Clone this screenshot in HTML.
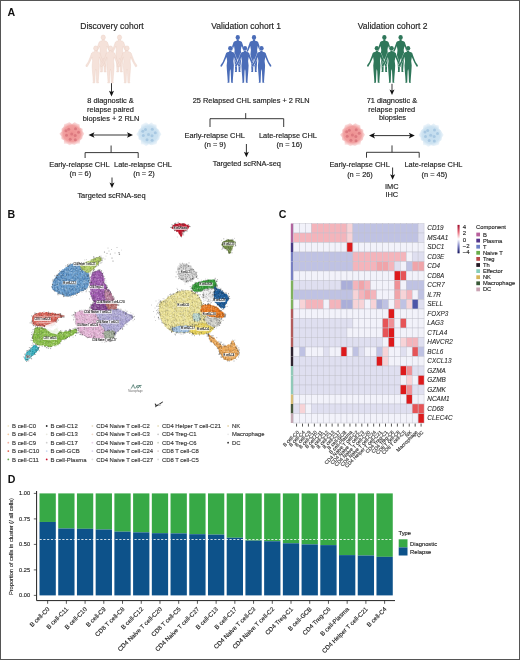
<!DOCTYPE html>
<html><head><meta charset="utf-8"><title>Figure</title>
<style>
html,body{margin:0;padding:0;background:#fff;overflow:hidden;width:520px;height:660px;}
svg{display:block;font-family:"Liberation Sans", sans-serif;-webkit-font-smoothing:antialiased;will-change:transform;}
</style></head>
<body>
<svg width="520" height="660" viewBox="0 0 520 660">
<rect x="0.5" y="0.5" width="519" height="659" fill="#fff" stroke="#555" stroke-width="1"/>
<text x="7.40" y="15.80" font-size="10.6" text-anchor="start" font-weight="bold" font-style="normal" fill="#111" >A</text>
<text x="7.60" y="217.90" font-size="10.6" text-anchor="start" font-weight="bold" font-style="normal" fill="#111" >B</text>
<text x="278.80" y="217.90" font-size="10.6" text-anchor="start" font-weight="bold" font-style="normal" fill="#111" >C</text>
<text x="7.70" y="482.60" font-size="10.6" text-anchor="start" font-weight="bold" font-style="normal" fill="#111" >D</text>
<text x="112.00" y="29.00" font-size="8.5" text-anchor="middle" font-weight="normal" font-style="normal" fill="#222" stroke="#222" stroke-width="0.16" >Discovery cohort</text>
<text x="246.20" y="28.80" font-size="8.5" text-anchor="middle" font-weight="normal" font-style="normal" fill="#222" stroke="#222" stroke-width="0.16" >Validation cohort 1</text>
<text x="392.70" y="29.20" font-size="8.5" text-anchor="middle" font-weight="normal" font-style="normal" fill="#222" stroke="#222" stroke-width="0.16" >Validation cohort 2</text>
<defs><g id="pp"><ellipse cx="0" cy="2.45" rx="2.15" ry="2.45"/><path d="M 0 4.6 L 1.0 4.7 L 1.1 5.8 Q 3.5 6.0 4.1 7.1 L 5.5 11 L 7.5 16 L 9.6 19.0 L 9.9 20.3 L 8.6 20.9 L 6.3 16.9 L 4.6 13.2 L 3.7 11.0 L 3.5 12.5 L 3.1 15 L 3.6 19.5 L 3.3 25 L 2.8 31 L 2.5 35.8 L 2.9 36.9 L 0.9 36.9 L 0.7 31 L 0.4 25 L 0 23.2 L -0.4 25 L -0.7 31 L -0.9 36.9 L -2.9 36.9 L -2.5 35.8 L -2.8 31 L -3.3 25 L -3.6 19.5 L -3.1 15 L -3.5 12.5 L -3.7 11.0 L -4.6 13.2 L -6.3 16.9 L -8.6 20.9 L -9.9 20.3 L -9.6 19.0 L -7.5 16 L -5.5 11 L -4.1 7.1 Q -3.5 6.0 -1.1 5.8 L -1.0 4.7 Z"/></g></defs>
<use href="#pp" x="103.25" y="35.00" fill="#f5e2da" stroke="#ebd0c5" stroke-width="0.45"/>
<use href="#pp" x="119.50" y="35.00" fill="#f5e2da" stroke="#ebd0c5" stroke-width="0.45"/>
<use href="#pp" x="95.75" y="45.90" fill="#f5e2da" stroke="#ebd0c5" stroke-width="0.45"/>
<use href="#pp" x="110.50" y="45.90" fill="#f5e2da" stroke="#ebd0c5" stroke-width="0.45"/>
<use href="#pp" x="127.00" y="45.90" fill="#f5e2da" stroke="#ebd0c5" stroke-width="0.45"/>
<use href="#pp" x="237.75" y="35.00" fill="#4b6db8"/>
<use href="#pp" x="254.00" y="35.00" fill="#4b6db8"/>
<use href="#pp" x="230.25" y="45.90" fill="#4b6db8" stroke="#fff" stroke-opacity="0.7" stroke-width="0.8" paint-order="stroke"/>
<use href="#pp" x="245.00" y="45.90" fill="#4b6db8" stroke="#fff" stroke-opacity="0.7" stroke-width="0.8" paint-order="stroke"/>
<use href="#pp" x="261.50" y="45.90" fill="#4b6db8" stroke="#fff" stroke-opacity="0.7" stroke-width="0.8" paint-order="stroke"/>
<use href="#pp" x="384.35" y="35.00" fill="#2f775a"/>
<use href="#pp" x="400.60" y="35.00" fill="#2f775a"/>
<use href="#pp" x="376.85" y="45.90" fill="#2f775a" stroke="#fff" stroke-opacity="0.7" stroke-width="0.8" paint-order="stroke"/>
<use href="#pp" x="391.60" y="45.90" fill="#2f775a" stroke="#fff" stroke-opacity="0.7" stroke-width="0.8" paint-order="stroke"/>
<use href="#pp" x="408.10" y="45.90" fill="#2f775a" stroke="#fff" stroke-opacity="0.7" stroke-width="0.8" paint-order="stroke"/>
<defs>
<radialGradient id="rg" cx="50%" cy="50%" r="50%"><stop offset="0" stop-color="#ee9090"/><stop offset="0.7" stop-color="#f1a0a0"/><stop offset="1" stop-color="#f6c4c4" stop-opacity="0.5"/></radialGradient>
<radialGradient id="bg" cx="50%" cy="50%" r="50%"><stop offset="0" stop-color="#c2dcee"/><stop offset="0.7" stop-color="#cce2f1"/><stop offset="1" stop-color="#e0edf7" stop-opacity="0.5"/></radialGradient>
</defs>
<defs><filter id="blr" x="-20%" y="-20%" width="140%" height="140%"><feGaussianBlur stdDeviation="0.55"/></filter></defs>
<line x1="111.5" y1="83.2" x2="111.5" y2="92.4" stroke="#111" stroke-width="0.85"/>
<path d="M 111.5 96.4 L 109.0 90.80000000000001 L 111.5 92.10000000000001 L 114.0 90.80000000000001 Z" fill="#111"/>
<text x="110.50" y="102.90" font-size="7.4" text-anchor="middle" font-weight="normal" font-style="normal" fill="#222" stroke="#222" stroke-width="0.16" >8 diagnostic &amp;</text>
<text x="110.50" y="111.90" font-size="7.4" text-anchor="middle" font-weight="normal" font-style="normal" fill="#222" stroke="#222" stroke-width="0.16" >relapse paired</text>
<text x="111.00" y="120.80" font-size="7.4" text-anchor="middle" font-weight="normal" font-style="normal" fill="#222" stroke="#222" stroke-width="0.16" >biopsies + 2 RLN</text>
<g filter="url(#blr)"><polygon points="84.34,133.80 82.70,136.24 82.21,138.72 80.23,140.37 79.79,143.57 76.73,143.63 74.53,144.89 72.00,144.34 69.41,145.13 67.19,143.78 63.98,143.86 63.87,140.28 61.37,138.92 61.36,136.23 59.26,133.80 61.68,131.44 61.55,128.77 63.56,127.07 64.27,124.11 66.97,123.37 69.32,122.06 72.00,124.04 74.70,121.98 76.96,123.50 79.59,124.28 79.78,127.59 82.65,128.67 82.63,131.37" fill="url(#rg)"/>
<circle cx="68.70" cy="129.20" r="1.5" fill="#dc7a80"/>
<circle cx="75.50" cy="128.80" r="1.5" fill="#dc7a80"/>
<circle cx="71.70" cy="134.10" r="1.5" fill="#dc7a80"/>
<circle cx="66.50" cy="135.20" r="1.5" fill="#dc7a80"/>
<circle cx="75.20" cy="135.40" r="1.5" fill="#dc7a80"/>
<circle cx="70.20" cy="139.30" r="1.5" fill="#dc7a80"/>
<circle cx="75.30" cy="139.80" r="1.5" fill="#dc7a80"/>
<circle cx="78.50" cy="132.30" r="1.5" fill="#dc7a80"/>
<circle cx="66.00" cy="130.80" r="1.5" fill="#dc7a80"/>
</g>
<g filter="url(#blr)"><polygon points="161.52,134.20 159.70,136.69 159.39,139.30 157.30,140.98 156.66,144.06 153.90,144.80 151.34,145.31 148.80,144.37 146.06,146.20 143.81,144.55 140.83,144.19 140.95,140.46 138.50,139.16 138.39,136.58 136.16,134.20 138.07,131.75 138.91,129.44 140.87,127.88 141.22,124.70 143.70,123.61 146.10,122.37 148.80,124.34 151.51,122.34 153.56,124.31 156.59,124.43 156.66,127.93 158.68,129.44 159.82,131.68" fill="url(#bg)"/>
<circle cx="145.50" cy="129.60" r="1.5" fill="#a8c8e2"/>
<circle cx="152.30" cy="129.20" r="1.5" fill="#a8c8e2"/>
<circle cx="148.50" cy="134.50" r="1.5" fill="#a8c8e2"/>
<circle cx="143.30" cy="135.60" r="1.5" fill="#a8c8e2"/>
<circle cx="152.00" cy="135.80" r="1.5" fill="#a8c8e2"/>
<circle cx="147.00" cy="139.70" r="1.5" fill="#a8c8e2"/>
<circle cx="152.10" cy="140.20" r="1.5" fill="#a8c8e2"/>
<circle cx="155.30" cy="132.70" r="1.5" fill="#a8c8e2"/>
<circle cx="142.80" cy="131.20" r="1.5" fill="#a8c8e2"/>
</g>
<line x1="92.5" y1="135" x2="129" y2="135" stroke="#111" stroke-width="0.85"/>
<path d="M 88.5 135 L 94.5 132.2 L 93.1 135 L 94.5 137.8 Z" fill="#111"/>
<path d="M 133 135 L 127 132.2 L 128.4 135 L 127 137.8 Z" fill="#111"/>
<path d="M 111.1 145.5 L 111.1 152.6 M 85.1 158.0 L 85.1 152.6 L 138.2 152.6 L 138.2 158.0" fill="none" stroke="#222" stroke-width="0.9"/>
<text x="79.40" y="167.30" font-size="7.4" text-anchor="middle" font-weight="normal" font-style="normal" fill="#222" stroke="#222" stroke-width="0.16" >Early-relapse CHL</text>
<text x="80.40" y="176.30" font-size="7.4" text-anchor="middle" font-weight="normal" font-style="normal" fill="#222" stroke="#222" stroke-width="0.16" >(n = 6)</text>
<text x="143.00" y="167.30" font-size="7.4" text-anchor="middle" font-weight="normal" font-style="normal" fill="#222" stroke="#222" stroke-width="0.16" >Late-relapse CHL</text>
<text x="144.00" y="176.30" font-size="7.4" text-anchor="middle" font-weight="normal" font-style="normal" fill="#222" stroke="#222" stroke-width="0.16" >(n = 2)</text>
<line x1="112" y1="177.5" x2="112" y2="184" stroke="#111" stroke-width="0.85"/>
<path d="M 112 188 L 109.5 182.4 L 112 183.7 L 114.5 182.4 Z" fill="#111"/>
<text x="111.50" y="197.50" font-size="7.4" text-anchor="middle" font-weight="normal" font-style="normal" fill="#222" stroke="#222" stroke-width="0.16" >Targeted scRNA-seq</text>
<text x="251.20" y="102.90" font-size="7.4" text-anchor="middle" font-weight="normal" font-style="normal" fill="#222" stroke="#222" stroke-width="0.16" >25 Relapsed CHL samples + 2 RLN</text>
<path d="M 245.7 113.1 L 245.7 118.7 M 210.0 127.0 L 210.0 118.7 L 283.7 118.7 L 283.7 127.0" fill="none" stroke="#222" stroke-width="0.9"/>
<text x="214.70" y="137.50" font-size="7.4" text-anchor="middle" font-weight="normal" font-style="normal" fill="#222" stroke="#222" stroke-width="0.16" >Early-relapse CHL</text>
<text x="215.10" y="147.00" font-size="7.4" text-anchor="middle" font-weight="normal" font-style="normal" fill="#222" stroke="#222" stroke-width="0.16" >(n = 9)</text>
<text x="287.90" y="137.50" font-size="7.4" text-anchor="middle" font-weight="normal" font-style="normal" fill="#222" stroke="#222" stroke-width="0.16" >Late-relapse CHL</text>
<text x="289.40" y="147.00" font-size="7.4" text-anchor="middle" font-weight="normal" font-style="normal" fill="#222" stroke="#222" stroke-width="0.16" >(n = 16)</text>
<line x1="246.4" y1="144" x2="246.4" y2="153.3" stroke="#111" stroke-width="0.85"/>
<path d="M 246.4 157.3 L 243.9 151.70000000000002 L 246.4 153.0 L 248.9 151.70000000000002 Z" fill="#111"/>
<text x="246.80" y="166.40" font-size="7.4" text-anchor="middle" font-weight="normal" font-style="normal" fill="#222" stroke="#222" stroke-width="0.16" >Targeted scRNA-seq</text>
<line x1="392" y1="83.8" x2="392" y2="91" stroke="#111" stroke-width="0.85"/>
<path d="M 392 95 L 389.5 89.4 L 392 90.7 L 394.5 89.4 Z" fill="#111"/>
<text x="391.90" y="102.80" font-size="7.4" text-anchor="middle" font-weight="normal" font-style="normal" fill="#222" stroke="#222" stroke-width="0.16" >71 diagnostic &amp;</text>
<text x="391.70" y="111.90" font-size="7.4" text-anchor="middle" font-weight="normal" font-style="normal" fill="#222" stroke="#222" stroke-width="0.16" >relapse paired</text>
<text x="392.50" y="120.40" font-size="7.4" text-anchor="middle" font-weight="normal" font-style="normal" fill="#222" stroke="#222" stroke-width="0.16" >biopsies</text>
<g filter="url(#blr)"><polygon points="365.04,134.80 363.40,137.24 362.91,139.72 360.93,141.37 360.49,144.57 357.43,144.63 355.23,145.89 352.70,145.34 350.11,146.13 347.89,144.78 344.68,144.86 344.57,141.28 342.07,139.92 342.06,137.23 339.96,134.80 342.38,132.44 342.25,129.77 344.26,128.07 344.97,125.11 347.67,124.37 350.02,123.06 352.70,125.04 355.40,122.98 357.66,124.50 360.29,125.28 360.48,128.59 363.35,129.67 363.33,132.37" fill="url(#rg)"/>
<circle cx="349.40" cy="130.20" r="1.5" fill="#dc7a80"/>
<circle cx="356.20" cy="129.80" r="1.5" fill="#dc7a80"/>
<circle cx="352.40" cy="135.10" r="1.5" fill="#dc7a80"/>
<circle cx="347.20" cy="136.20" r="1.5" fill="#dc7a80"/>
<circle cx="355.90" cy="136.40" r="1.5" fill="#dc7a80"/>
<circle cx="350.90" cy="140.30" r="1.5" fill="#dc7a80"/>
<circle cx="356.00" cy="140.80" r="1.5" fill="#dc7a80"/>
<circle cx="359.20" cy="133.30" r="1.5" fill="#dc7a80"/>
<circle cx="346.70" cy="131.80" r="1.5" fill="#dc7a80"/>
</g>
<g filter="url(#blr)"><polygon points="443.72,135.00 441.90,137.49 441.59,140.10 439.50,141.78 438.86,144.86 436.10,145.60 433.54,146.11 431.00,145.17 428.26,147.00 426.01,145.35 423.03,144.99 423.15,141.26 420.70,139.96 420.59,137.38 418.36,135.00 420.27,132.55 421.11,130.24 423.07,128.68 423.42,125.50 425.90,124.41 428.30,123.17 431.00,125.14 433.71,123.14 435.76,125.11 438.79,125.23 438.86,128.73 440.88,130.24 442.02,132.48" fill="url(#bg)"/>
<circle cx="427.70" cy="130.40" r="1.5" fill="#a8c8e2"/>
<circle cx="434.50" cy="130.00" r="1.5" fill="#a8c8e2"/>
<circle cx="430.70" cy="135.30" r="1.5" fill="#a8c8e2"/>
<circle cx="425.50" cy="136.40" r="1.5" fill="#a8c8e2"/>
<circle cx="434.20" cy="136.60" r="1.5" fill="#a8c8e2"/>
<circle cx="429.20" cy="140.50" r="1.5" fill="#a8c8e2"/>
<circle cx="434.30" cy="141.00" r="1.5" fill="#a8c8e2"/>
<circle cx="437.50" cy="133.50" r="1.5" fill="#a8c8e2"/>
<circle cx="425.00" cy="132.00" r="1.5" fill="#a8c8e2"/>
</g>
<line x1="373" y1="135.6" x2="410.8" y2="135.6" stroke="#111" stroke-width="0.85"/>
<path d="M 369 135.6 L 375 132.79999999999998 L 373.6 135.6 L 375 138.4 Z" fill="#111"/>
<path d="M 414.8 135.6 L 408.8 132.79999999999998 L 410.2 135.6 L 408.8 138.4 Z" fill="#111"/>
<path d="M 392 145.4 L 392 152.3 M 366.5 157.7 L 366.5 152.3 L 419.2 152.3 L 419.2 157.7" fill="none" stroke="#222" stroke-width="0.9"/>
<text x="359.60" y="167.20" font-size="7.4" text-anchor="middle" font-weight="normal" font-style="normal" fill="#222" stroke="#222" stroke-width="0.16" >Early-relapse CHL</text>
<text x="360.00" y="176.50" font-size="7.4" text-anchor="middle" font-weight="normal" font-style="normal" fill="#222" stroke="#222" stroke-width="0.16" >(n = 26)</text>
<text x="433.40" y="167.20" font-size="7.4" text-anchor="middle" font-weight="normal" font-style="normal" fill="#222" stroke="#222" stroke-width="0.16" >Late-relapse CHL</text>
<text x="434.40" y="176.50" font-size="7.4" text-anchor="middle" font-weight="normal" font-style="normal" fill="#222" stroke="#222" stroke-width="0.16" >(n = 45)</text>
<line x1="392.6" y1="167.5" x2="392.6" y2="175.8" stroke="#111" stroke-width="0.85"/>
<path d="M 392.6 179.8 L 390.1 174.20000000000002 L 392.6 175.5 L 395.1 174.20000000000002 Z" fill="#111"/>
<text x="391.80" y="188.50" font-size="7.4" text-anchor="middle" font-weight="normal" font-style="normal" fill="#222" stroke="#222" stroke-width="0.16" >IMC</text>
<text x="391.80" y="197.40" font-size="7.4" text-anchor="middle" font-weight="normal" font-style="normal" fill="#222" stroke="#222" stroke-width="0.16" >IHC</text>
<rect x="290.80" y="223.50" width="2.6" height="9.50" fill="#b0649e"/>
<rect x="293.60" y="223.50" width="5.93" height="9.50" fill="#f2f2fa" stroke="#c0c0cc" stroke-width="0.45"/>
<rect x="299.53" y="223.50" width="5.93" height="9.50" fill="#f2f2fa" stroke="#c0c0cc" stroke-width="0.45"/>
<rect x="305.46" y="223.50" width="5.93" height="9.50" fill="#f2f2fa" stroke="#c0c0cc" stroke-width="0.45"/>
<rect x="311.39" y="223.50" width="5.93" height="9.50" fill="#f4b4bb" stroke="#c0c0cc" stroke-width="0.45"/>
<rect x="317.32" y="223.50" width="5.93" height="9.50" fill="#f4b4bb" stroke="#c0c0cc" stroke-width="0.45"/>
<rect x="323.25" y="223.50" width="5.93" height="9.50" fill="#f4b4bb" stroke="#c0c0cc" stroke-width="0.45"/>
<rect x="329.18" y="223.50" width="5.93" height="9.50" fill="#f4b4bb" stroke="#c0c0cc" stroke-width="0.45"/>
<rect x="335.11" y="223.50" width="5.93" height="9.50" fill="#f4b4bb" stroke="#c0c0cc" stroke-width="0.45"/>
<rect x="341.04" y="223.50" width="5.93" height="9.50" fill="#f4b4bb" stroke="#c0c0cc" stroke-width="0.45"/>
<rect x="346.97" y="223.50" width="5.93" height="9.50" fill="#f7d3d7" stroke="#c0c0cc" stroke-width="0.45"/>
<rect x="352.90" y="223.50" width="5.93" height="9.50" fill="#bfc2e3" stroke="#c0c0cc" stroke-width="0.45"/>
<rect x="358.83" y="223.50" width="5.93" height="9.50" fill="#bfc2e3" stroke="#c0c0cc" stroke-width="0.45"/>
<rect x="364.76" y="223.50" width="5.93" height="9.50" fill="#bfc2e3" stroke="#c0c0cc" stroke-width="0.45"/>
<rect x="370.69" y="223.50" width="5.93" height="9.50" fill="#bfc2e3" stroke="#c0c0cc" stroke-width="0.45"/>
<rect x="376.62" y="223.50" width="5.93" height="9.50" fill="#bfc2e3" stroke="#c0c0cc" stroke-width="0.45"/>
<rect x="382.55" y="223.50" width="5.93" height="9.50" fill="#bfc2e3" stroke="#c0c0cc" stroke-width="0.45"/>
<rect x="388.48" y="223.50" width="5.93" height="9.50" fill="#bfc2e3" stroke="#c0c0cc" stroke-width="0.45"/>
<rect x="394.41" y="223.50" width="5.93" height="9.50" fill="#bfc2e3" stroke="#c0c0cc" stroke-width="0.45"/>
<rect x="400.34" y="223.50" width="5.93" height="9.50" fill="#bfc2e3" stroke="#c0c0cc" stroke-width="0.45"/>
<rect x="406.27" y="223.50" width="5.93" height="9.50" fill="#bfc2e3" stroke="#c0c0cc" stroke-width="0.45"/>
<rect x="412.20" y="223.50" width="5.93" height="9.50" fill="#bfc2e3" stroke="#c0c0cc" stroke-width="0.45"/>
<rect x="418.13" y="223.50" width="5.93" height="9.50" fill="#dfdff0" stroke="#c0c0cc" stroke-width="0.45"/>
<text x="427.30" y="230.45" font-size="6.4" text-anchor="start" font-weight="normal" font-style="italic" fill="#222" stroke="#222" stroke-width="0.06" >CD19</text>
<rect x="290.80" y="233.00" width="2.6" height="9.50" fill="#b0649e"/>
<rect x="293.60" y="233.00" width="5.93" height="9.50" fill="#f4b4bb" stroke="#c0c0cc" stroke-width="0.45"/>
<rect x="299.53" y="233.00" width="5.93" height="9.50" fill="#f4b4bb" stroke="#c0c0cc" stroke-width="0.45"/>
<rect x="305.46" y="233.00" width="5.93" height="9.50" fill="#f4b4bb" stroke="#c0c0cc" stroke-width="0.45"/>
<rect x="311.39" y="233.00" width="5.93" height="9.50" fill="#f4b4bb" stroke="#c0c0cc" stroke-width="0.45"/>
<rect x="317.32" y="233.00" width="5.93" height="9.50" fill="#f4b4bb" stroke="#c0c0cc" stroke-width="0.45"/>
<rect x="323.25" y="233.00" width="5.93" height="9.50" fill="#f4b4bb" stroke="#c0c0cc" stroke-width="0.45"/>
<rect x="329.18" y="233.00" width="5.93" height="9.50" fill="#f4b4bb" stroke="#c0c0cc" stroke-width="0.45"/>
<rect x="335.11" y="233.00" width="5.93" height="9.50" fill="#f4b4bb" stroke="#c0c0cc" stroke-width="0.45"/>
<rect x="341.04" y="233.00" width="5.93" height="9.50" fill="#f4b4bb" stroke="#c0c0cc" stroke-width="0.45"/>
<rect x="346.97" y="233.00" width="5.93" height="9.50" fill="#f7d3d7" stroke="#c0c0cc" stroke-width="0.45"/>
<rect x="352.90" y="233.00" width="5.93" height="9.50" fill="#bfc2e3" stroke="#c0c0cc" stroke-width="0.45"/>
<rect x="358.83" y="233.00" width="5.93" height="9.50" fill="#bfc2e3" stroke="#c0c0cc" stroke-width="0.45"/>
<rect x="364.76" y="233.00" width="5.93" height="9.50" fill="#bfc2e3" stroke="#c0c0cc" stroke-width="0.45"/>
<rect x="370.69" y="233.00" width="5.93" height="9.50" fill="#bfc2e3" stroke="#c0c0cc" stroke-width="0.45"/>
<rect x="376.62" y="233.00" width="5.93" height="9.50" fill="#bfc2e3" stroke="#c0c0cc" stroke-width="0.45"/>
<rect x="382.55" y="233.00" width="5.93" height="9.50" fill="#bfc2e3" stroke="#c0c0cc" stroke-width="0.45"/>
<rect x="388.48" y="233.00" width="5.93" height="9.50" fill="#bfc2e3" stroke="#c0c0cc" stroke-width="0.45"/>
<rect x="394.41" y="233.00" width="5.93" height="9.50" fill="#bfc2e3" stroke="#c0c0cc" stroke-width="0.45"/>
<rect x="400.34" y="233.00" width="5.93" height="9.50" fill="#bfc2e3" stroke="#c0c0cc" stroke-width="0.45"/>
<rect x="406.27" y="233.00" width="5.93" height="9.50" fill="#bfc2e3" stroke="#c0c0cc" stroke-width="0.45"/>
<rect x="412.20" y="233.00" width="5.93" height="9.50" fill="#bfc2e3" stroke="#c0c0cc" stroke-width="0.45"/>
<rect x="418.13" y="233.00" width="5.93" height="9.50" fill="#dfdff0" stroke="#c0c0cc" stroke-width="0.45"/>
<text x="427.30" y="239.95" font-size="6.4" text-anchor="start" font-weight="normal" font-style="italic" fill="#222" stroke="#222" stroke-width="0.06" >MS4A1</text>
<rect x="290.80" y="242.50" width="2.6" height="9.50" fill="#463a86"/>
<rect x="293.60" y="242.50" width="5.93" height="9.50" fill="#f2f2fa" stroke="#c0c0cc" stroke-width="0.45"/>
<rect x="299.53" y="242.50" width="5.93" height="9.50" fill="#f2f2fa" stroke="#c0c0cc" stroke-width="0.45"/>
<rect x="305.46" y="242.50" width="5.93" height="9.50" fill="#f2f2fa" stroke="#c0c0cc" stroke-width="0.45"/>
<rect x="311.39" y="242.50" width="5.93" height="9.50" fill="#f2f2fa" stroke="#c0c0cc" stroke-width="0.45"/>
<rect x="317.32" y="242.50" width="5.93" height="9.50" fill="#f2f2fa" stroke="#c0c0cc" stroke-width="0.45"/>
<rect x="323.25" y="242.50" width="5.93" height="9.50" fill="#f2f2fa" stroke="#c0c0cc" stroke-width="0.45"/>
<rect x="329.18" y="242.50" width="5.93" height="9.50" fill="#f2f2fa" stroke="#c0c0cc" stroke-width="0.45"/>
<rect x="335.11" y="242.50" width="5.93" height="9.50" fill="#f2f2fa" stroke="#c0c0cc" stroke-width="0.45"/>
<rect x="341.04" y="242.50" width="5.93" height="9.50" fill="#f2f2fa" stroke="#c0c0cc" stroke-width="0.45"/>
<rect x="346.97" y="242.50" width="5.93" height="9.50" fill="#dd1a1c" stroke="#c0c0cc" stroke-width="0.45"/>
<rect x="352.90" y="242.50" width="5.93" height="9.50" fill="#f2f2fa" stroke="#c0c0cc" stroke-width="0.45"/>
<rect x="358.83" y="242.50" width="5.93" height="9.50" fill="#f2f2fa" stroke="#c0c0cc" stroke-width="0.45"/>
<rect x="364.76" y="242.50" width="5.93" height="9.50" fill="#f2f2fa" stroke="#c0c0cc" stroke-width="0.45"/>
<rect x="370.69" y="242.50" width="5.93" height="9.50" fill="#f2f2fa" stroke="#c0c0cc" stroke-width="0.45"/>
<rect x="376.62" y="242.50" width="5.93" height="9.50" fill="#f2f2fa" stroke="#c0c0cc" stroke-width="0.45"/>
<rect x="382.55" y="242.50" width="5.93" height="9.50" fill="#f2f2fa" stroke="#c0c0cc" stroke-width="0.45"/>
<rect x="388.48" y="242.50" width="5.93" height="9.50" fill="#f2f2fa" stroke="#c0c0cc" stroke-width="0.45"/>
<rect x="394.41" y="242.50" width="5.93" height="9.50" fill="#f2f2fa" stroke="#c0c0cc" stroke-width="0.45"/>
<rect x="400.34" y="242.50" width="5.93" height="9.50" fill="#f2f2fa" stroke="#c0c0cc" stroke-width="0.45"/>
<rect x="406.27" y="242.50" width="5.93" height="9.50" fill="#f2f2fa" stroke="#c0c0cc" stroke-width="0.45"/>
<rect x="412.20" y="242.50" width="5.93" height="9.50" fill="#f2f2fa" stroke="#c0c0cc" stroke-width="0.45"/>
<rect x="418.13" y="242.50" width="5.93" height="9.50" fill="#f2f2fa" stroke="#c0c0cc" stroke-width="0.45"/>
<text x="427.30" y="249.45" font-size="6.4" text-anchor="start" font-weight="normal" font-style="italic" fill="#222" stroke="#222" stroke-width="0.06" >SDC1</text>
<rect x="290.80" y="252.00" width="2.6" height="9.50" fill="#7880c2"/>
<rect x="293.60" y="252.00" width="5.93" height="9.50" fill="#bfc2e3" stroke="#c0c0cc" stroke-width="0.45"/>
<rect x="299.53" y="252.00" width="5.93" height="9.50" fill="#bfc2e3" stroke="#c0c0cc" stroke-width="0.45"/>
<rect x="305.46" y="252.00" width="5.93" height="9.50" fill="#bfc2e3" stroke="#c0c0cc" stroke-width="0.45"/>
<rect x="311.39" y="252.00" width="5.93" height="9.50" fill="#bfc2e3" stroke="#c0c0cc" stroke-width="0.45"/>
<rect x="317.32" y="252.00" width="5.93" height="9.50" fill="#bfc2e3" stroke="#c0c0cc" stroke-width="0.45"/>
<rect x="323.25" y="252.00" width="5.93" height="9.50" fill="#bfc2e3" stroke="#c0c0cc" stroke-width="0.45"/>
<rect x="329.18" y="252.00" width="5.93" height="9.50" fill="#bfc2e3" stroke="#c0c0cc" stroke-width="0.45"/>
<rect x="335.11" y="252.00" width="5.93" height="9.50" fill="#bfc2e3" stroke="#c0c0cc" stroke-width="0.45"/>
<rect x="341.04" y="252.00" width="5.93" height="9.50" fill="#bfc2e3" stroke="#c0c0cc" stroke-width="0.45"/>
<rect x="346.97" y="252.00" width="5.93" height="9.50" fill="#bfc2e3" stroke="#c0c0cc" stroke-width="0.45"/>
<rect x="352.90" y="252.00" width="5.93" height="9.50" fill="#f4b4bb" stroke="#c0c0cc" stroke-width="0.45"/>
<rect x="358.83" y="252.00" width="5.93" height="9.50" fill="#f4b4bb" stroke="#c0c0cc" stroke-width="0.45"/>
<rect x="364.76" y="252.00" width="5.93" height="9.50" fill="#f4b4bb" stroke="#c0c0cc" stroke-width="0.45"/>
<rect x="370.69" y="252.00" width="5.93" height="9.50" fill="#f4b4bb" stroke="#c0c0cc" stroke-width="0.45"/>
<rect x="376.62" y="252.00" width="5.93" height="9.50" fill="#f4b4bb" stroke="#c0c0cc" stroke-width="0.45"/>
<rect x="382.55" y="252.00" width="5.93" height="9.50" fill="#f4b4bb" stroke="#c0c0cc" stroke-width="0.45"/>
<rect x="388.48" y="252.00" width="5.93" height="9.50" fill="#f4b4bb" stroke="#c0c0cc" stroke-width="0.45"/>
<rect x="394.41" y="252.00" width="5.93" height="9.50" fill="#f4b4bb" stroke="#c0c0cc" stroke-width="0.45"/>
<rect x="400.34" y="252.00" width="5.93" height="9.50" fill="#f4b4bb" stroke="#c0c0cc" stroke-width="0.45"/>
<rect x="406.27" y="252.00" width="5.93" height="9.50" fill="#f2f2fa" stroke="#c0c0cc" stroke-width="0.45"/>
<rect x="412.20" y="252.00" width="5.93" height="9.50" fill="#dfdff0" stroke="#c0c0cc" stroke-width="0.45"/>
<rect x="418.13" y="252.00" width="5.93" height="9.50" fill="#dfdff0" stroke="#c0c0cc" stroke-width="0.45"/>
<text x="427.30" y="258.95" font-size="6.4" text-anchor="start" font-weight="normal" font-style="italic" fill="#222" stroke="#222" stroke-width="0.06" >CD3E</text>
<rect x="290.80" y="261.50" width="2.6" height="9.50" fill="#7880c2"/>
<rect x="293.60" y="261.50" width="5.93" height="9.50" fill="#bfc2e3" stroke="#c0c0cc" stroke-width="0.45"/>
<rect x="299.53" y="261.50" width="5.93" height="9.50" fill="#bfc2e3" stroke="#c0c0cc" stroke-width="0.45"/>
<rect x="305.46" y="261.50" width="5.93" height="9.50" fill="#bfc2e3" stroke="#c0c0cc" stroke-width="0.45"/>
<rect x="311.39" y="261.50" width="5.93" height="9.50" fill="#bfc2e3" stroke="#c0c0cc" stroke-width="0.45"/>
<rect x="317.32" y="261.50" width="5.93" height="9.50" fill="#bfc2e3" stroke="#c0c0cc" stroke-width="0.45"/>
<rect x="323.25" y="261.50" width="5.93" height="9.50" fill="#bfc2e3" stroke="#c0c0cc" stroke-width="0.45"/>
<rect x="329.18" y="261.50" width="5.93" height="9.50" fill="#bfc2e3" stroke="#c0c0cc" stroke-width="0.45"/>
<rect x="335.11" y="261.50" width="5.93" height="9.50" fill="#bfc2e3" stroke="#c0c0cc" stroke-width="0.45"/>
<rect x="341.04" y="261.50" width="5.93" height="9.50" fill="#bfc2e3" stroke="#c0c0cc" stroke-width="0.45"/>
<rect x="346.97" y="261.50" width="5.93" height="9.50" fill="#bfc2e3" stroke="#c0c0cc" stroke-width="0.45"/>
<rect x="352.90" y="261.50" width="5.93" height="9.50" fill="#f4b4bb" stroke="#c0c0cc" stroke-width="0.45"/>
<rect x="358.83" y="261.50" width="5.93" height="9.50" fill="#f4b4bb" stroke="#c0c0cc" stroke-width="0.45"/>
<rect x="364.76" y="261.50" width="5.93" height="9.50" fill="#f4b4bb" stroke="#c0c0cc" stroke-width="0.45"/>
<rect x="370.69" y="261.50" width="5.93" height="9.50" fill="#f4b4bb" stroke="#c0c0cc" stroke-width="0.45"/>
<rect x="376.62" y="261.50" width="5.93" height="9.50" fill="#f0a4a9" stroke="#c0c0cc" stroke-width="0.45"/>
<rect x="382.55" y="261.50" width="5.93" height="9.50" fill="#f0a4a9" stroke="#c0c0cc" stroke-width="0.45"/>
<rect x="388.48" y="261.50" width="5.93" height="9.50" fill="#f4b4bb" stroke="#c0c0cc" stroke-width="0.45"/>
<rect x="394.41" y="261.50" width="5.93" height="9.50" fill="#dfdff0" stroke="#c0c0cc" stroke-width="0.45"/>
<rect x="400.34" y="261.50" width="5.93" height="9.50" fill="#f2f2fa" stroke="#c0c0cc" stroke-width="0.45"/>
<rect x="406.27" y="261.50" width="5.93" height="9.50" fill="#bfc2e3" stroke="#c0c0cc" stroke-width="0.45"/>
<rect x="412.20" y="261.50" width="5.93" height="9.50" fill="#f0a4a9" stroke="#c0c0cc" stroke-width="0.45"/>
<rect x="418.13" y="261.50" width="5.93" height="9.50" fill="#f0a4a9" stroke="#c0c0cc" stroke-width="0.45"/>
<text x="427.30" y="268.45" font-size="6.4" text-anchor="start" font-weight="normal" font-style="italic" fill="#222" stroke="#222" stroke-width="0.06" >CD4</text>
<rect x="290.80" y="271.00" width="2.6" height="9.50" fill="#7880c2"/>
<rect x="293.60" y="271.00" width="5.93" height="9.50" fill="#f2f2fa" stroke="#c0c0cc" stroke-width="0.45"/>
<rect x="299.53" y="271.00" width="5.93" height="9.50" fill="#f2f2fa" stroke="#c0c0cc" stroke-width="0.45"/>
<rect x="305.46" y="271.00" width="5.93" height="9.50" fill="#f2f2fa" stroke="#c0c0cc" stroke-width="0.45"/>
<rect x="311.39" y="271.00" width="5.93" height="9.50" fill="#f2f2fa" stroke="#c0c0cc" stroke-width="0.45"/>
<rect x="317.32" y="271.00" width="5.93" height="9.50" fill="#f2f2fa" stroke="#c0c0cc" stroke-width="0.45"/>
<rect x="323.25" y="271.00" width="5.93" height="9.50" fill="#f2f2fa" stroke="#c0c0cc" stroke-width="0.45"/>
<rect x="329.18" y="271.00" width="5.93" height="9.50" fill="#f2f2fa" stroke="#c0c0cc" stroke-width="0.45"/>
<rect x="335.11" y="271.00" width="5.93" height="9.50" fill="#f2f2fa" stroke="#c0c0cc" stroke-width="0.45"/>
<rect x="341.04" y="271.00" width="5.93" height="9.50" fill="#f2f2fa" stroke="#c0c0cc" stroke-width="0.45"/>
<rect x="346.97" y="271.00" width="5.93" height="9.50" fill="#f2f2fa" stroke="#c0c0cc" stroke-width="0.45"/>
<rect x="352.90" y="271.00" width="5.93" height="9.50" fill="#f2f2fa" stroke="#c0c0cc" stroke-width="0.45"/>
<rect x="358.83" y="271.00" width="5.93" height="9.50" fill="#f2f2fa" stroke="#c0c0cc" stroke-width="0.45"/>
<rect x="364.76" y="271.00" width="5.93" height="9.50" fill="#f2f2fa" stroke="#c0c0cc" stroke-width="0.45"/>
<rect x="370.69" y="271.00" width="5.93" height="9.50" fill="#f2f2fa" stroke="#c0c0cc" stroke-width="0.45"/>
<rect x="376.62" y="271.00" width="5.93" height="9.50" fill="#f2f2fa" stroke="#c0c0cc" stroke-width="0.45"/>
<rect x="382.55" y="271.00" width="5.93" height="9.50" fill="#f2f2fa" stroke="#c0c0cc" stroke-width="0.45"/>
<rect x="388.48" y="271.00" width="5.93" height="9.50" fill="#f2f2fa" stroke="#c0c0cc" stroke-width="0.45"/>
<rect x="394.41" y="271.00" width="5.93" height="9.50" fill="#dd1a1c" stroke="#c0c0cc" stroke-width="0.45"/>
<rect x="400.34" y="271.00" width="5.93" height="9.50" fill="#e65457" stroke="#c0c0cc" stroke-width="0.45"/>
<rect x="406.27" y="271.00" width="5.93" height="9.50" fill="#f2f2fa" stroke="#c0c0cc" stroke-width="0.45"/>
<rect x="412.20" y="271.00" width="5.93" height="9.50" fill="#f2f2fa" stroke="#c0c0cc" stroke-width="0.45"/>
<rect x="418.13" y="271.00" width="5.93" height="9.50" fill="#f2f2fa" stroke="#c0c0cc" stroke-width="0.45"/>
<text x="427.30" y="277.95" font-size="6.4" text-anchor="start" font-weight="normal" font-style="italic" fill="#222" stroke="#222" stroke-width="0.06" >CD8A</text>
<rect x="290.80" y="280.50" width="2.6" height="9.50" fill="#7fb25e"/>
<rect x="293.60" y="280.50" width="5.93" height="9.50" fill="#dfdff0" stroke="#c0c0cc" stroke-width="0.45"/>
<rect x="299.53" y="280.50" width="5.93" height="9.50" fill="#dfdff0" stroke="#c0c0cc" stroke-width="0.45"/>
<rect x="305.46" y="280.50" width="5.93" height="9.50" fill="#dfdff0" stroke="#c0c0cc" stroke-width="0.45"/>
<rect x="311.39" y="280.50" width="5.93" height="9.50" fill="#dfdff0" stroke="#c0c0cc" stroke-width="0.45"/>
<rect x="317.32" y="280.50" width="5.93" height="9.50" fill="#dfdff0" stroke="#c0c0cc" stroke-width="0.45"/>
<rect x="323.25" y="280.50" width="5.93" height="9.50" fill="#dfdff0" stroke="#c0c0cc" stroke-width="0.45"/>
<rect x="329.18" y="280.50" width="5.93" height="9.50" fill="#dfdff0" stroke="#c0c0cc" stroke-width="0.45"/>
<rect x="335.11" y="280.50" width="5.93" height="9.50" fill="#dfdff0" stroke="#c0c0cc" stroke-width="0.45"/>
<rect x="341.04" y="280.50" width="5.93" height="9.50" fill="#aaaed9" stroke="#c0c0cc" stroke-width="0.45"/>
<rect x="346.97" y="280.50" width="5.93" height="9.50" fill="#aaaed9" stroke="#c0c0cc" stroke-width="0.45"/>
<rect x="352.90" y="280.50" width="5.93" height="9.50" fill="#f4b4bb" stroke="#c0c0cc" stroke-width="0.45"/>
<rect x="358.83" y="280.50" width="5.93" height="9.50" fill="#f0a4a9" stroke="#c0c0cc" stroke-width="0.45"/>
<rect x="364.76" y="280.50" width="5.93" height="9.50" fill="#f4b4bb" stroke="#c0c0cc" stroke-width="0.45"/>
<rect x="370.69" y="280.50" width="5.93" height="9.50" fill="#f2f2fa" stroke="#c0c0cc" stroke-width="0.45"/>
<rect x="376.62" y="280.50" width="5.93" height="9.50" fill="#f2f2fa" stroke="#c0c0cc" stroke-width="0.45"/>
<rect x="382.55" y="280.50" width="5.93" height="9.50" fill="#f2f2fa" stroke="#c0c0cc" stroke-width="0.45"/>
<rect x="388.48" y="280.50" width="5.93" height="9.50" fill="#f2f2fa" stroke="#c0c0cc" stroke-width="0.45"/>
<rect x="394.41" y="280.50" width="5.93" height="9.50" fill="#ef9096" stroke="#c0c0cc" stroke-width="0.45"/>
<rect x="400.34" y="280.50" width="5.93" height="9.50" fill="#f2f2fa" stroke="#c0c0cc" stroke-width="0.45"/>
<rect x="406.27" y="280.50" width="5.93" height="9.50" fill="#bfc2e3" stroke="#c0c0cc" stroke-width="0.45"/>
<rect x="412.20" y="280.50" width="5.93" height="9.50" fill="#bfc2e3" stroke="#c0c0cc" stroke-width="0.45"/>
<rect x="418.13" y="280.50" width="5.93" height="9.50" fill="#bfc2e3" stroke="#c0c0cc" stroke-width="0.45"/>
<text x="427.30" y="287.45" font-size="6.4" text-anchor="start" font-weight="normal" font-style="italic" fill="#222" stroke="#222" stroke-width="0.06" >CCR7</text>
<rect x="290.80" y="290.00" width="2.6" height="9.50" fill="#7fb25e"/>
<rect x="293.60" y="290.00" width="5.93" height="9.50" fill="#bfc2e3" stroke="#c0c0cc" stroke-width="0.45"/>
<rect x="299.53" y="290.00" width="5.93" height="9.50" fill="#bfc2e3" stroke="#c0c0cc" stroke-width="0.45"/>
<rect x="305.46" y="290.00" width="5.93" height="9.50" fill="#bfc2e3" stroke="#c0c0cc" stroke-width="0.45"/>
<rect x="311.39" y="290.00" width="5.93" height="9.50" fill="#bfc2e3" stroke="#c0c0cc" stroke-width="0.45"/>
<rect x="317.32" y="290.00" width="5.93" height="9.50" fill="#bfc2e3" stroke="#c0c0cc" stroke-width="0.45"/>
<rect x="323.25" y="290.00" width="5.93" height="9.50" fill="#bfc2e3" stroke="#c0c0cc" stroke-width="0.45"/>
<rect x="329.18" y="290.00" width="5.93" height="9.50" fill="#bfc2e3" stroke="#c0c0cc" stroke-width="0.45"/>
<rect x="335.11" y="290.00" width="5.93" height="9.50" fill="#bfc2e3" stroke="#c0c0cc" stroke-width="0.45"/>
<rect x="341.04" y="290.00" width="5.93" height="9.50" fill="#bfc2e3" stroke="#c0c0cc" stroke-width="0.45"/>
<rect x="346.97" y="290.00" width="5.93" height="9.50" fill="#bfc2e3" stroke="#c0c0cc" stroke-width="0.45"/>
<rect x="352.90" y="290.00" width="5.93" height="9.50" fill="#f7d3d7" stroke="#c0c0cc" stroke-width="0.45"/>
<rect x="358.83" y="290.00" width="5.93" height="9.50" fill="#f4b4bb" stroke="#c0c0cc" stroke-width="0.45"/>
<rect x="364.76" y="290.00" width="5.93" height="9.50" fill="#f0a4a9" stroke="#c0c0cc" stroke-width="0.45"/>
<rect x="370.69" y="290.00" width="5.93" height="9.50" fill="#f4b4bb" stroke="#c0c0cc" stroke-width="0.45"/>
<rect x="376.62" y="290.00" width="5.93" height="9.50" fill="#f2f2fa" stroke="#c0c0cc" stroke-width="0.45"/>
<rect x="382.55" y="290.00" width="5.93" height="9.50" fill="#f2f2fa" stroke="#c0c0cc" stroke-width="0.45"/>
<rect x="388.48" y="290.00" width="5.93" height="9.50" fill="#f2f2fa" stroke="#c0c0cc" stroke-width="0.45"/>
<rect x="394.41" y="290.00" width="5.93" height="9.50" fill="#f0a4a9" stroke="#c0c0cc" stroke-width="0.45"/>
<rect x="400.34" y="290.00" width="5.93" height="9.50" fill="#f7d3d7" stroke="#c0c0cc" stroke-width="0.45"/>
<rect x="406.27" y="290.00" width="5.93" height="9.50" fill="#f4b4bb" stroke="#c0c0cc" stroke-width="0.45"/>
<rect x="412.20" y="290.00" width="5.93" height="9.50" fill="#f2f2fa" stroke="#c0c0cc" stroke-width="0.45"/>
<rect x="418.13" y="290.00" width="5.93" height="9.50" fill="#bfc2e3" stroke="#c0c0cc" stroke-width="0.45"/>
<text x="427.30" y="296.95" font-size="6.4" text-anchor="start" font-weight="normal" font-style="italic" fill="#222" stroke="#222" stroke-width="0.06" >IL7R</text>
<rect x="290.80" y="299.50" width="2.6" height="9.50" fill="#7fb25e"/>
<rect x="293.60" y="299.50" width="5.93" height="9.50" fill="#f2f2fa" stroke="#c0c0cc" stroke-width="0.45"/>
<rect x="299.53" y="299.50" width="5.93" height="9.50" fill="#f7d3d7" stroke="#c0c0cc" stroke-width="0.45"/>
<rect x="305.46" y="299.50" width="5.93" height="9.50" fill="#f4b4bb" stroke="#c0c0cc" stroke-width="0.45"/>
<rect x="311.39" y="299.50" width="5.93" height="9.50" fill="#f4b4bb" stroke="#c0c0cc" stroke-width="0.45"/>
<rect x="317.32" y="299.50" width="5.93" height="9.50" fill="#f4b4bb" stroke="#c0c0cc" stroke-width="0.45"/>
<rect x="323.25" y="299.50" width="5.93" height="9.50" fill="#f2f2fa" stroke="#c0c0cc" stroke-width="0.45"/>
<rect x="329.18" y="299.50" width="5.93" height="9.50" fill="#f4b4bb" stroke="#c0c0cc" stroke-width="0.45"/>
<rect x="335.11" y="299.50" width="5.93" height="9.50" fill="#f4b4bb" stroke="#c0c0cc" stroke-width="0.45"/>
<rect x="341.04" y="299.50" width="5.93" height="9.50" fill="#aaaed9" stroke="#c0c0cc" stroke-width="0.45"/>
<rect x="346.97" y="299.50" width="5.93" height="9.50" fill="#aaaed9" stroke="#c0c0cc" stroke-width="0.45"/>
<rect x="352.90" y="299.50" width="5.93" height="9.50" fill="#f7d3d7" stroke="#c0c0cc" stroke-width="0.45"/>
<rect x="358.83" y="299.50" width="5.93" height="9.50" fill="#f7d3d7" stroke="#c0c0cc" stroke-width="0.45"/>
<rect x="364.76" y="299.50" width="5.93" height="9.50" fill="#f2f2fa" stroke="#c0c0cc" stroke-width="0.45"/>
<rect x="370.69" y="299.50" width="5.93" height="9.50" fill="#f7d3d7" stroke="#c0c0cc" stroke-width="0.45"/>
<rect x="376.62" y="299.50" width="5.93" height="9.50" fill="#aaaed9" stroke="#c0c0cc" stroke-width="0.45"/>
<rect x="382.55" y="299.50" width="5.93" height="9.50" fill="#bfc2e3" stroke="#c0c0cc" stroke-width="0.45"/>
<rect x="388.48" y="299.50" width="5.93" height="9.50" fill="#f2f2fa" stroke="#c0c0cc" stroke-width="0.45"/>
<rect x="394.41" y="299.50" width="5.93" height="9.50" fill="#f4b4bb" stroke="#c0c0cc" stroke-width="0.45"/>
<rect x="400.34" y="299.50" width="5.93" height="9.50" fill="#bfc2e3" stroke="#c0c0cc" stroke-width="0.45"/>
<rect x="406.27" y="299.50" width="5.93" height="9.50" fill="#f7d3d7" stroke="#c0c0cc" stroke-width="0.45"/>
<rect x="412.20" y="299.50" width="5.93" height="9.50" fill="#4d55a8" stroke="#c0c0cc" stroke-width="0.45"/>
<rect x="418.13" y="299.50" width="5.93" height="9.50" fill="#dfdff0" stroke="#c0c0cc" stroke-width="0.45"/>
<text x="427.30" y="306.45" font-size="6.4" text-anchor="start" font-weight="normal" font-style="italic" fill="#222" stroke="#222" stroke-width="0.06" >SELL</text>
<rect x="290.80" y="309.00" width="2.6" height="9.50" fill="#b25c5c"/>
<rect x="293.60" y="309.00" width="5.93" height="9.50" fill="#f2f2fa" stroke="#c0c0cc" stroke-width="0.45"/>
<rect x="299.53" y="309.00" width="5.93" height="9.50" fill="#f2f2fa" stroke="#c0c0cc" stroke-width="0.45"/>
<rect x="305.46" y="309.00" width="5.93" height="9.50" fill="#f2f2fa" stroke="#c0c0cc" stroke-width="0.45"/>
<rect x="311.39" y="309.00" width="5.93" height="9.50" fill="#f2f2fa" stroke="#c0c0cc" stroke-width="0.45"/>
<rect x="317.32" y="309.00" width="5.93" height="9.50" fill="#f2f2fa" stroke="#c0c0cc" stroke-width="0.45"/>
<rect x="323.25" y="309.00" width="5.93" height="9.50" fill="#f2f2fa" stroke="#c0c0cc" stroke-width="0.45"/>
<rect x="329.18" y="309.00" width="5.93" height="9.50" fill="#f2f2fa" stroke="#c0c0cc" stroke-width="0.45"/>
<rect x="335.11" y="309.00" width="5.93" height="9.50" fill="#f2f2fa" stroke="#c0c0cc" stroke-width="0.45"/>
<rect x="341.04" y="309.00" width="5.93" height="9.50" fill="#f2f2fa" stroke="#c0c0cc" stroke-width="0.45"/>
<rect x="346.97" y="309.00" width="5.93" height="9.50" fill="#f2f2fa" stroke="#c0c0cc" stroke-width="0.45"/>
<rect x="352.90" y="309.00" width="5.93" height="9.50" fill="#f2f2fa" stroke="#c0c0cc" stroke-width="0.45"/>
<rect x="358.83" y="309.00" width="5.93" height="9.50" fill="#f2f2fa" stroke="#c0c0cc" stroke-width="0.45"/>
<rect x="364.76" y="309.00" width="5.93" height="9.50" fill="#f2f2fa" stroke="#c0c0cc" stroke-width="0.45"/>
<rect x="370.69" y="309.00" width="5.93" height="9.50" fill="#f2f2fa" stroke="#c0c0cc" stroke-width="0.45"/>
<rect x="376.62" y="309.00" width="5.93" height="9.50" fill="#f2f2fa" stroke="#c0c0cc" stroke-width="0.45"/>
<rect x="382.55" y="309.00" width="5.93" height="9.50" fill="#f2f2fa" stroke="#c0c0cc" stroke-width="0.45"/>
<rect x="388.48" y="309.00" width="5.93" height="9.50" fill="#dd1a1c" stroke="#c0c0cc" stroke-width="0.45"/>
<rect x="394.41" y="309.00" width="5.93" height="9.50" fill="#f2f2fa" stroke="#c0c0cc" stroke-width="0.45"/>
<rect x="400.34" y="309.00" width="5.93" height="9.50" fill="#f2f2fa" stroke="#c0c0cc" stroke-width="0.45"/>
<rect x="406.27" y="309.00" width="5.93" height="9.50" fill="#f2f2fa" stroke="#c0c0cc" stroke-width="0.45"/>
<rect x="412.20" y="309.00" width="5.93" height="9.50" fill="#f2f2fa" stroke="#c0c0cc" stroke-width="0.45"/>
<rect x="418.13" y="309.00" width="5.93" height="9.50" fill="#f2f2fa" stroke="#c0c0cc" stroke-width="0.45"/>
<text x="427.30" y="315.95" font-size="6.4" text-anchor="start" font-weight="normal" font-style="italic" fill="#222" stroke="#222" stroke-width="0.06" >FOXP3</text>
<rect x="290.80" y="318.50" width="2.6" height="9.50" fill="#b25c5c"/>
<rect x="293.60" y="318.50" width="5.93" height="9.50" fill="#dfdff0" stroke="#c0c0cc" stroke-width="0.45"/>
<rect x="299.53" y="318.50" width="5.93" height="9.50" fill="#dfdff0" stroke="#c0c0cc" stroke-width="0.45"/>
<rect x="305.46" y="318.50" width="5.93" height="9.50" fill="#dfdff0" stroke="#c0c0cc" stroke-width="0.45"/>
<rect x="311.39" y="318.50" width="5.93" height="9.50" fill="#dfdff0" stroke="#c0c0cc" stroke-width="0.45"/>
<rect x="317.32" y="318.50" width="5.93" height="9.50" fill="#dfdff0" stroke="#c0c0cc" stroke-width="0.45"/>
<rect x="323.25" y="318.50" width="5.93" height="9.50" fill="#dfdff0" stroke="#c0c0cc" stroke-width="0.45"/>
<rect x="329.18" y="318.50" width="5.93" height="9.50" fill="#dfdff0" stroke="#c0c0cc" stroke-width="0.45"/>
<rect x="335.11" y="318.50" width="5.93" height="9.50" fill="#dfdff0" stroke="#c0c0cc" stroke-width="0.45"/>
<rect x="341.04" y="318.50" width="5.93" height="9.50" fill="#dfdff0" stroke="#c0c0cc" stroke-width="0.45"/>
<rect x="346.97" y="318.50" width="5.93" height="9.50" fill="#dfdff0" stroke="#c0c0cc" stroke-width="0.45"/>
<rect x="352.90" y="318.50" width="5.93" height="9.50" fill="#f2f2fa" stroke="#c0c0cc" stroke-width="0.45"/>
<rect x="358.83" y="318.50" width="5.93" height="9.50" fill="#f2f2fa" stroke="#c0c0cc" stroke-width="0.45"/>
<rect x="364.76" y="318.50" width="5.93" height="9.50" fill="#f2f2fa" stroke="#c0c0cc" stroke-width="0.45"/>
<rect x="370.69" y="318.50" width="5.93" height="9.50" fill="#f2f2fa" stroke="#c0c0cc" stroke-width="0.45"/>
<rect x="376.62" y="318.50" width="5.93" height="9.50" fill="#f2f2fa" stroke="#c0c0cc" stroke-width="0.45"/>
<rect x="382.55" y="318.50" width="5.93" height="9.50" fill="#e65457" stroke="#c0c0cc" stroke-width="0.45"/>
<rect x="388.48" y="318.50" width="5.93" height="9.50" fill="#ef9096" stroke="#c0c0cc" stroke-width="0.45"/>
<rect x="394.41" y="318.50" width="5.93" height="9.50" fill="#f2f2fa" stroke="#c0c0cc" stroke-width="0.45"/>
<rect x="400.34" y="318.50" width="5.93" height="9.50" fill="#e65457" stroke="#c0c0cc" stroke-width="0.45"/>
<rect x="406.27" y="318.50" width="5.93" height="9.50" fill="#f2f2fa" stroke="#c0c0cc" stroke-width="0.45"/>
<rect x="412.20" y="318.50" width="5.93" height="9.50" fill="#f2f2fa" stroke="#c0c0cc" stroke-width="0.45"/>
<rect x="418.13" y="318.50" width="5.93" height="9.50" fill="#f2f2fa" stroke="#c0c0cc" stroke-width="0.45"/>
<text x="427.30" y="325.45" font-size="6.4" text-anchor="start" font-weight="normal" font-style="italic" fill="#222" stroke="#222" stroke-width="0.06" >LAG3</text>
<rect x="290.80" y="328.00" width="2.6" height="9.50" fill="#b25c5c"/>
<rect x="293.60" y="328.00" width="5.93" height="9.50" fill="#dfdff0" stroke="#c0c0cc" stroke-width="0.45"/>
<rect x="299.53" y="328.00" width="5.93" height="9.50" fill="#dfdff0" stroke="#c0c0cc" stroke-width="0.45"/>
<rect x="305.46" y="328.00" width="5.93" height="9.50" fill="#dfdff0" stroke="#c0c0cc" stroke-width="0.45"/>
<rect x="311.39" y="328.00" width="5.93" height="9.50" fill="#dfdff0" stroke="#c0c0cc" stroke-width="0.45"/>
<rect x="317.32" y="328.00" width="5.93" height="9.50" fill="#dfdff0" stroke="#c0c0cc" stroke-width="0.45"/>
<rect x="323.25" y="328.00" width="5.93" height="9.50" fill="#dfdff0" stroke="#c0c0cc" stroke-width="0.45"/>
<rect x="329.18" y="328.00" width="5.93" height="9.50" fill="#dfdff0" stroke="#c0c0cc" stroke-width="0.45"/>
<rect x="335.11" y="328.00" width="5.93" height="9.50" fill="#dfdff0" stroke="#c0c0cc" stroke-width="0.45"/>
<rect x="341.04" y="328.00" width="5.93" height="9.50" fill="#dfdff0" stroke="#c0c0cc" stroke-width="0.45"/>
<rect x="346.97" y="328.00" width="5.93" height="9.50" fill="#f2f2fa" stroke="#c0c0cc" stroke-width="0.45"/>
<rect x="352.90" y="328.00" width="5.93" height="9.50" fill="#f2f2fa" stroke="#c0c0cc" stroke-width="0.45"/>
<rect x="358.83" y="328.00" width="5.93" height="9.50" fill="#f2f2fa" stroke="#c0c0cc" stroke-width="0.45"/>
<rect x="364.76" y="328.00" width="5.93" height="9.50" fill="#f2f2fa" stroke="#c0c0cc" stroke-width="0.45"/>
<rect x="370.69" y="328.00" width="5.93" height="9.50" fill="#f2f2fa" stroke="#c0c0cc" stroke-width="0.45"/>
<rect x="376.62" y="328.00" width="5.93" height="9.50" fill="#f2f2fa" stroke="#c0c0cc" stroke-width="0.45"/>
<rect x="382.55" y="328.00" width="5.93" height="9.50" fill="#e65457" stroke="#c0c0cc" stroke-width="0.45"/>
<rect x="388.48" y="328.00" width="5.93" height="9.50" fill="#dd1a1c" stroke="#c0c0cc" stroke-width="0.45"/>
<rect x="394.41" y="328.00" width="5.93" height="9.50" fill="#f2f2fa" stroke="#c0c0cc" stroke-width="0.45"/>
<rect x="400.34" y="328.00" width="5.93" height="9.50" fill="#f2f2fa" stroke="#c0c0cc" stroke-width="0.45"/>
<rect x="406.27" y="328.00" width="5.93" height="9.50" fill="#f2f2fa" stroke="#c0c0cc" stroke-width="0.45"/>
<rect x="412.20" y="328.00" width="5.93" height="9.50" fill="#f2f2fa" stroke="#c0c0cc" stroke-width="0.45"/>
<rect x="418.13" y="328.00" width="5.93" height="9.50" fill="#f2f2fa" stroke="#c0c0cc" stroke-width="0.45"/>
<text x="427.30" y="334.95" font-size="6.4" text-anchor="start" font-weight="normal" font-style="italic" fill="#222" stroke="#222" stroke-width="0.06" >CTLA4</text>
<rect x="290.80" y="337.50" width="2.6" height="9.50" fill="#b25c5c"/>
<rect x="293.60" y="337.50" width="5.93" height="9.50" fill="#dfdff0" stroke="#c0c0cc" stroke-width="0.45"/>
<rect x="299.53" y="337.50" width="5.93" height="9.50" fill="#dfdff0" stroke="#c0c0cc" stroke-width="0.45"/>
<rect x="305.46" y="337.50" width="5.93" height="9.50" fill="#dfdff0" stroke="#c0c0cc" stroke-width="0.45"/>
<rect x="311.39" y="337.50" width="5.93" height="9.50" fill="#dfdff0" stroke="#c0c0cc" stroke-width="0.45"/>
<rect x="317.32" y="337.50" width="5.93" height="9.50" fill="#dfdff0" stroke="#c0c0cc" stroke-width="0.45"/>
<rect x="323.25" y="337.50" width="5.93" height="9.50" fill="#dfdff0" stroke="#c0c0cc" stroke-width="0.45"/>
<rect x="329.18" y="337.50" width="5.93" height="9.50" fill="#dfdff0" stroke="#c0c0cc" stroke-width="0.45"/>
<rect x="335.11" y="337.50" width="5.93" height="9.50" fill="#dfdff0" stroke="#c0c0cc" stroke-width="0.45"/>
<rect x="341.04" y="337.50" width="5.93" height="9.50" fill="#dfdff0" stroke="#c0c0cc" stroke-width="0.45"/>
<rect x="346.97" y="337.50" width="5.93" height="9.50" fill="#dfdff0" stroke="#c0c0cc" stroke-width="0.45"/>
<rect x="352.90" y="337.50" width="5.93" height="9.50" fill="#dfdff0" stroke="#c0c0cc" stroke-width="0.45"/>
<rect x="358.83" y="337.50" width="5.93" height="9.50" fill="#dfdff0" stroke="#c0c0cc" stroke-width="0.45"/>
<rect x="364.76" y="337.50" width="5.93" height="9.50" fill="#dfdff0" stroke="#c0c0cc" stroke-width="0.45"/>
<rect x="370.69" y="337.50" width="5.93" height="9.50" fill="#dfdff0" stroke="#c0c0cc" stroke-width="0.45"/>
<rect x="376.62" y="337.50" width="5.93" height="9.50" fill="#dfdff0" stroke="#c0c0cc" stroke-width="0.45"/>
<rect x="382.55" y="337.50" width="5.93" height="9.50" fill="#f2f2fa" stroke="#c0c0cc" stroke-width="0.45"/>
<rect x="388.48" y="337.50" width="5.93" height="9.50" fill="#dd1a1c" stroke="#c0c0cc" stroke-width="0.45"/>
<rect x="394.41" y="337.50" width="5.93" height="9.50" fill="#f2f2fa" stroke="#c0c0cc" stroke-width="0.45"/>
<rect x="400.34" y="337.50" width="5.93" height="9.50" fill="#f7d3d7" stroke="#c0c0cc" stroke-width="0.45"/>
<rect x="406.27" y="337.50" width="5.93" height="9.50" fill="#f4b4bb" stroke="#c0c0cc" stroke-width="0.45"/>
<rect x="412.20" y="337.50" width="5.93" height="9.50" fill="#f4b4bb" stroke="#c0c0cc" stroke-width="0.45"/>
<rect x="418.13" y="337.50" width="5.93" height="9.50" fill="#dfdff0" stroke="#c0c0cc" stroke-width="0.45"/>
<text x="427.30" y="344.45" font-size="6.4" text-anchor="start" font-weight="normal" font-style="italic" fill="#222" stroke="#222" stroke-width="0.06" >HAVCR2</text>
<rect x="290.80" y="347.00" width="2.6" height="9.50" fill="#2e222e"/>
<rect x="293.60" y="347.00" width="5.93" height="9.50" fill="#f2f2fa" stroke="#c0c0cc" stroke-width="0.45"/>
<rect x="299.53" y="347.00" width="5.93" height="9.50" fill="#bfc2e3" stroke="#c0c0cc" stroke-width="0.45"/>
<rect x="305.46" y="347.00" width="5.93" height="9.50" fill="#f2f2fa" stroke="#c0c0cc" stroke-width="0.45"/>
<rect x="311.39" y="347.00" width="5.93" height="9.50" fill="#f2f2fa" stroke="#c0c0cc" stroke-width="0.45"/>
<rect x="317.32" y="347.00" width="5.93" height="9.50" fill="#f2f2fa" stroke="#c0c0cc" stroke-width="0.45"/>
<rect x="323.25" y="347.00" width="5.93" height="9.50" fill="#dfdff0" stroke="#c0c0cc" stroke-width="0.45"/>
<rect x="329.18" y="347.00" width="5.93" height="9.50" fill="#f2f2fa" stroke="#c0c0cc" stroke-width="0.45"/>
<rect x="335.11" y="347.00" width="5.93" height="9.50" fill="#f2f2fa" stroke="#c0c0cc" stroke-width="0.45"/>
<rect x="341.04" y="347.00" width="5.93" height="9.50" fill="#dd1a1c" stroke="#c0c0cc" stroke-width="0.45"/>
<rect x="346.97" y="347.00" width="5.93" height="9.50" fill="#f2f2fa" stroke="#c0c0cc" stroke-width="0.45"/>
<rect x="352.90" y="347.00" width="5.93" height="9.50" fill="#bfc2e3" stroke="#c0c0cc" stroke-width="0.45"/>
<rect x="358.83" y="347.00" width="5.93" height="9.50" fill="#dfdff0" stroke="#c0c0cc" stroke-width="0.45"/>
<rect x="364.76" y="347.00" width="5.93" height="9.50" fill="#f2f2fa" stroke="#c0c0cc" stroke-width="0.45"/>
<rect x="370.69" y="347.00" width="5.93" height="9.50" fill="#f2f2fa" stroke="#c0c0cc" stroke-width="0.45"/>
<rect x="376.62" y="347.00" width="5.93" height="9.50" fill="#bfc2e3" stroke="#c0c0cc" stroke-width="0.45"/>
<rect x="382.55" y="347.00" width="5.93" height="9.50" fill="#f7d3d7" stroke="#c0c0cc" stroke-width="0.45"/>
<rect x="388.48" y="347.00" width="5.93" height="9.50" fill="#f2f2fa" stroke="#c0c0cc" stroke-width="0.45"/>
<rect x="394.41" y="347.00" width="5.93" height="9.50" fill="#f2f2fa" stroke="#c0c0cc" stroke-width="0.45"/>
<rect x="400.34" y="347.00" width="5.93" height="9.50" fill="#dfdff0" stroke="#c0c0cc" stroke-width="0.45"/>
<rect x="406.27" y="347.00" width="5.93" height="9.50" fill="#f2f2fa" stroke="#c0c0cc" stroke-width="0.45"/>
<rect x="412.20" y="347.00" width="5.93" height="9.50" fill="#e65457" stroke="#c0c0cc" stroke-width="0.45"/>
<rect x="418.13" y="347.00" width="5.93" height="9.50" fill="#bfc2e3" stroke="#c0c0cc" stroke-width="0.45"/>
<text x="427.30" y="353.95" font-size="6.4" text-anchor="start" font-weight="normal" font-style="italic" fill="#222" stroke="#222" stroke-width="0.06" >BCL6</text>
<rect x="290.80" y="356.50" width="2.6" height="9.50" fill="#2e222e"/>
<rect x="293.60" y="356.50" width="5.93" height="9.50" fill="#dfdff0" stroke="#c0c0cc" stroke-width="0.45"/>
<rect x="299.53" y="356.50" width="5.93" height="9.50" fill="#dfdff0" stroke="#c0c0cc" stroke-width="0.45"/>
<rect x="305.46" y="356.50" width="5.93" height="9.50" fill="#dfdff0" stroke="#c0c0cc" stroke-width="0.45"/>
<rect x="311.39" y="356.50" width="5.93" height="9.50" fill="#dfdff0" stroke="#c0c0cc" stroke-width="0.45"/>
<rect x="317.32" y="356.50" width="5.93" height="9.50" fill="#dfdff0" stroke="#c0c0cc" stroke-width="0.45"/>
<rect x="323.25" y="356.50" width="5.93" height="9.50" fill="#dfdff0" stroke="#c0c0cc" stroke-width="0.45"/>
<rect x="329.18" y="356.50" width="5.93" height="9.50" fill="#dfdff0" stroke="#c0c0cc" stroke-width="0.45"/>
<rect x="335.11" y="356.50" width="5.93" height="9.50" fill="#dfdff0" stroke="#c0c0cc" stroke-width="0.45"/>
<rect x="341.04" y="356.50" width="5.93" height="9.50" fill="#dfdff0" stroke="#c0c0cc" stroke-width="0.45"/>
<rect x="346.97" y="356.50" width="5.93" height="9.50" fill="#dfdff0" stroke="#c0c0cc" stroke-width="0.45"/>
<rect x="352.90" y="356.50" width="5.93" height="9.50" fill="#dfdff0" stroke="#c0c0cc" stroke-width="0.45"/>
<rect x="358.83" y="356.50" width="5.93" height="9.50" fill="#dfdff0" stroke="#c0c0cc" stroke-width="0.45"/>
<rect x="364.76" y="356.50" width="5.93" height="9.50" fill="#dfdff0" stroke="#c0c0cc" stroke-width="0.45"/>
<rect x="370.69" y="356.50" width="5.93" height="9.50" fill="#dfdff0" stroke="#c0c0cc" stroke-width="0.45"/>
<rect x="376.62" y="356.50" width="5.93" height="9.50" fill="#dd1a1c" stroke="#c0c0cc" stroke-width="0.45"/>
<rect x="382.55" y="356.50" width="5.93" height="9.50" fill="#f7d3d7" stroke="#c0c0cc" stroke-width="0.45"/>
<rect x="388.48" y="356.50" width="5.93" height="9.50" fill="#f2f2fa" stroke="#c0c0cc" stroke-width="0.45"/>
<rect x="394.41" y="356.50" width="5.93" height="9.50" fill="#f2f2fa" stroke="#c0c0cc" stroke-width="0.45"/>
<rect x="400.34" y="356.50" width="5.93" height="9.50" fill="#f2f2fa" stroke="#c0c0cc" stroke-width="0.45"/>
<rect x="406.27" y="356.50" width="5.93" height="9.50" fill="#f2f2fa" stroke="#c0c0cc" stroke-width="0.45"/>
<rect x="412.20" y="356.50" width="5.93" height="9.50" fill="#f2f2fa" stroke="#c0c0cc" stroke-width="0.45"/>
<rect x="418.13" y="356.50" width="5.93" height="9.50" fill="#f2f2fa" stroke="#c0c0cc" stroke-width="0.45"/>
<text x="427.30" y="363.45" font-size="6.4" text-anchor="start" font-weight="normal" font-style="italic" fill="#222" stroke="#222" stroke-width="0.06" >CXCL13</text>
<rect x="290.80" y="366.00" width="2.6" height="9.50" fill="#90c9b8"/>
<rect x="293.60" y="366.00" width="5.93" height="9.50" fill="#dfdff0" stroke="#c0c0cc" stroke-width="0.45"/>
<rect x="299.53" y="366.00" width="5.93" height="9.50" fill="#dfdff0" stroke="#c0c0cc" stroke-width="0.45"/>
<rect x="305.46" y="366.00" width="5.93" height="9.50" fill="#dfdff0" stroke="#c0c0cc" stroke-width="0.45"/>
<rect x="311.39" y="366.00" width="5.93" height="9.50" fill="#dfdff0" stroke="#c0c0cc" stroke-width="0.45"/>
<rect x="317.32" y="366.00" width="5.93" height="9.50" fill="#dfdff0" stroke="#c0c0cc" stroke-width="0.45"/>
<rect x="323.25" y="366.00" width="5.93" height="9.50" fill="#dfdff0" stroke="#c0c0cc" stroke-width="0.45"/>
<rect x="329.18" y="366.00" width="5.93" height="9.50" fill="#dfdff0" stroke="#c0c0cc" stroke-width="0.45"/>
<rect x="335.11" y="366.00" width="5.93" height="9.50" fill="#dfdff0" stroke="#c0c0cc" stroke-width="0.45"/>
<rect x="341.04" y="366.00" width="5.93" height="9.50" fill="#dfdff0" stroke="#c0c0cc" stroke-width="0.45"/>
<rect x="346.97" y="366.00" width="5.93" height="9.50" fill="#dfdff0" stroke="#c0c0cc" stroke-width="0.45"/>
<rect x="352.90" y="366.00" width="5.93" height="9.50" fill="#dfdff0" stroke="#c0c0cc" stroke-width="0.45"/>
<rect x="358.83" y="366.00" width="5.93" height="9.50" fill="#dfdff0" stroke="#c0c0cc" stroke-width="0.45"/>
<rect x="364.76" y="366.00" width="5.93" height="9.50" fill="#dfdff0" stroke="#c0c0cc" stroke-width="0.45"/>
<rect x="370.69" y="366.00" width="5.93" height="9.50" fill="#dfdff0" stroke="#c0c0cc" stroke-width="0.45"/>
<rect x="376.62" y="366.00" width="5.93" height="9.50" fill="#dfdff0" stroke="#c0c0cc" stroke-width="0.45"/>
<rect x="382.55" y="366.00" width="5.93" height="9.50" fill="#dfdff0" stroke="#c0c0cc" stroke-width="0.45"/>
<rect x="388.48" y="366.00" width="5.93" height="9.50" fill="#dfdff0" stroke="#c0c0cc" stroke-width="0.45"/>
<rect x="394.41" y="366.00" width="5.93" height="9.50" fill="#dfdff0" stroke="#c0c0cc" stroke-width="0.45"/>
<rect x="400.34" y="366.00" width="5.93" height="9.50" fill="#dd1a1c" stroke="#c0c0cc" stroke-width="0.45"/>
<rect x="406.27" y="366.00" width="5.93" height="9.50" fill="#ef9096" stroke="#c0c0cc" stroke-width="0.45"/>
<rect x="412.20" y="366.00" width="5.93" height="9.50" fill="#dfdff0" stroke="#c0c0cc" stroke-width="0.45"/>
<rect x="418.13" y="366.00" width="5.93" height="9.50" fill="#dfdff0" stroke="#c0c0cc" stroke-width="0.45"/>
<text x="427.30" y="372.95" font-size="6.4" text-anchor="start" font-weight="normal" font-style="italic" fill="#222" stroke="#222" stroke-width="0.06" >GZMA</text>
<rect x="290.80" y="375.50" width="2.6" height="9.50" fill="#90c9b8"/>
<rect x="293.60" y="375.50" width="5.93" height="9.50" fill="#dfdff0" stroke="#c0c0cc" stroke-width="0.45"/>
<rect x="299.53" y="375.50" width="5.93" height="9.50" fill="#dfdff0" stroke="#c0c0cc" stroke-width="0.45"/>
<rect x="305.46" y="375.50" width="5.93" height="9.50" fill="#dfdff0" stroke="#c0c0cc" stroke-width="0.45"/>
<rect x="311.39" y="375.50" width="5.93" height="9.50" fill="#dfdff0" stroke="#c0c0cc" stroke-width="0.45"/>
<rect x="317.32" y="375.50" width="5.93" height="9.50" fill="#dfdff0" stroke="#c0c0cc" stroke-width="0.45"/>
<rect x="323.25" y="375.50" width="5.93" height="9.50" fill="#dfdff0" stroke="#c0c0cc" stroke-width="0.45"/>
<rect x="329.18" y="375.50" width="5.93" height="9.50" fill="#dfdff0" stroke="#c0c0cc" stroke-width="0.45"/>
<rect x="335.11" y="375.50" width="5.93" height="9.50" fill="#dfdff0" stroke="#c0c0cc" stroke-width="0.45"/>
<rect x="341.04" y="375.50" width="5.93" height="9.50" fill="#dfdff0" stroke="#c0c0cc" stroke-width="0.45"/>
<rect x="346.97" y="375.50" width="5.93" height="9.50" fill="#dfdff0" stroke="#c0c0cc" stroke-width="0.45"/>
<rect x="352.90" y="375.50" width="5.93" height="9.50" fill="#dfdff0" stroke="#c0c0cc" stroke-width="0.45"/>
<rect x="358.83" y="375.50" width="5.93" height="9.50" fill="#dfdff0" stroke="#c0c0cc" stroke-width="0.45"/>
<rect x="364.76" y="375.50" width="5.93" height="9.50" fill="#dfdff0" stroke="#c0c0cc" stroke-width="0.45"/>
<rect x="370.69" y="375.50" width="5.93" height="9.50" fill="#dfdff0" stroke="#c0c0cc" stroke-width="0.45"/>
<rect x="376.62" y="375.50" width="5.93" height="9.50" fill="#dfdff0" stroke="#c0c0cc" stroke-width="0.45"/>
<rect x="382.55" y="375.50" width="5.93" height="9.50" fill="#dfdff0" stroke="#c0c0cc" stroke-width="0.45"/>
<rect x="388.48" y="375.50" width="5.93" height="9.50" fill="#dfdff0" stroke="#c0c0cc" stroke-width="0.45"/>
<rect x="394.41" y="375.50" width="5.93" height="9.50" fill="#dfdff0" stroke="#c0c0cc" stroke-width="0.45"/>
<rect x="400.34" y="375.50" width="5.93" height="9.50" fill="#f2f2fa" stroke="#c0c0cc" stroke-width="0.45"/>
<rect x="406.27" y="375.50" width="5.93" height="9.50" fill="#f7d3d7" stroke="#c0c0cc" stroke-width="0.45"/>
<rect x="412.20" y="375.50" width="5.93" height="9.50" fill="#f2f2fa" stroke="#c0c0cc" stroke-width="0.45"/>
<rect x="418.13" y="375.50" width="5.93" height="9.50" fill="#dd1a1c" stroke="#c0c0cc" stroke-width="0.45"/>
<text x="427.30" y="382.45" font-size="6.4" text-anchor="start" font-weight="normal" font-style="italic" fill="#222" stroke="#222" stroke-width="0.06" >GZMB</text>
<rect x="290.80" y="385.00" width="2.6" height="9.50" fill="#90c9b8"/>
<rect x="293.60" y="385.00" width="5.93" height="9.50" fill="#dfdff0" stroke="#c0c0cc" stroke-width="0.45"/>
<rect x="299.53" y="385.00" width="5.93" height="9.50" fill="#dfdff0" stroke="#c0c0cc" stroke-width="0.45"/>
<rect x="305.46" y="385.00" width="5.93" height="9.50" fill="#dfdff0" stroke="#c0c0cc" stroke-width="0.45"/>
<rect x="311.39" y="385.00" width="5.93" height="9.50" fill="#dfdff0" stroke="#c0c0cc" stroke-width="0.45"/>
<rect x="317.32" y="385.00" width="5.93" height="9.50" fill="#dfdff0" stroke="#c0c0cc" stroke-width="0.45"/>
<rect x="323.25" y="385.00" width="5.93" height="9.50" fill="#dfdff0" stroke="#c0c0cc" stroke-width="0.45"/>
<rect x="329.18" y="385.00" width="5.93" height="9.50" fill="#dfdff0" stroke="#c0c0cc" stroke-width="0.45"/>
<rect x="335.11" y="385.00" width="5.93" height="9.50" fill="#dfdff0" stroke="#c0c0cc" stroke-width="0.45"/>
<rect x="341.04" y="385.00" width="5.93" height="9.50" fill="#dfdff0" stroke="#c0c0cc" stroke-width="0.45"/>
<rect x="346.97" y="385.00" width="5.93" height="9.50" fill="#dfdff0" stroke="#c0c0cc" stroke-width="0.45"/>
<rect x="352.90" y="385.00" width="5.93" height="9.50" fill="#dfdff0" stroke="#c0c0cc" stroke-width="0.45"/>
<rect x="358.83" y="385.00" width="5.93" height="9.50" fill="#dfdff0" stroke="#c0c0cc" stroke-width="0.45"/>
<rect x="364.76" y="385.00" width="5.93" height="9.50" fill="#dfdff0" stroke="#c0c0cc" stroke-width="0.45"/>
<rect x="370.69" y="385.00" width="5.93" height="9.50" fill="#dfdff0" stroke="#c0c0cc" stroke-width="0.45"/>
<rect x="376.62" y="385.00" width="5.93" height="9.50" fill="#dfdff0" stroke="#c0c0cc" stroke-width="0.45"/>
<rect x="382.55" y="385.00" width="5.93" height="9.50" fill="#dfdff0" stroke="#c0c0cc" stroke-width="0.45"/>
<rect x="388.48" y="385.00" width="5.93" height="9.50" fill="#dfdff0" stroke="#c0c0cc" stroke-width="0.45"/>
<rect x="394.41" y="385.00" width="5.93" height="9.50" fill="#dfdff0" stroke="#c0c0cc" stroke-width="0.45"/>
<rect x="400.34" y="385.00" width="5.93" height="9.50" fill="#dd1a1c" stroke="#c0c0cc" stroke-width="0.45"/>
<rect x="406.27" y="385.00" width="5.93" height="9.50" fill="#ef9096" stroke="#c0c0cc" stroke-width="0.45"/>
<rect x="412.20" y="385.00" width="5.93" height="9.50" fill="#dfdff0" stroke="#c0c0cc" stroke-width="0.45"/>
<rect x="418.13" y="385.00" width="5.93" height="9.50" fill="#dfdff0" stroke="#c0c0cc" stroke-width="0.45"/>
<text x="427.30" y="391.95" font-size="6.4" text-anchor="start" font-weight="normal" font-style="italic" fill="#222" stroke="#222" stroke-width="0.06" >GZMK</text>
<rect x="290.80" y="394.50" width="2.6" height="9.50" fill="#d6bd78"/>
<rect x="293.60" y="394.50" width="5.93" height="9.50" fill="#f2f2fa" stroke="#c0c0cc" stroke-width="0.45"/>
<rect x="299.53" y="394.50" width="5.93" height="9.50" fill="#f2f2fa" stroke="#c0c0cc" stroke-width="0.45"/>
<rect x="305.46" y="394.50" width="5.93" height="9.50" fill="#f2f2fa" stroke="#c0c0cc" stroke-width="0.45"/>
<rect x="311.39" y="394.50" width="5.93" height="9.50" fill="#f2f2fa" stroke="#c0c0cc" stroke-width="0.45"/>
<rect x="317.32" y="394.50" width="5.93" height="9.50" fill="#f2f2fa" stroke="#c0c0cc" stroke-width="0.45"/>
<rect x="323.25" y="394.50" width="5.93" height="9.50" fill="#f2f2fa" stroke="#c0c0cc" stroke-width="0.45"/>
<rect x="329.18" y="394.50" width="5.93" height="9.50" fill="#f2f2fa" stroke="#c0c0cc" stroke-width="0.45"/>
<rect x="335.11" y="394.50" width="5.93" height="9.50" fill="#f2f2fa" stroke="#c0c0cc" stroke-width="0.45"/>
<rect x="341.04" y="394.50" width="5.93" height="9.50" fill="#f2f2fa" stroke="#c0c0cc" stroke-width="0.45"/>
<rect x="346.97" y="394.50" width="5.93" height="9.50" fill="#f2f2fa" stroke="#c0c0cc" stroke-width="0.45"/>
<rect x="352.90" y="394.50" width="5.93" height="9.50" fill="#f2f2fa" stroke="#c0c0cc" stroke-width="0.45"/>
<rect x="358.83" y="394.50" width="5.93" height="9.50" fill="#f2f2fa" stroke="#c0c0cc" stroke-width="0.45"/>
<rect x="364.76" y="394.50" width="5.93" height="9.50" fill="#f2f2fa" stroke="#c0c0cc" stroke-width="0.45"/>
<rect x="370.69" y="394.50" width="5.93" height="9.50" fill="#f2f2fa" stroke="#c0c0cc" stroke-width="0.45"/>
<rect x="376.62" y="394.50" width="5.93" height="9.50" fill="#f2f2fa" stroke="#c0c0cc" stroke-width="0.45"/>
<rect x="382.55" y="394.50" width="5.93" height="9.50" fill="#f2f2fa" stroke="#c0c0cc" stroke-width="0.45"/>
<rect x="388.48" y="394.50" width="5.93" height="9.50" fill="#f2f2fa" stroke="#c0c0cc" stroke-width="0.45"/>
<rect x="394.41" y="394.50" width="5.93" height="9.50" fill="#f2f2fa" stroke="#c0c0cc" stroke-width="0.45"/>
<rect x="400.34" y="394.50" width="5.93" height="9.50" fill="#f2f2fa" stroke="#c0c0cc" stroke-width="0.45"/>
<rect x="406.27" y="394.50" width="5.93" height="9.50" fill="#dd1a1c" stroke="#c0c0cc" stroke-width="0.45"/>
<rect x="412.20" y="394.50" width="5.93" height="9.50" fill="#f2f2fa" stroke="#c0c0cc" stroke-width="0.45"/>
<rect x="418.13" y="394.50" width="5.93" height="9.50" fill="#f2f2fa" stroke="#c0c0cc" stroke-width="0.45"/>
<text x="427.30" y="401.45" font-size="6.4" text-anchor="start" font-weight="normal" font-style="italic" fill="#222" stroke="#222" stroke-width="0.06" >NCAM1</text>
<rect x="290.80" y="404.00" width="2.6" height="9.50" fill="#485a40"/>
<rect x="293.60" y="404.00" width="5.93" height="9.50" fill="#dfdff0" stroke="#c0c0cc" stroke-width="0.45"/>
<rect x="299.53" y="404.00" width="5.93" height="9.50" fill="#f7d3d7" stroke="#c0c0cc" stroke-width="0.45"/>
<rect x="305.46" y="404.00" width="5.93" height="9.50" fill="#f2f2fa" stroke="#c0c0cc" stroke-width="0.45"/>
<rect x="311.39" y="404.00" width="5.93" height="9.50" fill="#dfdff0" stroke="#c0c0cc" stroke-width="0.45"/>
<rect x="317.32" y="404.00" width="5.93" height="9.50" fill="#dfdff0" stroke="#c0c0cc" stroke-width="0.45"/>
<rect x="323.25" y="404.00" width="5.93" height="9.50" fill="#dfdff0" stroke="#c0c0cc" stroke-width="0.45"/>
<rect x="329.18" y="404.00" width="5.93" height="9.50" fill="#dfdff0" stroke="#c0c0cc" stroke-width="0.45"/>
<rect x="335.11" y="404.00" width="5.93" height="9.50" fill="#dfdff0" stroke="#c0c0cc" stroke-width="0.45"/>
<rect x="341.04" y="404.00" width="5.93" height="9.50" fill="#dfdff0" stroke="#c0c0cc" stroke-width="0.45"/>
<rect x="346.97" y="404.00" width="5.93" height="9.50" fill="#dfdff0" stroke="#c0c0cc" stroke-width="0.45"/>
<rect x="352.90" y="404.00" width="5.93" height="9.50" fill="#dfdff0" stroke="#c0c0cc" stroke-width="0.45"/>
<rect x="358.83" y="404.00" width="5.93" height="9.50" fill="#dfdff0" stroke="#c0c0cc" stroke-width="0.45"/>
<rect x="364.76" y="404.00" width="5.93" height="9.50" fill="#dfdff0" stroke="#c0c0cc" stroke-width="0.45"/>
<rect x="370.69" y="404.00" width="5.93" height="9.50" fill="#dfdff0" stroke="#c0c0cc" stroke-width="0.45"/>
<rect x="376.62" y="404.00" width="5.93" height="9.50" fill="#dfdff0" stroke="#c0c0cc" stroke-width="0.45"/>
<rect x="382.55" y="404.00" width="5.93" height="9.50" fill="#dfdff0" stroke="#c0c0cc" stroke-width="0.45"/>
<rect x="388.48" y="404.00" width="5.93" height="9.50" fill="#dfdff0" stroke="#c0c0cc" stroke-width="0.45"/>
<rect x="394.41" y="404.00" width="5.93" height="9.50" fill="#dfdff0" stroke="#c0c0cc" stroke-width="0.45"/>
<rect x="400.34" y="404.00" width="5.93" height="9.50" fill="#dfdff0" stroke="#c0c0cc" stroke-width="0.45"/>
<rect x="406.27" y="404.00" width="5.93" height="9.50" fill="#dfdff0" stroke="#c0c0cc" stroke-width="0.45"/>
<rect x="412.20" y="404.00" width="5.93" height="9.50" fill="#e65457" stroke="#c0c0cc" stroke-width="0.45"/>
<rect x="418.13" y="404.00" width="5.93" height="9.50" fill="#e65457" stroke="#c0c0cc" stroke-width="0.45"/>
<text x="427.30" y="410.95" font-size="6.4" text-anchor="start" font-weight="normal" font-style="italic" fill="#222" stroke="#222" stroke-width="0.06" >CD68</text>
<rect x="290.80" y="413.50" width="2.6" height="9.50" fill="#c4a8b4"/>
<rect x="293.60" y="413.50" width="5.93" height="9.50" fill="#f2f2fa" stroke="#c0c0cc" stroke-width="0.45"/>
<rect x="299.53" y="413.50" width="5.93" height="9.50" fill="#f2f2fa" stroke="#c0c0cc" stroke-width="0.45"/>
<rect x="305.46" y="413.50" width="5.93" height="9.50" fill="#f2f2fa" stroke="#c0c0cc" stroke-width="0.45"/>
<rect x="311.39" y="413.50" width="5.93" height="9.50" fill="#f2f2fa" stroke="#c0c0cc" stroke-width="0.45"/>
<rect x="317.32" y="413.50" width="5.93" height="9.50" fill="#f2f2fa" stroke="#c0c0cc" stroke-width="0.45"/>
<rect x="323.25" y="413.50" width="5.93" height="9.50" fill="#f2f2fa" stroke="#c0c0cc" stroke-width="0.45"/>
<rect x="329.18" y="413.50" width="5.93" height="9.50" fill="#f2f2fa" stroke="#c0c0cc" stroke-width="0.45"/>
<rect x="335.11" y="413.50" width="5.93" height="9.50" fill="#f2f2fa" stroke="#c0c0cc" stroke-width="0.45"/>
<rect x="341.04" y="413.50" width="5.93" height="9.50" fill="#f2f2fa" stroke="#c0c0cc" stroke-width="0.45"/>
<rect x="346.97" y="413.50" width="5.93" height="9.50" fill="#f2f2fa" stroke="#c0c0cc" stroke-width="0.45"/>
<rect x="352.90" y="413.50" width="5.93" height="9.50" fill="#f2f2fa" stroke="#c0c0cc" stroke-width="0.45"/>
<rect x="358.83" y="413.50" width="5.93" height="9.50" fill="#f2f2fa" stroke="#c0c0cc" stroke-width="0.45"/>
<rect x="364.76" y="413.50" width="5.93" height="9.50" fill="#f2f2fa" stroke="#c0c0cc" stroke-width="0.45"/>
<rect x="370.69" y="413.50" width="5.93" height="9.50" fill="#f2f2fa" stroke="#c0c0cc" stroke-width="0.45"/>
<rect x="376.62" y="413.50" width="5.93" height="9.50" fill="#f2f2fa" stroke="#c0c0cc" stroke-width="0.45"/>
<rect x="382.55" y="413.50" width="5.93" height="9.50" fill="#f2f2fa" stroke="#c0c0cc" stroke-width="0.45"/>
<rect x="388.48" y="413.50" width="5.93" height="9.50" fill="#f2f2fa" stroke="#c0c0cc" stroke-width="0.45"/>
<rect x="394.41" y="413.50" width="5.93" height="9.50" fill="#f2f2fa" stroke="#c0c0cc" stroke-width="0.45"/>
<rect x="400.34" y="413.50" width="5.93" height="9.50" fill="#f2f2fa" stroke="#c0c0cc" stroke-width="0.45"/>
<rect x="406.27" y="413.50" width="5.93" height="9.50" fill="#f2f2fa" stroke="#c0c0cc" stroke-width="0.45"/>
<rect x="412.20" y="413.50" width="5.93" height="9.50" fill="#f2f2fa" stroke="#c0c0cc" stroke-width="0.45"/>
<rect x="418.13" y="413.50" width="5.93" height="9.50" fill="#dd1a1c" stroke="#c0c0cc" stroke-width="0.45"/>
<text x="427.30" y="420.45" font-size="6.4" text-anchor="start" font-weight="normal" font-style="italic" fill="#222" stroke="#222" stroke-width="0.06" >CLEC4C</text>
<line x1="296.56" y1="423.6" x2="296.56" y2="426.6" stroke="#222" stroke-width="0.75"/>
<line x1="302.50" y1="423.6" x2="302.50" y2="426.6" stroke="#222" stroke-width="0.75"/>
<line x1="308.43" y1="423.6" x2="308.43" y2="426.6" stroke="#222" stroke-width="0.75"/>
<line x1="314.36" y1="423.6" x2="314.36" y2="426.6" stroke="#222" stroke-width="0.75"/>
<line x1="320.29" y1="423.6" x2="320.29" y2="426.6" stroke="#222" stroke-width="0.75"/>
<line x1="326.21" y1="423.6" x2="326.21" y2="426.6" stroke="#222" stroke-width="0.75"/>
<line x1="332.14" y1="423.6" x2="332.14" y2="426.6" stroke="#222" stroke-width="0.75"/>
<line x1="338.07" y1="423.6" x2="338.07" y2="426.6" stroke="#222" stroke-width="0.75"/>
<line x1="344.00" y1="423.6" x2="344.00" y2="426.6" stroke="#222" stroke-width="0.75"/>
<line x1="349.94" y1="423.6" x2="349.94" y2="426.6" stroke="#222" stroke-width="0.75"/>
<line x1="355.87" y1="423.6" x2="355.87" y2="426.6" stroke="#222" stroke-width="0.75"/>
<line x1="361.80" y1="423.6" x2="361.80" y2="426.6" stroke="#222" stroke-width="0.75"/>
<line x1="367.72" y1="423.6" x2="367.72" y2="426.6" stroke="#222" stroke-width="0.75"/>
<line x1="373.66" y1="423.6" x2="373.66" y2="426.6" stroke="#222" stroke-width="0.75"/>
<line x1="379.58" y1="423.6" x2="379.58" y2="426.6" stroke="#222" stroke-width="0.75"/>
<line x1="385.51" y1="423.6" x2="385.51" y2="426.6" stroke="#222" stroke-width="0.75"/>
<line x1="391.44" y1="423.6" x2="391.44" y2="426.6" stroke="#222" stroke-width="0.75"/>
<line x1="397.38" y1="423.6" x2="397.38" y2="426.6" stroke="#222" stroke-width="0.75"/>
<line x1="403.31" y1="423.6" x2="403.31" y2="426.6" stroke="#222" stroke-width="0.75"/>
<line x1="409.23" y1="423.6" x2="409.23" y2="426.6" stroke="#222" stroke-width="0.75"/>
<line x1="415.17" y1="423.6" x2="415.17" y2="426.6" stroke="#222" stroke-width="0.75"/>
<line x1="421.09" y1="423.6" x2="421.09" y2="426.6" stroke="#222" stroke-width="0.75"/>
<text x="299.37" y="432.60" font-size="5.0" text-anchor="end" font-weight="normal" font-style="normal" fill="#333" stroke="#333" stroke-width="0.13" transform="rotate(-45 299.37 432.60)">B cell-C0</text>
<text x="305.30" y="432.60" font-size="5.0" text-anchor="end" font-weight="normal" font-style="normal" fill="#333" stroke="#333" stroke-width="0.13" transform="rotate(-45 305.30 432.60)">B cell-C4</text>
<text x="311.23" y="432.60" font-size="5.0" text-anchor="end" font-weight="normal" font-style="normal" fill="#333" stroke="#333" stroke-width="0.13" transform="rotate(-45 311.23 432.60)">B cell-C9</text>
<text x="317.16" y="432.60" font-size="5.0" text-anchor="end" font-weight="normal" font-style="normal" fill="#333" stroke="#333" stroke-width="0.13" transform="rotate(-45 317.16 432.60)">B cell-C10</text>
<text x="323.09" y="432.60" font-size="5.0" text-anchor="end" font-weight="normal" font-style="normal" fill="#333" stroke="#333" stroke-width="0.13" transform="rotate(-45 323.09 432.60)">B cell-C11</text>
<text x="329.01" y="432.60" font-size="5.0" text-anchor="end" font-weight="normal" font-style="normal" fill="#333" stroke="#333" stroke-width="0.13" transform="rotate(-45 329.01 432.60)">B cell-C12</text>
<text x="334.94" y="432.60" font-size="5.0" text-anchor="end" font-weight="normal" font-style="normal" fill="#333" stroke="#333" stroke-width="0.13" transform="rotate(-45 334.94 432.60)">B cell-C13</text>
<text x="340.88" y="432.60" font-size="5.0" text-anchor="end" font-weight="normal" font-style="normal" fill="#333" stroke="#333" stroke-width="0.13" transform="rotate(-45 340.88 432.60)">B cell-C17</text>
<text x="346.81" y="432.60" font-size="5.0" text-anchor="end" font-weight="normal" font-style="normal" fill="#333" stroke="#333" stroke-width="0.13" transform="rotate(-45 346.81 432.60)">B cell-GCB</text>
<text x="352.74" y="432.60" font-size="5.0" text-anchor="end" font-weight="normal" font-style="normal" fill="#333" stroke="#333" stroke-width="0.13" transform="rotate(-45 352.74 432.60)">B cell-Plasma</text>
<text x="358.67" y="432.60" font-size="5.0" text-anchor="end" font-weight="normal" font-style="normal" fill="#333" stroke="#333" stroke-width="0.13" transform="rotate(-45 358.67 432.60)">CD4 Naive T cell-C2</text>
<text x="364.60" y="432.60" font-size="5.0" text-anchor="end" font-weight="normal" font-style="normal" fill="#333" stroke="#333" stroke-width="0.13" transform="rotate(-45 364.60 432.60)">CD4 Naive T cell-C3</text>
<text x="370.52" y="432.60" font-size="5.0" text-anchor="end" font-weight="normal" font-style="normal" fill="#333" stroke="#333" stroke-width="0.13" transform="rotate(-45 370.52 432.60)">CD4 Naive T cell-C20</text>
<text x="376.46" y="432.60" font-size="5.0" text-anchor="end" font-weight="normal" font-style="normal" fill="#333" stroke="#333" stroke-width="0.13" transform="rotate(-45 376.46 432.60)">CD4 Naive T cell-C24</text>
<text x="382.38" y="432.60" font-size="5.0" text-anchor="end" font-weight="normal" font-style="normal" fill="#333" stroke="#333" stroke-width="0.13" transform="rotate(-45 382.38 432.60)">CD4 Helper T cell-C21</text>
<text x="388.31" y="432.60" font-size="5.0" text-anchor="end" font-weight="normal" font-style="normal" fill="#333" stroke="#333" stroke-width="0.13" transform="rotate(-45 388.31 432.60)">CD4 Treg-C1</text>
<text x="394.25" y="432.60" font-size="5.0" text-anchor="end" font-weight="normal" font-style="normal" fill="#333" stroke="#333" stroke-width="0.13" transform="rotate(-45 394.25 432.60)">CD4 Treg-C6</text>
<text x="400.18" y="432.60" font-size="5.0" text-anchor="end" font-weight="normal" font-style="normal" fill="#333" stroke="#333" stroke-width="0.13" transform="rotate(-45 400.18 432.60)">CD8 T cell-C8</text>
<text x="406.11" y="432.60" font-size="5.0" text-anchor="end" font-weight="normal" font-style="normal" fill="#333" stroke="#333" stroke-width="0.13" transform="rotate(-45 406.11 432.60)">CD8 T cell-C5</text>
<text x="412.03" y="432.60" font-size="5.0" text-anchor="end" font-weight="normal" font-style="normal" fill="#333" stroke="#333" stroke-width="0.13" transform="rotate(-45 412.03 432.60)">NK</text>
<text x="417.97" y="432.60" font-size="5.0" text-anchor="end" font-weight="normal" font-style="normal" fill="#333" stroke="#333" stroke-width="0.13" transform="rotate(-45 417.97 432.60)">Macrophage</text>
<text x="423.89" y="432.60" font-size="5.0" text-anchor="end" font-weight="normal" font-style="normal" fill="#333" stroke="#333" stroke-width="0.13" transform="rotate(-45 423.89 432.60)">DC</text>
<defs><linearGradient id="cb" x1="0" y1="0" x2="0" y2="1">
<stop offset="0" stop-color="#9e0b2b"/><stop offset="0.25" stop-color="#e86a78"/><stop offset="0.5" stop-color="#ffffff"/>
<stop offset="0.75" stop-color="#7c80c4"/><stop offset="1" stop-color="#10105a"/></linearGradient></defs>
<rect x="457.5" y="224.9" width="2.1" height="28.4" fill="url(#cb)"/>
<text x="462.80" y="229.00" font-size="6.0" text-anchor="start" font-weight="normal" font-style="normal" fill="#222" stroke="#222" stroke-width="0.13" >4</text>
<text x="462.80" y="235.30" font-size="6.0" text-anchor="start" font-weight="normal" font-style="normal" fill="#222" stroke="#222" stroke-width="0.13" >2</text>
<text x="462.80" y="241.60" font-size="6.0" text-anchor="start" font-weight="normal" font-style="normal" fill="#222" stroke="#222" stroke-width="0.13" >0</text>
<text x="462.80" y="247.90" font-size="6.0" text-anchor="start" font-weight="normal" font-style="normal" fill="#222" stroke="#222" stroke-width="0.13" >−2</text>
<text x="462.80" y="254.20" font-size="6.0" text-anchor="start" font-weight="normal" font-style="normal" fill="#222" stroke="#222" stroke-width="0.13" >−4</text>
<text x="476.00" y="229.00" font-size="5.8" text-anchor="start" font-weight="normal" font-style="normal" fill="#222" stroke="#222" stroke-width="0.13" >Component</text>
<rect x="476.3" y="232.60" width="3.7" height="3.8" fill="#b8609c"/>
<text x="482.90" y="236.50" font-size="5.8" text-anchor="start" font-weight="normal" font-style="normal" fill="#222" stroke="#222" stroke-width="0.13" >B</text>
<rect x="476.3" y="238.70" width="3.7" height="3.8" fill="#52348a"/>
<text x="482.90" y="242.60" font-size="5.8" text-anchor="start" font-weight="normal" font-style="normal" fill="#222" stroke="#222" stroke-width="0.13" >Plasma</text>
<rect x="476.3" y="244.80" width="3.7" height="3.8" fill="#6d7fc5"/>
<text x="482.90" y="248.70" font-size="5.8" text-anchor="start" font-weight="normal" font-style="normal" fill="#222" stroke="#222" stroke-width="0.13" >T</text>
<rect x="476.3" y="250.90" width="3.7" height="3.8" fill="#6aad4a"/>
<text x="482.90" y="254.80" font-size="5.8" text-anchor="start" font-weight="normal" font-style="normal" fill="#222" stroke="#222" stroke-width="0.13" >Naive T</text>
<rect x="476.3" y="257.00" width="3.7" height="3.8" fill="#b84848"/>
<text x="482.90" y="260.90" font-size="5.8" text-anchor="start" font-weight="normal" font-style="normal" fill="#222" stroke="#222" stroke-width="0.13" >Treg</text>
<rect x="476.3" y="263.10" width="3.7" height="3.8" fill="#241a24"/>
<text x="482.90" y="267.00" font-size="5.8" text-anchor="start" font-weight="normal" font-style="normal" fill="#222" stroke="#222" stroke-width="0.13" >Th</text>
<rect x="476.3" y="269.20" width="3.7" height="3.8" fill="#86cdb8"/>
<text x="482.90" y="273.10" font-size="5.8" text-anchor="start" font-weight="normal" font-style="normal" fill="#222" stroke="#222" stroke-width="0.13" >Effector</text>
<rect x="476.3" y="275.30" width="3.7" height="3.8" fill="#d6b458"/>
<text x="482.90" y="279.20" font-size="5.8" text-anchor="start" font-weight="normal" font-style="normal" fill="#222" stroke="#222" stroke-width="0.13" >NK</text>
<rect x="476.3" y="281.40" width="3.7" height="3.8" fill="#3a5a38"/>
<text x="482.90" y="285.30" font-size="5.8" text-anchor="start" font-weight="normal" font-style="normal" fill="#222" stroke="#222" stroke-width="0.13" >Macrophage</text>
<rect x="476.3" y="287.50" width="3.7" height="3.8" fill="#c9a3b3"/>
<text x="482.90" y="291.40" font-size="5.8" text-anchor="start" font-weight="normal" font-style="normal" fill="#222" stroke="#222" stroke-width="0.13" >DC</text>
<rect x="39.50" y="493.40" width="16.30" height="28.56" fill="#37a946"/>
<rect x="39.50" y="521.96" width="16.30" height="73.44" fill="#0d528a"/>
<line x1="47.65" y1="600.5" x2="47.65" y2="603.8" stroke="#222" stroke-width="0.75"/>
<text x="50.05" y="609.60" font-size="6.2" text-anchor="end" font-weight="normal" font-style="normal" fill="#222" stroke="#222" stroke-width="0.13" transform="rotate(-45 50.05 609.60)">B cell-C0</text>
<rect x="58.22" y="493.40" width="16.30" height="35.09" fill="#37a946"/>
<rect x="58.22" y="528.49" width="16.30" height="66.91" fill="#0d528a"/>
<line x1="66.37" y1="600.5" x2="66.37" y2="603.8" stroke="#222" stroke-width="0.75"/>
<text x="68.77" y="609.60" font-size="6.2" text-anchor="end" font-weight="normal" font-style="normal" fill="#222" stroke="#222" stroke-width="0.13" transform="rotate(-45 68.77 609.60)">B cell-C11</text>
<rect x="76.94" y="493.40" width="16.30" height="35.39" fill="#37a946"/>
<rect x="76.94" y="528.79" width="16.30" height="66.61" fill="#0d528a"/>
<line x1="85.09" y1="600.5" x2="85.09" y2="603.8" stroke="#222" stroke-width="0.75"/>
<text x="87.49" y="609.60" font-size="6.2" text-anchor="end" font-weight="normal" font-style="normal" fill="#222" stroke="#222" stroke-width="0.13" transform="rotate(-45 87.49 609.60)">B cell-C10</text>
<rect x="95.66" y="493.40" width="16.30" height="36.11" fill="#37a946"/>
<rect x="95.66" y="529.51" width="16.30" height="65.89" fill="#0d528a"/>
<line x1="103.81" y1="600.5" x2="103.81" y2="603.8" stroke="#222" stroke-width="0.75"/>
<text x="106.21" y="609.60" font-size="6.2" text-anchor="end" font-weight="normal" font-style="normal" fill="#222" stroke="#222" stroke-width="0.13" transform="rotate(-45 106.21 609.60)">B cell-C9</text>
<rect x="114.38" y="493.40" width="16.30" height="38.25" fill="#37a946"/>
<rect x="114.38" y="531.65" width="16.30" height="63.75" fill="#0d528a"/>
<line x1="122.53" y1="600.5" x2="122.53" y2="603.8" stroke="#222" stroke-width="0.75"/>
<text x="124.93" y="609.60" font-size="6.2" text-anchor="end" font-weight="normal" font-style="normal" fill="#222" stroke="#222" stroke-width="0.13" transform="rotate(-45 124.93 609.60)">CD8 T cell-C8</text>
<rect x="133.10" y="493.40" width="16.30" height="38.96" fill="#37a946"/>
<rect x="133.10" y="532.36" width="16.30" height="63.04" fill="#0d528a"/>
<line x1="141.25" y1="600.5" x2="141.25" y2="603.8" stroke="#222" stroke-width="0.75"/>
<text x="143.65" y="609.60" font-size="6.2" text-anchor="end" font-weight="normal" font-style="normal" fill="#222" stroke="#222" stroke-width="0.13" transform="rotate(-45 143.65 609.60)">B cell-C12</text>
<rect x="151.82" y="493.40" width="16.30" height="39.78" fill="#37a946"/>
<rect x="151.82" y="533.18" width="16.30" height="62.22" fill="#0d528a"/>
<line x1="159.97" y1="600.5" x2="159.97" y2="603.8" stroke="#222" stroke-width="0.75"/>
<text x="162.37" y="609.60" font-size="6.2" text-anchor="end" font-weight="normal" font-style="normal" fill="#222" stroke="#222" stroke-width="0.13" transform="rotate(-45 162.37 609.60)">CD4 Naive T cell-C20</text>
<rect x="170.54" y="493.40" width="16.30" height="39.98" fill="#37a946"/>
<rect x="170.54" y="533.38" width="16.30" height="62.02" fill="#0d528a"/>
<line x1="178.69" y1="600.5" x2="178.69" y2="603.8" stroke="#222" stroke-width="0.75"/>
<text x="181.09" y="609.60" font-size="6.2" text-anchor="end" font-weight="normal" font-style="normal" fill="#222" stroke="#222" stroke-width="0.13" transform="rotate(-45 181.09 609.60)">CD8 T cell-C5</text>
<rect x="189.26" y="493.40" width="16.30" height="40.80" fill="#37a946"/>
<rect x="189.26" y="534.20" width="16.30" height="61.20" fill="#0d528a"/>
<line x1="197.41" y1="600.5" x2="197.41" y2="603.8" stroke="#222" stroke-width="0.75"/>
<text x="199.81" y="609.60" font-size="6.2" text-anchor="end" font-weight="normal" font-style="normal" fill="#222" stroke="#222" stroke-width="0.13" transform="rotate(-45 199.81 609.60)">CD4 Naive T cell-C27</text>
<rect x="207.98" y="493.40" width="16.30" height="41.21" fill="#37a946"/>
<rect x="207.98" y="534.61" width="16.30" height="60.79" fill="#0d528a"/>
<line x1="216.13" y1="600.5" x2="216.13" y2="603.8" stroke="#222" stroke-width="0.75"/>
<text x="218.53" y="609.60" font-size="6.2" text-anchor="end" font-weight="normal" font-style="normal" fill="#222" stroke="#222" stroke-width="0.13" transform="rotate(-45 218.53 609.60)">B cell-C13</text>
<rect x="226.70" y="493.40" width="16.30" height="44.37" fill="#37a946"/>
<rect x="226.70" y="537.77" width="16.30" height="57.63" fill="#0d528a"/>
<line x1="234.85" y1="600.5" x2="234.85" y2="603.8" stroke="#222" stroke-width="0.75"/>
<text x="237.25" y="609.60" font-size="6.2" text-anchor="end" font-weight="normal" font-style="normal" fill="#222" stroke="#222" stroke-width="0.13" transform="rotate(-45 237.25 609.60)">B cell-C17</text>
<rect x="245.42" y="493.40" width="16.30" height="47.23" fill="#37a946"/>
<rect x="245.42" y="540.63" width="16.30" height="54.77" fill="#0d528a"/>
<line x1="253.57" y1="600.5" x2="253.57" y2="603.8" stroke="#222" stroke-width="0.75"/>
<text x="255.97" y="609.60" font-size="6.2" text-anchor="end" font-weight="normal" font-style="normal" fill="#222" stroke="#222" stroke-width="0.13" transform="rotate(-45 255.97 609.60)">CD4 Naive T cell-C3</text>
<rect x="264.14" y="493.40" width="16.30" height="47.84" fill="#37a946"/>
<rect x="264.14" y="541.24" width="16.30" height="54.16" fill="#0d528a"/>
<line x1="272.29" y1="600.5" x2="272.29" y2="603.8" stroke="#222" stroke-width="0.75"/>
<text x="274.69" y="609.60" font-size="6.2" text-anchor="end" font-weight="normal" font-style="normal" fill="#222" stroke="#222" stroke-width="0.13" transform="rotate(-45 274.69 609.60)">CD4 Naive T cell-C2</text>
<rect x="282.86" y="493.40" width="16.30" height="49.88" fill="#37a946"/>
<rect x="282.86" y="543.28" width="16.30" height="52.12" fill="#0d528a"/>
<line x1="291.01" y1="600.5" x2="291.01" y2="603.8" stroke="#222" stroke-width="0.75"/>
<text x="293.41" y="609.60" font-size="6.2" text-anchor="end" font-weight="normal" font-style="normal" fill="#222" stroke="#222" stroke-width="0.13" transform="rotate(-45 293.41 609.60)">CD4 Treg-C1</text>
<rect x="301.58" y="493.40" width="16.30" height="51.00" fill="#37a946"/>
<rect x="301.58" y="544.40" width="16.30" height="51.00" fill="#0d528a"/>
<line x1="309.73" y1="600.5" x2="309.73" y2="603.8" stroke="#222" stroke-width="0.75"/>
<text x="312.13" y="609.60" font-size="6.2" text-anchor="end" font-weight="normal" font-style="normal" fill="#222" stroke="#222" stroke-width="0.13" transform="rotate(-45 312.13 609.60)">B cell-GCB</text>
<rect x="320.30" y="493.40" width="16.30" height="51.71" fill="#37a946"/>
<rect x="320.30" y="545.11" width="16.30" height="50.29" fill="#0d528a"/>
<line x1="328.45" y1="600.5" x2="328.45" y2="603.8" stroke="#222" stroke-width="0.75"/>
<text x="330.85" y="609.60" font-size="6.2" text-anchor="end" font-weight="normal" font-style="normal" fill="#222" stroke="#222" stroke-width="0.13" transform="rotate(-45 330.85 609.60)">CD4 Treg-C6</text>
<rect x="339.02" y="493.40" width="16.30" height="61.71" fill="#37a946"/>
<rect x="339.02" y="555.11" width="16.30" height="40.29" fill="#0d528a"/>
<line x1="347.17" y1="600.5" x2="347.17" y2="603.8" stroke="#222" stroke-width="0.75"/>
<text x="349.57" y="609.60" font-size="6.2" text-anchor="end" font-weight="normal" font-style="normal" fill="#222" stroke="#222" stroke-width="0.13" transform="rotate(-45 349.57 609.60)">B cell-Plasma</text>
<rect x="357.74" y="493.40" width="16.30" height="62.12" fill="#37a946"/>
<rect x="357.74" y="555.52" width="16.30" height="39.88" fill="#0d528a"/>
<line x1="365.89" y1="600.5" x2="365.89" y2="603.8" stroke="#222" stroke-width="0.75"/>
<text x="368.29" y="609.60" font-size="6.2" text-anchor="end" font-weight="normal" font-style="normal" fill="#222" stroke="#222" stroke-width="0.13" transform="rotate(-45 368.29 609.60)">CD4 Helper T cell-C21</text>
<rect x="376.46" y="493.40" width="16.30" height="63.44" fill="#37a946"/>
<rect x="376.46" y="556.84" width="16.30" height="38.56" fill="#0d528a"/>
<line x1="384.61" y1="600.5" x2="384.61" y2="603.8" stroke="#222" stroke-width="0.75"/>
<text x="387.01" y="609.60" font-size="6.2" text-anchor="end" font-weight="normal" font-style="normal" fill="#222" stroke="#222" stroke-width="0.13" transform="rotate(-45 387.01 609.60)">B cell-C4</text>
<line x1="39.5" y1="539.5" x2="392.76" y2="539.5" stroke="#fff" stroke-width="0.8" stroke-dasharray="2.2 1.6"/>
<path d="M 36.6 491 L 36.6 600.6 L 395 600.6" fill="none" stroke="#222" stroke-width="1.0"/>
<line x1="33.8" y1="493.40" x2="36.6" y2="493.40" stroke="#222" stroke-width="0.7"/>
<text x="30.00" y="495.40" font-size="5.6" text-anchor="end" font-weight="normal" font-style="normal" fill="#222" stroke="#222" stroke-width="0.13" >1.00</text>
<line x1="33.8" y1="518.90" x2="36.6" y2="518.90" stroke="#222" stroke-width="0.7"/>
<text x="30.00" y="520.90" font-size="5.6" text-anchor="end" font-weight="normal" font-style="normal" fill="#222" stroke="#222" stroke-width="0.13" >0.75</text>
<line x1="33.8" y1="544.40" x2="36.6" y2="544.40" stroke="#222" stroke-width="0.7"/>
<text x="30.00" y="546.40" font-size="5.6" text-anchor="end" font-weight="normal" font-style="normal" fill="#222" stroke="#222" stroke-width="0.13" >0.50</text>
<line x1="33.8" y1="569.90" x2="36.6" y2="569.90" stroke="#222" stroke-width="0.7"/>
<text x="30.00" y="571.90" font-size="5.6" text-anchor="end" font-weight="normal" font-style="normal" fill="#222" stroke="#222" stroke-width="0.13" >0.25</text>
<line x1="33.8" y1="595.40" x2="36.6" y2="595.40" stroke="#222" stroke-width="0.7"/>
<text x="30.00" y="597.40" font-size="5.6" text-anchor="end" font-weight="normal" font-style="normal" fill="#222" stroke="#222" stroke-width="0.13" >0.00</text>
<text x="13.30" y="546.60" font-size="5.7" text-anchor="middle" font-weight="normal" font-style="normal" fill="#222" stroke="#222" stroke-width="0.13" transform="rotate(-90 13.3 546.6)">Proportion of cells in cluster (/ all cells)</text>
<text x="398.50" y="535.00" font-size="5.8" text-anchor="start" font-weight="normal" font-style="normal" fill="#222" stroke="#222" stroke-width="0.13" >Type</text>
<rect x="398.7" y="539.3" width="8.8" height="8.1" fill="#37a946"/>
<rect x="398.7" y="547.4" width="8.8" height="8.1" fill="#0d528a"/>
<text x="410.00" y="545.60" font-size="5.8" text-anchor="start" font-weight="normal" font-style="normal" fill="#222" stroke="#222" stroke-width="0.13" >Diagnostic</text>
<text x="410.00" y="553.80" font-size="5.8" text-anchor="start" font-weight="normal" font-style="normal" fill="#222" stroke="#222" stroke-width="0.13" >Relapse</text>
<circle cx="8.30" cy="426.00" r="0.9" fill="#f2ead0"/>
<text x="12.10" y="428.10" font-size="5.9" text-anchor="start" font-weight="normal" font-style="normal" fill="#333" stroke="#333" stroke-width="0.13" >B cell-C0</text>
<circle cx="8.30" cy="434.35" r="0.9" fill="#f3c9a0"/>
<text x="12.10" y="436.45" font-size="5.9" text-anchor="start" font-weight="normal" font-style="normal" fill="#333" stroke="#333" stroke-width="0.13" >B cell-C4</text>
<circle cx="8.30" cy="442.70" r="0.9" fill="#f3b0a0"/>
<text x="12.10" y="444.80" font-size="5.9" text-anchor="start" font-weight="normal" font-style="normal" fill="#333" stroke="#333" stroke-width="0.13" >B cell-C9</text>
<circle cx="8.30" cy="451.05" r="0.9" fill="#e0604c"/>
<text x="12.10" y="453.15" font-size="5.9" text-anchor="start" font-weight="normal" font-style="normal" fill="#333" stroke="#333" stroke-width="0.13" >B cell-C10</text>
<circle cx="8.30" cy="459.40" r="0.9" fill="#6aa850"/>
<text x="12.10" y="461.50" font-size="5.9" text-anchor="start" font-weight="normal" font-style="normal" fill="#333" stroke="#333" stroke-width="0.13" >B cell-C11</text>
<circle cx="46.70" cy="426.00" r="0.9" fill="#2a2a2a"/>
<text x="50.50" y="428.10" font-size="5.9" text-anchor="start" font-weight="normal" font-style="normal" fill="#333" stroke="#333" stroke-width="0.13" >B cell-C12</text>
<circle cx="46.70" cy="434.35" r="0.9" fill="#e9e9e0"/>
<text x="50.50" y="436.45" font-size="5.9" text-anchor="start" font-weight="normal" font-style="normal" fill="#333" stroke="#333" stroke-width="0.13" >B cell-C13</text>
<circle cx="46.70" cy="442.70" r="0.9" fill="#d0d0d0"/>
<text x="50.50" y="444.80" font-size="5.9" text-anchor="start" font-weight="normal" font-style="normal" fill="#333" stroke="#333" stroke-width="0.13" >B cell-C17</text>
<circle cx="46.70" cy="451.05" r="0.9" fill="#c8d8f0"/>
<text x="50.50" y="453.15" font-size="5.9" text-anchor="start" font-weight="normal" font-style="normal" fill="#333" stroke="#333" stroke-width="0.13" >B cell-GCB</text>
<circle cx="46.70" cy="459.40" r="0.9" fill="#c8102e"/>
<text x="50.50" y="461.50" font-size="5.9" text-anchor="start" font-weight="normal" font-style="normal" fill="#333" stroke="#333" stroke-width="0.13" >B cell-Plasma</text>
<circle cx="92.40" cy="426.00" r="0.9" fill="#e9dfc8"/>
<text x="96.20" y="428.10" font-size="5.9" text-anchor="start" font-weight="normal" font-style="normal" fill="#333" stroke="#333" stroke-width="0.13" >CD4 Naive T cell-C2</text>
<circle cx="92.40" cy="434.35" r="0.9" fill="#f0d8c8"/>
<text x="96.20" y="436.45" font-size="5.9" text-anchor="start" font-weight="normal" font-style="normal" fill="#333" stroke="#333" stroke-width="0.13" >CD4 Naive T cell-C3</text>
<circle cx="92.40" cy="442.70" r="0.9" fill="#e8d0e8"/>
<text x="96.20" y="444.80" font-size="5.9" text-anchor="start" font-weight="normal" font-style="normal" fill="#333" stroke="#333" stroke-width="0.13" >CD4 Naive T cell-C20</text>
<circle cx="92.40" cy="451.05" r="0.9" fill="#d8d0e8"/>
<text x="96.20" y="453.15" font-size="5.9" text-anchor="start" font-weight="normal" font-style="normal" fill="#333" stroke="#333" stroke-width="0.13" >CD4 Naive T cell-C24</text>
<circle cx="92.40" cy="459.40" r="0.9" fill="#e0e0e0"/>
<text x="96.20" y="461.50" font-size="5.9" text-anchor="start" font-weight="normal" font-style="normal" fill="#333" stroke="#333" stroke-width="0.13" >CD4 Naive T cell-C27</text>
<circle cx="158.10" cy="426.00" r="0.9" fill="#e8e0c0"/>
<text x="161.90" y="428.10" font-size="5.9" text-anchor="start" font-weight="normal" font-style="normal" fill="#333" stroke="#333" stroke-width="0.13" >CD4 Helper T cell-C21</text>
<circle cx="158.10" cy="434.35" r="0.9" fill="#c8c8c8"/>
<text x="161.90" y="436.45" font-size="5.9" text-anchor="start" font-weight="normal" font-style="normal" fill="#333" stroke="#333" stroke-width="0.13" >CD4 Treg-C1</text>
<circle cx="158.10" cy="442.70" r="0.9" fill="#c8d0c0"/>
<text x="161.90" y="444.80" font-size="5.9" text-anchor="start" font-weight="normal" font-style="normal" fill="#333" stroke="#333" stroke-width="0.13" >CD4 Treg-C6</text>
<circle cx="158.10" cy="451.05" r="0.9" fill="#d8c8c8"/>
<text x="161.90" y="453.15" font-size="5.9" text-anchor="start" font-weight="normal" font-style="normal" fill="#333" stroke="#333" stroke-width="0.13" >CD8 T cell-C8</text>
<circle cx="158.10" cy="459.40" r="0.9" fill="#d8d8d8"/>
<text x="161.90" y="461.50" font-size="5.9" text-anchor="start" font-weight="normal" font-style="normal" fill="#333" stroke="#333" stroke-width="0.13" >CD8 T cell-C5</text>
<circle cx="228.10" cy="426.00" r="0.9" fill="#e8d8b0"/>
<text x="231.90" y="428.10" font-size="5.9" text-anchor="start" font-weight="normal" font-style="normal" fill="#333" stroke="#333" stroke-width="0.13" >NK</text>
<circle cx="228.10" cy="434.35" r="0.9" fill="#e8e8e8"/>
<text x="231.90" y="436.45" font-size="5.9" text-anchor="start" font-weight="normal" font-style="normal" fill="#333" stroke="#333" stroke-width="0.13" >Macrophage</text>
<circle cx="228.10" cy="442.70" r="0.9" fill="#333"/>
<text x="231.90" y="444.80" font-size="5.9" text-anchor="start" font-weight="normal" font-style="normal" fill="#333" stroke="#333" stroke-width="0.13" >DC</text>
<defs><pattern id="tx1" patternUnits="userSpaceOnUse" width="9" height="9"><circle cx="4.1" cy="5.0" r="0.44" fill="#fff" fill-opacity="0.35"/><circle cx="7.7" cy="1.7" r="0.44" fill="#000" fill-opacity="0.2"/><circle cx="5.5" cy="1.7" r="0.39" fill="#fff" fill-opacity="0.35"/><circle cx="0.8" cy="7.3" r="0.48" fill="#000" fill-opacity="0.2"/><circle cx="3.6" cy="4.1" r="0.50" fill="#000" fill-opacity="0.2"/><circle cx="5.6" cy="7.5" r="0.32" fill="#000" fill-opacity="0.2"/><circle cx="1.7" cy="2.2" r="0.53" fill="#000" fill-opacity="0.2"/><circle cx="2.9" cy="5.3" r="0.46" fill="#000" fill-opacity="0.2"/><circle cx="5.8" cy="4.5" r="0.44" fill="#000" fill-opacity="0.2"/><circle cx="2.5" cy="9.0" r="0.51" fill="#000" fill-opacity="0.2"/><circle cx="2.8" cy="2.1" r="0.31" fill="#fff" fill-opacity="0.35"/><circle cx="5.1" cy="1.0" r="0.55" fill="#000" fill-opacity="0.2"/><circle cx="3.5" cy="8.6" r="0.36" fill="#000" fill-opacity="0.2"/><circle cx="8.3" cy="0.5" r="0.59" fill="#fff" fill-opacity="0.35"/><circle cx="3.6" cy="0.7" r="0.53" fill="#000" fill-opacity="0.2"/><circle cx="2.4" cy="0.8" r="0.30" fill="#fff" fill-opacity="0.35"/><circle cx="3.7" cy="8.3" r="0.37" fill="#000" fill-opacity="0.2"/><circle cx="0.9" cy="0.5" r="0.35" fill="#fff" fill-opacity="0.35"/><circle cx="5.0" cy="4.0" r="0.60" fill="#000" fill-opacity="0.2"/><circle cx="6.9" cy="3.8" r="0.33" fill="#fff" fill-opacity="0.35"/><circle cx="3.8" cy="1.9" r="0.56" fill="#fff" fill-opacity="0.35"/><circle cx="8.8" cy="5.3" r="0.36" fill="#000" fill-opacity="0.2"/><circle cx="3.5" cy="7.7" r="0.33" fill="#000" fill-opacity="0.2"/><circle cx="8.9" cy="1.9" r="0.30" fill="#fff" fill-opacity="0.35"/><circle cx="5.5" cy="7.5" r="0.32" fill="#fff" fill-opacity="0.35"/><circle cx="0.8" cy="5.2" r="0.30" fill="#000" fill-opacity="0.2"/><circle cx="3.3" cy="5.6" r="0.59" fill="#000" fill-opacity="0.2"/><circle cx="4.4" cy="5.2" r="0.35" fill="#fff" fill-opacity="0.35"/><circle cx="1.4" cy="8.2" r="0.37" fill="#000" fill-opacity="0.2"/><circle cx="1.7" cy="6.7" r="0.36" fill="#000" fill-opacity="0.2"/><circle cx="8.6" cy="7.9" r="0.32" fill="#000" fill-opacity="0.2"/><circle cx="0.4" cy="1.0" r="0.59" fill="#000" fill-opacity="0.2"/><circle cx="2.1" cy="6.3" r="0.43" fill="#fff" fill-opacity="0.35"/><circle cx="8.1" cy="4.4" r="0.35" fill="#000" fill-opacity="0.2"/><circle cx="6.5" cy="0.6" r="0.44" fill="#000" fill-opacity="0.2"/><circle cx="5.9" cy="5.5" r="0.38" fill="#000" fill-opacity="0.2"/><circle cx="8.3" cy="1.8" r="0.32" fill="#000" fill-opacity="0.2"/><circle cx="3.7" cy="2.2" r="0.35" fill="#000" fill-opacity="0.2"/></pattern></defs>
<path d="M 51.6 287.3 L 52.1 285.8 L 52.4 284.3 L 52.6 282.6 L 53.4 280.6 L 54.2 278.5 L 55.4 277.9 L 55.9 275.8 L 57.4 275.3 L 58.4 273.4 L 60.0 271.8 L 61.3 270.8 L 62.1 269.4 L 63.9 269.0 L 65.4 267.6 L 67.4 266.5 L 68.5 265.3 L 69.1 264.7 L 70.9 264.3 L 71.6 264.1 L 72.9 263.5 L 74.6 263.9 L 75.3 263.8 L 77.0 264.5 L 78.6 264.3 L 80.2 264.7 L 81.0 266.2 L 82.2 266.9 L 83.6 268.2 L 85.7 269.3 L 86.9 270.2 L 87.6 271.6 L 88.1 272.5 L 88.9 274.2 L 89.0 275.1 L 88.8 276.4 L 89.7 278.2 L 90.0 279.0 L 89.5 281.1 L 89.0 282.5 L 88.9 283.5 L 88.5 285.4 L 88.1 285.8 L 87.9 287.5 L 86.8 287.9 L 86.6 289.1 L 85.9 289.8 L 84.1 289.9 L 83.0 291.0 L 82.4 290.7 L 80.3 291.3 L 79.3 292.2 L 78.6 292.5 L 76.9 293.3 L 76.1 294.1 L 75.5 294.7 L 73.6 295.1 L 72.2 295.0 L 70.8 296.3 L 69.1 296.6 L 67.1 296.3 L 65.3 296.4 L 63.9 295.5 L 62.7 295.1 L 61.5 294.5 L 60.0 294.1 L 59.0 293.8 L 57.9 293.9 L 57.6 292.5 L 56.3 292.1 L 55.6 291.2 L 55.1 291.5 L 53.7 290.3 L 52.4 289.2 L 52.0 288.5 Z" fill="#6a9fd0" fill-opacity="1.0"/>
<path d="M 51.6 287.3 L 52.1 285.8 L 52.4 284.3 L 52.6 282.6 L 53.4 280.6 L 54.2 278.5 L 55.4 277.9 L 55.9 275.8 L 57.4 275.3 L 58.4 273.4 L 60.0 271.8 L 61.3 270.8 L 62.1 269.4 L 63.9 269.0 L 65.4 267.6 L 67.4 266.5 L 68.5 265.3 L 69.1 264.7 L 70.9 264.3 L 71.6 264.1 L 72.9 263.5 L 74.6 263.9 L 75.3 263.8 L 77.0 264.5 L 78.6 264.3 L 80.2 264.7 L 81.0 266.2 L 82.2 266.9 L 83.6 268.2 L 85.7 269.3 L 86.9 270.2 L 87.6 271.6 L 88.1 272.5 L 88.9 274.2 L 89.0 275.1 L 88.8 276.4 L 89.7 278.2 L 90.0 279.0 L 89.5 281.1 L 89.0 282.5 L 88.9 283.5 L 88.5 285.4 L 88.1 285.8 L 87.9 287.5 L 86.8 287.9 L 86.6 289.1 L 85.9 289.8 L 84.1 289.9 L 83.0 291.0 L 82.4 290.7 L 80.3 291.3 L 79.3 292.2 L 78.6 292.5 L 76.9 293.3 L 76.1 294.1 L 75.5 294.7 L 73.6 295.1 L 72.2 295.0 L 70.8 296.3 L 69.1 296.6 L 67.1 296.3 L 65.3 296.4 L 63.9 295.5 L 62.7 295.1 L 61.5 294.5 L 60.0 294.1 L 59.0 293.8 L 57.9 293.9 L 57.6 292.5 L 56.3 292.1 L 55.6 291.2 L 55.1 291.5 L 53.7 290.3 L 52.4 289.2 L 52.0 288.5 Z" fill="url(#tx1)"/>
<path d="M62.3 272.5h0M61.6 278.1h0M61.2 271.7h0M76.2 267.0h0M84.9 271.3h0M65.8 292.4h0M80.9 285.4h0M75.7 286.9h0M82.4 290.5h0M65.7 284.0h0M76.7 268.8h0M76.3 276.7h0M68.1 268.8h0M55.2 282.6h0M80.8 268.0h0M57.1 290.1h0M58.2 275.1h0M75.1 283.8h0M69.5 282.2h0M64.0 276.4h0M63.4 271.9h0M65.6 280.2h0M82.2 276.8h0M70.7 285.2h0M63.6 287.3h0M76.3 289.3h0M85.7 278.6h0M74.9 271.5h0M62.2 274.4h0M88.0 278.5h0M77.6 293.0h0M65.7 276.0h0M62.9 280.6h0M79.3 288.1h0M62.7 284.2h0M70.1 283.7h0M53.8 282.2h0M71.4 281.2h0M65.5 290.8h0M78.3 278.4h0M57.2 285.5h0M74.4 280.6h0M74.8 285.2h0M69.7 281.3h0M68.2 293.5h0M61.6 284.8h0M87.2 272.3h0M55.0 280.3h0M66.4 283.4h0M71.9 279.1h0M56.0 284.0h0M75.9 265.1h0M80.1 287.0h0M86.0 288.3h0M80.0 284.4h0M62.8 274.7h0M65.0 294.1h0M80.6 283.4h0M55.5 279.0h0M73.3 273.1h0M71.1 282.6h0M72.8 267.1h0M85.2 288.1h0M76.0 275.9h0M67.9 281.5h0M71.4 292.1h0M72.6 274.3h0M77.6 272.1h0M74.4 275.1h0M58.0 285.2h0M63.1 273.4h0M62.3 292.6h0M61.4 287.8h0M75.9 282.8h0M85.4 271.6h0M68.9 270.4h0M61.3 276.2h0M54.4 289.8h0M69.4 289.3h0M76.4 270.6h0M83.8 269.8h0M81.2 270.5h0M62.9 279.9h0M77.0 267.5h0M67.5 290.7h0M78.1 271.8h0M74.3 287.7h0M63.8 286.5h0M62.9 278.9h0M70.0 288.5h0M59.8 277.3h0M55.3 285.3h0M62.5 274.9h0M65.1 279.8h0M64.7 270.4h0M66.8 281.8h0M73.3 276.7h0M69.6 288.7h0M70.6 281.5h0M78.4 291.9h0M72.4 266.4h0M85.4 284.2h0M57.2 288.5h0M77.5 283.9h0M83.1 283.6h0M58.0 289.9h0M81.0 278.5h0M80.1 274.6h0M61.0 276.4h0M80.7 271.4h0M77.6 274.2h0M80.4 289.3h0M72.3 289.1h0M71.8 281.4h0M73.8 264.0h0M72.1 281.2h0M63.8 280.3h0M61.0 293.9h0M84.3 275.9h0M74.6 266.8h0M59.8 294.0h0M86.3 280.3h0M83.7 275.8h0M80.4 279.5h0M68.3 285.0h0M65.7 276.5h0M57.7 290.9h0M86.5 276.3h0M63.9 271.3h0M68.3 268.6h0M68.9 279.5h0M68.0 272.3h0M60.7 276.5h0M57.2 284.6h0M70.8 280.4h0M62.5 275.5h0M67.1 272.8h0M83.4 280.8h0M76.9 284.3h0M86.2 280.7h0M79.2 278.3h0M82.0 268.1h0M55.1 283.9h0M75.7 278.9h0M68.5 275.2h0M85.0 281.4h0M60.3 285.6h0M66.7 294.7h0M60.3 277.5h0M89.2 278.5h0M75.4 290.1h0M64.8 269.2h0M73.9 294.2h0M79.6 273.1h0M77.9 270.9h0M66.7 293.9h0M87.5 274.3h0M61.9 292.4h0M72.5 283.5h0M65.1 288.6h0M78.2 277.2h0M67.2 281.7h0M66.7 296.2h0M62.6 275.2h0M88.9 276.1h0M71.9 290.0h0M85.4 273.5h0M63.5 284.0h0M82.8 287.5h0M77.2 278.5h0M58.9 277.5h0M71.5 290.4h0M85.3 277.2h0M71.1 268.4h0M74.4 268.5h0M70.2 279.0h0M73.5 268.4h0M75.2 264.3h0M66.6 288.7h0M73.8 269.4h0M84.3 278.6h0M73.7 277.2h0M58.2 276.1h0M84.9 276.7h0M64.4 292.2h0M66.3 279.0h0M68.1 272.8h0M82.0 271.6h0M60.8 275.7h0M62.9 279.3h0M89.2 283.2h0M88.9 281.2h0M79.4 288.7h0M78.7 268.4h0" stroke="#2a2a2a" stroke-opacity="0.22" stroke-width="0.7" stroke-linecap="round"/>
<path d="M60.6 272.9h0M53.7 283.3h0M71.0 269.5h0M53.2 287.6h0M69.9 277.0h0M80.5 289.9h0M66.5 276.9h0M73.3 294.0h0M66.2 288.3h0M82.0 273.6h0M63.6 283.6h0M55.0 287.0h0M85.2 284.6h0M65.3 268.6h0M82.4 270.0h0M83.4 285.7h0M83.6 289.1h0M69.2 278.3h0M65.2 275.6h0M54.3 283.8h0M85.0 273.1h0M81.6 286.1h0M60.1 290.9h0M61.3 274.3h0M88.0 279.4h0M59.3 276.9h0M81.5 272.3h0M71.9 291.7h0M85.3 283.1h0M67.3 280.6h0M76.1 277.3h0M70.9 265.8h0M76.4 269.4h0M75.6 285.9h0M62.9 294.1h0M66.5 282.8h0M80.4 270.2h0M71.8 285.4h0M56.8 289.6h0M62.6 288.1h0M73.0 287.1h0M71.4 273.1h0M55.4 286.4h0M88.1 283.1h0M88.6 284.3h0M56.6 283.1h0M74.5 264.8h0M64.3 284.7h0M70.8 272.4h0M82.8 283.9h0M68.2 271.0h0M60.9 291.6h0M73.8 284.9h0M76.8 285.0h0M68.0 272.2h0M78.5 268.8h0M84.0 280.6h0M60.0 287.1h0M59.3 275.1h0M65.7 274.9h0M58.7 280.5h0M79.1 283.8h0M75.4 285.8h0M66.8 294.9h0M69.1 269.1h0M75.9 287.3h0M57.3 285.5h0M81.6 277.2h0M80.3 284.9h0M78.2 286.2h0M77.3 279.4h0M81.8 275.4h0M63.8 279.6h0M73.0 274.3h0M71.7 275.0h0M62.8 283.6h0M71.8 283.6h0M85.6 281.6h0M72.7 279.5h0M58.6 275.5h0M81.0 281.8h0M78.5 267.9h0M57.3 285.7h0M53.3 284.4h0M58.3 285.4h0M67.6 267.0h0M73.0 282.6h0M70.5 280.8h0M80.8 277.5h0M77.3 283.1h0M76.5 268.8h0M69.5 272.7h0M68.7 288.0h0M65.5 288.1h0M72.7 280.0h0M63.5 283.3h0M69.4 269.1h0M75.1 285.0h0M74.3 292.1h0M83.0 282.8h0M66.1 289.5h0M71.3 272.2h0M82.0 273.2h0M65.3 289.2h0M84.5 282.2h0M55.4 278.3h0M74.6 268.0h0M78.3 279.6h0M75.8 293.9h0M78.8 269.3h0M72.5 264.6h0M61.5 280.5h0M59.3 288.2h0M66.0 278.1h0M69.3 293.5h0M75.0 275.9h0M65.5 274.6h0M58.6 278.5h0M73.2 273.4h0M71.1 284.3h0M86.5 282.0h0M56.3 288.4h0M57.9 290.9h0M58.4 283.3h0M85.1 287.6h0M77.8 280.7h0M62.4 284.6h0M80.4 268.1h0M61.1 282.1h0M53.2 286.7h0M84.0 275.3h0M65.2 271.7h0M84.4 282.5h0M63.5 281.9h0M79.5 272.2h0M69.2 282.9h0M75.6 286.4h0M74.4 264.9h0M66.8 291.1h0M83.4 282.2h0M63.8 276.8h0M77.3 275.3h0M64.0 270.3h0M75.1 293.7h0M71.0 292.6h0M73.5 272.7h0M72.4 275.7h0M63.2 279.3h0M58.9 281.6h0M76.5 280.6h0M86.8 277.3h0M74.7 272.7h0M61.9 284.3h0M83.7 272.8h0M56.0 291.6h0M71.5 283.2h0M65.9 271.3h0M64.2 295.4h0M60.9 274.4h0M67.2 280.1h0M73.8 286.3h0M63.4 269.4h0M62.9 274.9h0M70.9 295.5h0M73.0 267.2h0M75.5 287.3h0M78.4 281.8h0M58.4 288.8h0M81.8 285.0h0M75.4 291.8h0M61.2 292.7h0M54.3 285.8h0M67.6 293.6h0M59.2 281.5h0M72.6 279.0h0M67.0 284.3h0M84.0 285.8h0M70.9 267.8h0M77.2 266.7h0M78.5 286.4h0" stroke="#fff" stroke-opacity="0.3" stroke-width="0.9" stroke-linecap="round"/>
<path d="M82.9 269.0h0M71.6 268.5h0M72.2 264.6h0M84.2 286.5h0M61.6 275.7h0M58.1 288.9h0M71.8 289.2h0M64.2 271.0h0M83.8 290.1h0M82.5 287.9h0M60.3 280.6h0M61.5 286.3h0M87.7 278.3h0M87.6 275.6h0M75.2 293.1h0M83.3 279.4h0M76.3 289.8h0M55.0 285.3h0M79.9 279.3h0M58.5 289.5h0M64.3 289.9h0M88.2 276.6h0M66.9 294.7h0M79.0 269.3h0M57.3 290.7h0M64.9 281.6h0M88.2 284.9h0M71.5 294.2h0M68.1 292.2h0M82.8 270.6h0M61.2 273.3h0M60.8 282.9h0M61.5 277.4h0M65.1 278.7h0M73.7 293.3h0M67.6 293.7h0M70.6 281.1h0M68.3 269.7h0M58.3 279.2h0M79.0 281.9h0M64.0 280.7h0M72.6 289.3h0M55.8 282.0h0M61.1 272.8h0M80.8 280.3h0M72.9 288.6h0M86.0 278.2h0M74.8 280.2h0M71.0 286.4h0M68.8 281.1h0M69.7 294.5h0M78.0 292.4h0M87.1 272.2h0M72.8 294.5h0M83.3 268.2h0M56.4 278.2h0M54.5 285.6h0M57.6 287.1h0M76.6 268.4h0M66.7 279.6h0M57.9 277.8h0M71.1 274.8h0M59.1 274.1h0M72.6 278.1h0M75.2 280.5h0M53.3 289.2h0M67.6 293.5h0M82.5 272.2h0M73.2 286.6h0M77.6 277.6h0M75.6 289.9h0M68.8 274.8h0M72.5 294.0h0M71.6 271.5h0M63.5 273.7h0M80.3 273.2h0M70.6 269.5h0M79.3 281.7h0M58.9 279.2h0M82.5 277.8h0M70.4 291.0h0M66.5 280.3h0M64.7 290.9h0M78.3 284.5h0M67.0 275.1h0M54.5 287.9h0M84.4 285.6h0M62.4 271.6h0M62.8 278.7h0M57.7 278.3h0M88.3 281.6h0M63.4 275.4h0M69.6 280.1h0M59.3 280.2h0M63.2 271.3h0M73.8 281.0h0M79.9 285.2h0M78.6 292.4h0M66.4 274.4h0M79.0 284.7h0M85.2 284.2h0M79.3 290.3h0M57.0 280.8h0M70.7 291.0h0M82.0 290.7h0M73.7 292.9h0M77.4 286.4h0M55.7 291.0h0M72.7 284.2h0M75.3 286.0h0" stroke="#3f70a8" stroke-opacity="0.8" stroke-width="1.2" stroke-linecap="round"/>
<path d="M57.4 274.2h0M67.1 296.6h0M85.5 266.9h0M89.8 277.0h0M87.3 271.4h0M63.7 296.8h0M58.7 294.8h0M91.1 282.2h0M62.5 294.3h0M81.4 266.4h0M59.9 294.5h0M63.5 295.8h0M70.1 264.8h0M88.1 287.1h0M90.0 279.4h0M87.2 289.1h0M89.3 277.8h0M84.4 289.0h0M54.2 290.7h0M68.7 264.1h0M73.8 264.0h0M88.4 274.6h0M74.4 263.6h0M82.8 268.5h0M88.3 272.0h0M53.8 290.5h0M80.4 266.8h0M86.6 290.6h0M81.6 291.2h0M53.1 285.0h0M56.8 274.7h0M87.7 271.0h0M72.1 297.1h0M52.9 280.0h0M75.4 294.3h0M78.1 264.7h0M70.6 297.0h0M88.5 271.8h0M77.4 293.6h0M52.9 279.3h0M89.9 278.0h0M78.7 264.9h0M77.8 263.8h0M80.5 291.4h0M75.5 265.7h0M74.3 264.4h0M84.4 288.7h0M89.6 276.9h0M82.0 292.3h0M78.8 266.1h0M68.0 296.5h0M57.5 275.0h0M87.3 288.1h0M89.6 283.1h0M66.9 295.3h0M63.4 295.9h0M71.0 263.6h0M59.1 271.7h0M52.3 280.7h0M58.4 273.8h0M72.4 295.4h0M58.4 291.4h0" stroke="#3a3a3a" stroke-opacity="0.35" stroke-width="0.8" stroke-linecap="round"/>
<path d="M63.8 296.5h0M58.5 293.1h0M89.1 275.7h0M62.9 294.8h0M80.7 264.9h0M54.4 291.1h0M81.9 266.2h0M68.5 266.4h0M52.3 284.7h0M87.4 276.4h0M57.8 294.7h0M86.1 291.7h0M63.5 294.7h0M67.4 266.4h0M79.8 262.8h0M83.6 290.7h0M55.4 278.2h0M88.2 275.4h0M53.1 281.4h0M56.3 277.5h0M56.4 277.3h0M89.5 282.6h0M64.5 296.1h0M62.4 293.9h0M71.2 295.5h0M60.9 271.6h0M77.5 293.5h0M54.8 275.8h0M83.8 268.0h0M90.1 281.0h0M68.1 296.1h0M59.4 292.0h0M70.3 263.9h0M51.7 286.7h0M67.7 264.5h0M57.7 275.5h0M52.4 287.4h0M86.9 271.7h0M89.6 282.7h0M76.7 293.8h0M85.6 289.3h0M80.4 266.2h0M91.0 279.8h0M56.4 275.7h0M69.7 265.1h0M88.6 280.4h0M57.9 293.6h0M73.6 295.2h0M65.9 265.9h0M76.7 295.4h0M77.9 265.6h0M79.5 292.2h0M78.6 262.3h0M54.1 280.0h0M58.1 275.4h0M82.9 288.7h0M52.6 284.4h0M87.4 283.9h0M73.0 263.8h0M74.8 263.2h0M59.7 270.7h0M69.8 295.3h0M67.5 265.7h0" stroke="#3a3a3a" stroke-opacity="0.65" stroke-width="0.8" stroke-linecap="round"/>
<path d="M 79.7 265.7 L 80.8 264.7 L 81.7 264.8 L 82.7 263.5 L 84.0 262.7 L 84.8 262.8 L 86.2 261.7 L 88.0 261.2 L 89.2 260.8 L 91.0 260.5 L 91.6 259.4 L 93.8 259.1 L 95.5 257.7 L 96.7 257.6 L 98.4 257.1 L 99.4 256.6 L 99.7 256.9 L 100.7 257.2 L 101.3 258.0 L 101.6 258.7 L 101.8 259.1 L 101.5 260.3 L 100.7 261.6 L 99.8 261.8 L 98.9 263.1 L 98.5 264.2 L 97.2 265.5 L 95.8 266.3 L 95.5 267.5 L 94.8 268.2 L 93.7 269.5 L 92.8 269.4 L 91.5 271.1 L 90.7 272.0 L 89.8 272.4 L 89.5 272.6 L 87.7 272.6 L 86.8 272.9 L 85.9 271.9 L 84.9 271.8 L 84.4 271.1 L 83.0 270.4 L 81.6 269.4 L 81.3 268.4 L 80.2 266.6 Z" fill="#b9d46c" fill-opacity="1.0"/>
<path d="M 79.7 265.7 L 80.8 264.7 L 81.7 264.8 L 82.7 263.5 L 84.0 262.7 L 84.8 262.8 L 86.2 261.7 L 88.0 261.2 L 89.2 260.8 L 91.0 260.5 L 91.6 259.4 L 93.8 259.1 L 95.5 257.7 L 96.7 257.6 L 98.4 257.1 L 99.4 256.6 L 99.7 256.9 L 100.7 257.2 L 101.3 258.0 L 101.6 258.7 L 101.8 259.1 L 101.5 260.3 L 100.7 261.6 L 99.8 261.8 L 98.9 263.1 L 98.5 264.2 L 97.2 265.5 L 95.8 266.3 L 95.5 267.5 L 94.8 268.2 L 93.7 269.5 L 92.8 269.4 L 91.5 271.1 L 90.7 272.0 L 89.8 272.4 L 89.5 272.6 L 87.7 272.6 L 86.8 272.9 L 85.9 271.9 L 84.9 271.8 L 84.4 271.1 L 83.0 270.4 L 81.6 269.4 L 81.3 268.4 L 80.2 266.6 Z" fill="url(#tx1)"/>
<path d="M87.6 262.5h0M99.6 260.8h0M97.0 264.6h0M96.4 261.2h0M90.5 264.5h0M91.1 262.6h0M95.6 262.1h0M87.2 264.5h0M93.6 268.3h0M92.3 266.1h0M99.4 258.5h0M89.2 265.9h0M85.1 269.3h0M83.1 268.2h0M86.5 262.5h0M98.0 261.9h0M99.2 261.4h0M85.8 267.0h0M86.9 270.4h0M94.1 261.9h0M87.7 262.6h0M97.5 264.4h0M93.9 267.1h0M95.2 265.7h0M91.4 261.2h0M83.2 266.7h0M89.5 270.3h0M94.5 262.4h0M88.1 271.1h0M95.2 260.7h0M87.0 263.6h0M100.5 259.1h0M98.8 260.9h0M96.6 263.8h0M90.0 263.2h0M93.8 267.3h0M84.3 266.7h0M86.1 262.1h0M85.8 263.5h0" stroke="#2a2a2a" stroke-opacity="0.22" stroke-width="0.7" stroke-linecap="round"/>
<path d="M87.7 264.6h0M92.6 260.9h0M98.0 258.2h0M93.9 266.3h0M89.6 260.6h0M93.4 260.3h0M85.3 270.6h0M87.3 262.6h0M85.3 270.5h0M87.2 267.9h0M90.8 270.9h0M84.4 270.8h0M88.7 263.1h0M92.3 267.2h0M90.5 266.5h0M83.8 270.4h0M81.9 266.5h0M84.5 265.2h0M92.4 260.6h0M91.7 260.2h0M85.6 266.4h0M91.4 262.4h0M90.3 271.5h0M90.8 262.5h0M87.2 270.9h0M82.9 266.2h0M84.8 265.4h0M91.4 270.0h0" stroke="#fff" stroke-opacity="0.3" stroke-width="0.9" stroke-linecap="round"/>
<path d="M92.0 259.7h0M83.5 269.1h0M100.7 259.6h0M93.7 259.1h0M94.8 264.5h0M90.4 267.9h0M82.9 266.9h0M95.0 259.1h0M95.2 266.1h0M85.2 266.8h0M98.0 263.3h0M84.4 267.7h0M83.5 263.9h0M92.2 261.5h0M90.4 268.6h0" stroke="#8aa844" stroke-opacity="0.8" stroke-width="1.2" stroke-linecap="round"/>
<path d="M84.8 259.9h0M79.5 266.0h0M82.6 269.2h0M98.9 263.5h0M82.1 269.7h0M93.3 258.4h0M100.2 261.2h0M87.7 269.3h0M91.5 270.0h0M90.8 260.0h0M82.3 264.0h0M85.9 270.6h0M81.8 263.4h0M94.2 258.8h0M80.9 268.9h0M97.8 266.0h0M86.4 272.6h0M85.7 271.6h0M100.2 260.1h0M81.3 267.3h0M98.7 261.6h0M95.0 257.6h0M81.6 270.4h0M81.0 267.3h0M82.2 268.8h0M86.4 259.6h0M96.2 263.5h0M88.4 261.7h0M79.0 263.5h0M96.2 266.1h0M101.5 262.9h0M79.9 265.2h0" stroke="#3a3a3a" stroke-opacity="0.35" stroke-width="0.8" stroke-linecap="round"/>
<path d="M102.6 260.2h0M93.2 270.4h0M99.9 256.5h0M84.9 263.0h0M94.9 258.8h0M101.5 257.9h0M97.7 257.9h0M83.8 263.8h0M100.3 263.0h0M100.6 258.0h0M94.9 266.8h0M96.7 257.5h0M96.1 266.6h0M101.6 260.4h0M103.0 258.1h0M83.7 262.6h0M93.2 260.2h0M80.6 269.5h0M93.4 269.1h0M95.7 259.2h0M97.8 261.0h0M98.4 264.8h0M99.3 256.4h0M88.5 272.9h0M85.2 272.2h0M90.2 270.6h0M92.9 272.1h0M94.0 257.1h0M98.5 265.1h0M94.4 269.5h0M93.6 256.9h0M102.0 258.9h0M98.7 261.7h0" stroke="#3a3a3a" stroke-opacity="0.65" stroke-width="0.8" stroke-linecap="round"/>
<path d="M 93.1 271.7 L 94.0 271.8 L 95.5 271.0 L 97.1 270.8 L 98.1 269.9 L 99.1 270.0 L 100.2 270.7 L 100.9 271.5 L 101.6 272.2 L 102.3 273.0 L 103.0 274.2 L 103.4 275.2 L 103.8 276.8 L 104.3 279.0 L 104.6 280.3 L 104.0 282.5 L 104.7 283.5 L 105.7 284.1 L 106.2 285.9 L 106.9 287.2 L 106.7 288.4 L 108.1 288.9 L 108.7 290.1 L 110.0 290.5 L 110.6 291.8 L 110.7 292.6 L 111.5 294.4 L 111.8 295.6 L 112.3 297.2 L 113.3 298.1 L 113.5 298.8 L 112.6 300.3 L 112.3 300.6 L 112.0 301.3 L 110.8 302.2 L 110.0 302.3 L 109.1 302.6 L 107.3 302.9 L 105.6 303.2 L 104.8 302.7 L 103.0 302.5 L 101.0 303.0 L 99.9 303.3 L 98.0 303.5 L 96.1 303.1 L 94.5 302.2 L 94.0 301.4 L 93.0 300.9 L 91.9 298.8 L 91.5 297.6 L 91.0 295.5 L 90.2 294.8 L 90.1 292.8 L 90.6 290.9 L 89.9 288.3 L 90.3 287.5 L 89.9 285.4 L 89.7 283.4 L 90.5 281.7 L 90.4 281.0 L 90.9 279.1 L 90.3 277.1 L 91.6 275.4 L 91.6 274.2 L 92.2 273.5 Z" fill="#a45fb4" fill-opacity="1.0"/>
<path d="M 93.1 271.7 L 94.0 271.8 L 95.5 271.0 L 97.1 270.8 L 98.1 269.9 L 99.1 270.0 L 100.2 270.7 L 100.9 271.5 L 101.6 272.2 L 102.3 273.0 L 103.0 274.2 L 103.4 275.2 L 103.8 276.8 L 104.3 279.0 L 104.6 280.3 L 104.0 282.5 L 104.7 283.5 L 105.7 284.1 L 106.2 285.9 L 106.9 287.2 L 106.7 288.4 L 108.1 288.9 L 108.7 290.1 L 110.0 290.5 L 110.6 291.8 L 110.7 292.6 L 111.5 294.4 L 111.8 295.6 L 112.3 297.2 L 113.3 298.1 L 113.5 298.8 L 112.6 300.3 L 112.3 300.6 L 112.0 301.3 L 110.8 302.2 L 110.0 302.3 L 109.1 302.6 L 107.3 302.9 L 105.6 303.2 L 104.8 302.7 L 103.0 302.5 L 101.0 303.0 L 99.9 303.3 L 98.0 303.5 L 96.1 303.1 L 94.5 302.2 L 94.0 301.4 L 93.0 300.9 L 91.9 298.8 L 91.5 297.6 L 91.0 295.5 L 90.2 294.8 L 90.1 292.8 L 90.6 290.9 L 89.9 288.3 L 90.3 287.5 L 89.9 285.4 L 89.7 283.4 L 90.5 281.7 L 90.4 281.0 L 90.9 279.1 L 90.3 277.1 L 91.6 275.4 L 91.6 274.2 L 92.2 273.5 Z" fill="url(#tx1)"/>
<path d="M97.1 301.2h0M97.4 284.7h0M96.0 283.3h0M94.7 300.0h0M98.3 300.3h0M96.6 291.0h0M98.1 301.0h0M95.6 272.8h0M107.3 292.5h0M97.8 272.6h0M105.4 295.0h0M96.3 277.4h0M93.2 279.4h0M95.0 296.3h0M109.3 296.8h0M90.7 286.9h0M103.5 283.5h0M101.0 274.8h0M105.7 293.5h0M97.9 276.7h0M101.9 284.8h0M106.6 293.9h0M96.1 282.0h0M104.5 302.7h0M100.5 273.8h0M93.5 295.8h0M92.5 288.8h0M94.8 278.7h0M108.7 297.8h0M103.5 282.8h0M109.1 296.0h0M101.1 291.3h0M95.6 299.9h0M92.4 289.7h0M104.6 293.5h0M91.6 294.0h0M104.9 293.0h0M95.5 300.7h0M94.3 296.7h0M110.5 300.3h0M102.5 280.0h0M92.8 291.6h0M102.6 282.0h0M92.3 282.4h0M102.0 285.3h0M109.3 293.8h0M105.7 298.1h0M96.9 281.8h0M95.7 283.9h0M110.5 296.3h0M92.4 297.3h0M104.4 282.4h0M102.2 291.6h0M106.5 302.7h0M107.2 295.0h0M103.8 293.1h0M90.3 282.2h0M92.3 280.4h0M94.4 299.9h0M94.2 275.2h0M105.0 289.0h0M98.4 287.5h0M95.7 296.4h0M98.8 295.4h0M94.5 277.6h0M98.4 291.3h0M105.3 297.7h0M90.7 284.7h0M100.6 293.6h0M92.7 286.1h0M95.3 284.8h0M91.6 282.2h0M94.9 273.2h0M100.4 280.8h0M101.1 276.3h0M105.0 287.2h0M100.8 294.6h0M91.9 277.6h0M100.1 275.1h0M99.2 292.6h0M95.0 297.6h0M95.2 301.7h0M90.5 282.7h0M93.2 278.3h0M96.2 301.1h0M105.0 287.2h0M95.9 278.2h0M102.0 292.5h0M107.0 290.8h0M105.5 296.5h0M105.3 295.4h0M95.1 277.5h0M99.3 284.2h0M98.2 293.4h0M94.0 286.2h0M106.2 301.9h0M102.3 294.1h0M94.0 293.1h0M97.7 287.5h0M99.6 286.1h0M108.2 294.2h0M93.5 293.0h0M108.3 296.6h0M108.5 296.2h0M92.5 291.1h0M95.9 284.3h0M104.1 299.8h0M97.2 292.0h0M97.3 293.9h0M91.1 287.2h0M111.4 299.0h0M94.5 274.4h0M102.2 295.7h0M91.6 283.1h0M95.8 292.2h0M100.5 291.2h0M100.7 290.6h0M100.1 273.3h0M93.1 274.0h0" stroke="#2a2a2a" stroke-opacity="0.22" stroke-width="0.7" stroke-linecap="round"/>
<path d="M109.3 291.2h0M97.2 275.4h0M100.8 288.7h0M97.1 291.5h0M104.6 293.0h0M99.1 301.1h0M97.9 283.3h0M98.0 276.5h0M102.2 287.4h0M101.5 298.2h0M103.3 283.6h0M96.3 298.0h0M110.7 299.7h0M108.9 291.6h0M93.0 293.4h0M91.5 290.1h0M92.2 292.5h0M100.3 288.5h0M92.5 277.8h0M97.8 281.3h0M91.5 291.0h0M103.5 277.9h0M96.5 276.8h0M96.1 288.7h0M109.9 294.0h0M98.2 299.7h0M110.9 293.6h0M97.4 290.8h0M94.6 285.3h0M100.8 283.5h0M95.3 283.2h0M108.9 291.1h0M105.5 300.7h0M101.8 273.9h0M104.3 289.8h0M99.9 274.1h0M106.8 298.1h0M103.9 302.3h0M92.6 293.0h0M104.1 291.6h0M106.9 296.4h0M92.2 284.9h0M105.0 300.8h0M95.3 299.3h0M97.6 295.5h0M94.9 279.8h0M100.1 292.8h0M95.9 271.4h0M94.8 278.9h0M104.8 289.7h0M92.6 286.5h0M109.7 296.6h0M105.2 289.6h0M91.6 277.7h0M102.9 298.8h0M95.5 276.0h0M95.4 286.7h0M108.5 301.2h0M95.2 289.9h0M107.2 289.5h0M101.0 287.1h0M101.3 302.7h0M99.4 281.7h0M100.4 288.8h0M93.2 287.5h0M95.4 275.9h0M100.4 283.8h0M105.2 298.5h0M96.7 279.9h0M102.2 298.1h0M95.6 291.9h0M108.4 299.7h0M94.4 273.0h0M103.1 276.4h0M100.9 292.5h0M95.4 284.5h0M94.8 283.8h0M103.4 301.1h0M98.5 301.8h0M109.2 291.4h0M95.9 297.2h0M109.5 298.9h0M95.3 279.1h0M93.7 273.5h0M101.3 276.6h0M103.5 276.7h0M92.1 292.1h0M93.2 276.8h0M96.7 291.3h0M93.6 277.9h0M109.0 293.8h0M102.0 282.3h0M97.3 286.0h0M100.3 300.6h0M91.6 294.9h0M91.2 279.9h0M93.8 287.8h0M93.9 276.1h0" stroke="#fff" stroke-opacity="0.3" stroke-width="0.9" stroke-linecap="round"/>
<path d="M104.8 296.2h0M92.5 288.8h0M94.1 272.6h0M99.1 274.9h0M95.3 277.0h0M102.5 300.6h0M96.8 281.2h0M98.9 285.4h0M101.4 298.1h0M95.0 285.3h0M97.7 298.5h0M102.7 294.8h0M99.4 272.1h0M94.3 288.0h0M102.0 273.3h0M98.8 292.1h0M96.9 283.3h0M110.4 292.6h0M97.1 278.6h0M98.7 284.7h0M102.4 280.4h0M93.0 277.2h0M105.0 300.8h0M105.1 293.6h0M97.9 285.3h0M106.3 292.1h0M95.1 284.8h0M94.6 277.3h0M99.3 294.2h0M94.7 277.1h0M94.1 298.4h0M92.9 275.0h0M110.2 297.0h0M106.6 294.5h0M93.8 277.7h0M106.6 294.8h0M93.7 295.8h0M106.5 287.3h0M100.7 277.1h0M95.1 297.6h0M99.8 298.7h0M93.7 285.0h0M107.4 298.9h0M108.3 293.5h0M95.9 288.3h0M94.9 301.2h0M93.6 280.0h0M105.1 293.1h0M94.6 275.3h0M94.2 281.3h0" stroke="#7d3d92" stroke-opacity="0.8" stroke-width="1.2" stroke-linecap="round"/>
<path d="M103.7 282.0h0M93.1 273.0h0M103.7 276.1h0M104.6 276.7h0M99.2 304.1h0M106.2 301.8h0M105.9 287.8h0M89.8 292.5h0M105.9 289.4h0M90.1 277.8h0M91.4 275.4h0M98.3 270.0h0M105.9 282.7h0M105.3 278.7h0M108.5 289.5h0M104.1 282.1h0M111.3 299.4h0M98.2 303.5h0M89.9 280.7h0M91.6 293.2h0M107.3 285.7h0M99.8 303.0h0M90.8 274.1h0M110.9 292.4h0M94.7 302.3h0M105.6 285.5h0M106.6 289.5h0M106.0 280.9h0M113.8 299.7h0M99.0 271.7h0M103.6 276.5h0M89.9 288.2h0M89.8 279.7h0M101.9 275.5h0M111.5 304.0h0M104.3 283.8h0M110.5 302.7h0M90.7 296.3h0M106.6 288.5h0M112.2 299.3h0M112.1 300.3h0M93.5 302.7h0M101.8 270.9h0M103.1 282.2h0M99.0 269.6h0M106.9 287.8h0M109.6 301.8h0M103.4 272.9h0M93.7 300.7h0M100.4 269.9h0M101.7 272.8h0M107.2 302.9h0" stroke="#3a3a3a" stroke-opacity="0.35" stroke-width="0.8" stroke-linecap="round"/>
<path d="M91.4 296.0h0M102.1 273.8h0M108.9 292.8h0M112.7 297.8h0M106.7 286.9h0M99.8 302.7h0M91.4 282.3h0M99.2 270.2h0M95.7 302.9h0M102.6 276.7h0M104.6 278.7h0M100.5 303.2h0M110.4 293.8h0M92.2 273.9h0M111.2 293.8h0M96.0 271.4h0M102.6 273.6h0M101.1 271.2h0M109.0 289.3h0M103.9 302.1h0M106.0 284.6h0M111.7 295.0h0M93.4 270.7h0M101.6 270.9h0M94.1 301.0h0M90.9 272.9h0M106.9 302.3h0M105.6 302.0h0M112.3 298.9h0M114.3 298.0h0M98.4 302.7h0M97.0 301.8h0M89.8 274.1h0M91.2 282.6h0M98.0 270.3h0M89.2 291.5h0M92.2 298.3h0M108.4 290.7h0M92.5 272.3h0M109.2 290.5h0M92.9 299.9h0M97.7 304.1h0M93.4 298.2h0M93.9 301.3h0M106.7 285.7h0M95.0 271.2h0M99.7 270.0h0M94.9 272.0h0M89.5 298.9h0M107.3 287.5h0M106.2 285.7h0M107.3 287.1h0M94.6 301.3h0" stroke="#3a3a3a" stroke-opacity="0.65" stroke-width="0.8" stroke-linecap="round"/>
<path d="M 104.9 289.8 L 105.1 289.3 L 106.8 289.2 L 106.9 290.2 L 108.6 290.9 L 109.0 291.5 L 110.0 291.5 L 110.7 292.9 L 111.9 293.4 L 112.1 295.4 L 112.6 296.3 L 113.2 296.8 L 113.5 298.2 L 114.4 298.9 L 114.2 300.1 L 113.1 301.3 L 112.6 301.2 L 111.5 302.3 L 110.7 302.3 L 108.5 302.5 L 108.1 302.4 L 107.7 301.2 L 106.9 300.9 L 105.6 299.3 L 105.2 298.1 L 104.9 296.6 L 104.4 296.1 L 104.5 294.1 L 105.0 292.6 L 104.4 291.4 Z" fill="#c48aa8" fill-opacity="1.0"/>
<path d="M 104.9 289.8 L 105.1 289.3 L 106.8 289.2 L 106.9 290.2 L 108.6 290.9 L 109.0 291.5 L 110.0 291.5 L 110.7 292.9 L 111.9 293.4 L 112.1 295.4 L 112.6 296.3 L 113.2 296.8 L 113.5 298.2 L 114.4 298.9 L 114.2 300.1 L 113.1 301.3 L 112.6 301.2 L 111.5 302.3 L 110.7 302.3 L 108.5 302.5 L 108.1 302.4 L 107.7 301.2 L 106.9 300.9 L 105.6 299.3 L 105.2 298.1 L 104.9 296.6 L 104.4 296.1 L 104.5 294.1 L 105.0 292.6 L 104.4 291.4 Z" fill="url(#tx1)"/>
<path d="M107.2 296.2h0M110.1 300.8h0M111.1 298.5h0M112.1 301.1h0M107.9 299.2h0M106.7 291.9h0M110.3 293.6h0M106.9 291.0h0M107.7 296.1h0M109.1 301.3h0M106.7 297.1h0M108.0 295.1h0M110.9 294.7h0M112.3 296.9h0M112.2 298.7h0M110.4 301.0h0M107.9 301.3h0M108.4 292.2h0M112.6 299.6h0M107.7 295.8h0M108.1 300.7h0M109.1 294.0h0M110.2 299.4h0M108.1 294.7h0M112.8 296.5h0M107.8 299.9h0M106.2 292.7h0" stroke="#2a2a2a" stroke-opacity="0.22" stroke-width="0.7" stroke-linecap="round"/>
<path d="M110.0 298.6h0M105.7 290.8h0M108.9 297.7h0M109.1 295.3h0M106.4 290.9h0M108.7 293.6h0M110.6 298.8h0M106.2 294.4h0M111.7 297.1h0M109.5 301.2h0M106.6 290.7h0M107.2 298.8h0" stroke="#fff" stroke-opacity="0.3" stroke-width="0.9" stroke-linecap="round"/>
<path d="M111.2 299.1h0M110.6 294.6h0M109.6 294.0h0M112.2 300.2h0M113.0 298.9h0M110.8 297.8h0M109.7 295.5h0M107.9 299.4h0" stroke="#9a5a80" stroke-opacity="0.8" stroke-width="1.2" stroke-linecap="round"/>
<path d="M105.2 299.9h0M105.2 292.0h0M105.4 290.3h0M113.0 299.3h0M113.2 296.0h0M107.1 301.7h0M105.9 288.9h0M105.8 291.0h0M113.4 299.5h0M107.3 291.3h0M104.8 295.0h0M104.8 299.6h0M112.3 297.1h0M103.9 298.1h0M103.0 295.5h0M105.1 290.8h0M113.6 301.4h0M107.9 291.4h0M114.5 299.2h0M109.8 293.5h0M104.1 297.8h0" stroke="#3a3a3a" stroke-opacity="0.35" stroke-width="0.8" stroke-linecap="round"/>
<path d="M104.9 294.9h0M108.3 291.5h0M106.0 288.5h0M113.1 299.1h0M104.3 292.2h0M103.3 295.7h0M113.5 301.6h0M110.3 292.6h0M106.3 289.2h0M109.1 303.3h0M104.9 296.2h0M109.3 294.5h0M107.7 301.3h0M106.6 299.1h0M107.9 290.3h0M110.3 291.6h0M113.5 296.9h0M104.7 291.2h0M111.6 302.8h0M108.0 301.4h0M115.7 300.6h0" stroke="#3a3a3a" stroke-opacity="0.65" stroke-width="0.8" stroke-linecap="round"/>
<path d="M 75.5 313.0 L 77.1 312.0 L 80.6 310.6 L 84.5 310.8 L 87.5 309.7 L 90.6 310.1 L 92.1 310.0 L 92.8 308.6 L 94.0 308.3 L 95.5 309.1 L 95.6 309.1 L 96.2 310.7 L 97.1 312.7 L 97.0 314.6 L 97.4 315.9 L 97.7 317.7 L 99.3 320.5 L 100.0 321.7 L 100.5 323.8 L 101.8 326.5 L 102.5 328.0 L 104.2 328.9 L 105.1 331.0 L 106.3 331.7 L 107.6 332.9 L 107.8 333.9 L 109.4 335.8 L 110.3 337.1 L 110.2 338.3 L 110.7 340.1 L 109.9 341.1 L 109.3 341.1 L 106.4 341.3 L 104.2 340.8 L 101.7 340.3 L 98.9 340.1 L 97.0 339.7 L 93.9 338.5 L 90.9 338.0 L 88.9 337.9 L 86.5 337.1 L 84.7 335.9 L 82.1 334.7 L 80.4 333.2 L 78.8 332.0 L 78.0 329.8 L 77.5 327.8 L 76.9 326.7 L 75.6 324.7 L 75.7 322.9 L 75.5 320.5 L 75.5 318.4 L 74.8 316.6 L 74.0 314.9 L 74.8 313.7 Z" fill="#e9badb" fill-opacity="1.0"/>
<path d="M 75.5 313.0 L 77.1 312.0 L 80.6 310.6 L 84.5 310.8 L 87.5 309.7 L 90.6 310.1 L 92.1 310.0 L 92.8 308.6 L 94.0 308.3 L 95.5 309.1 L 95.6 309.1 L 96.2 310.7 L 97.1 312.7 L 97.0 314.6 L 97.4 315.9 L 97.7 317.7 L 99.3 320.5 L 100.0 321.7 L 100.5 323.8 L 101.8 326.5 L 102.5 328.0 L 104.2 328.9 L 105.1 331.0 L 106.3 331.7 L 107.6 332.9 L 107.8 333.9 L 109.4 335.8 L 110.3 337.1 L 110.2 338.3 L 110.7 340.1 L 109.9 341.1 L 109.3 341.1 L 106.4 341.3 L 104.2 340.8 L 101.7 340.3 L 98.9 340.1 L 97.0 339.7 L 93.9 338.5 L 90.9 338.0 L 88.9 337.9 L 86.5 337.1 L 84.7 335.9 L 82.1 334.7 L 80.4 333.2 L 78.8 332.0 L 78.0 329.8 L 77.5 327.8 L 76.9 326.7 L 75.6 324.7 L 75.7 322.9 L 75.5 320.5 L 75.5 318.4 L 74.8 316.6 L 74.0 314.9 L 74.8 313.7 Z" fill="url(#tx1)"/>
<path d="M88.0 322.1h0M98.6 330.3h0M91.4 335.5h0M99.3 330.6h0M91.9 315.7h0M98.0 331.2h0M96.9 314.9h0M86.4 326.7h0M92.3 328.8h0M86.2 330.7h0M95.2 333.1h0M104.2 329.9h0M94.0 336.5h0M76.3 320.0h0M77.9 329.0h0M81.0 318.7h0M80.4 331.4h0M84.1 331.3h0M88.3 325.5h0M101.5 336.9h0M98.4 322.2h0M82.3 332.1h0M85.1 329.4h0M88.6 327.6h0M96.5 329.1h0M99.0 339.3h0M78.9 322.4h0M89.0 314.2h0M95.6 315.4h0M94.2 323.3h0M95.3 326.3h0M95.4 329.8h0M94.7 332.4h0M104.8 336.7h0M84.1 312.1h0M78.4 324.8h0M85.9 323.9h0M103.0 332.1h0M93.3 323.3h0M102.3 335.5h0M91.5 327.5h0M94.9 336.6h0M97.5 335.9h0M76.2 323.3h0M96.3 320.0h0M94.5 334.8h0M81.7 321.9h0M89.9 313.3h0M88.8 323.1h0M98.0 335.6h0M91.1 336.9h0M90.8 333.4h0M80.7 325.8h0M108.2 337.6h0M95.0 322.5h0M76.1 321.3h0M92.0 310.0h0M83.2 312.1h0M82.2 325.7h0M85.1 325.1h0M92.8 316.7h0M78.8 330.2h0M89.1 322.8h0M89.5 327.3h0M104.6 337.0h0M82.8 320.0h0M80.8 331.9h0M84.8 321.9h0M90.6 321.4h0M83.4 317.4h0M95.8 325.3h0M94.6 334.9h0M94.3 317.8h0M88.4 312.7h0M99.3 337.4h0M80.2 324.9h0M81.5 311.9h0M95.9 316.9h0M95.9 327.7h0M77.7 326.5h0M92.6 322.2h0M84.1 327.6h0M92.1 329.4h0M100.1 339.1h0M93.9 328.5h0M102.7 339.3h0M93.5 321.6h0M76.1 318.0h0M94.6 338.5h0M86.9 314.4h0M108.3 334.9h0M85.0 317.4h0M99.8 330.6h0M102.6 333.5h0M91.7 335.0h0M78.6 330.4h0M89.7 323.6h0M100.4 334.1h0M88.9 318.7h0M97.7 324.5h0M107.7 338.9h0M95.2 336.5h0M84.5 312.7h0M86.2 325.6h0M107.1 338.5h0M105.1 335.1h0M88.2 312.9h0M93.6 327.8h0M87.7 322.6h0M94.4 322.8h0M86.4 324.9h0M82.6 311.2h0M83.7 333.9h0M94.2 326.2h0M97.3 318.2h0M83.6 315.3h0M78.9 320.0h0M83.5 331.5h0M94.7 333.2h0M83.0 324.3h0M82.3 319.2h0M80.6 312.5h0M87.0 319.5h0M90.5 337.6h0M84.9 316.1h0M88.3 313.2h0M84.2 327.6h0M92.0 319.8h0M94.1 335.6h0M92.8 330.3h0M82.0 331.8h0M85.0 313.2h0M88.9 334.6h0M94.5 310.3h0M108.5 339.4h0M98.7 327.7h0M104.8 332.4h0M99.7 324.9h0M90.1 317.8h0M86.9 319.3h0M100.9 333.2h0M79.5 316.1h0M98.4 327.9h0M101.9 327.4h0M90.3 322.7h0M95.0 320.8h0M91.1 328.0h0M106.0 338.9h0M91.7 319.6h0M106.6 335.7h0M91.8 321.6h0M100.4 323.9h0M78.9 327.9h0M81.8 332.0h0M108.5 339.3h0M96.6 313.0h0M97.2 329.5h0M84.3 327.8h0M81.2 315.5h0M82.9 319.9h0M99.3 321.4h0M88.0 331.4h0M93.8 316.0h0M87.2 330.8h0M90.6 311.7h0M94.7 319.7h0M85.6 318.3h0M81.2 317.6h0" stroke="#2a2a2a" stroke-opacity="0.22" stroke-width="0.7" stroke-linecap="round"/>
<path d="M89.6 316.8h0M97.0 333.9h0M83.2 323.4h0M108.1 339.9h0M93.6 310.0h0M90.8 335.5h0M107.6 337.8h0M107.8 334.9h0M83.4 312.4h0M94.7 328.7h0M85.2 332.8h0M83.2 316.3h0M82.7 320.4h0M91.9 325.4h0M105.6 334.1h0M80.6 316.4h0M92.2 311.5h0M86.9 312.9h0M86.3 311.8h0M81.6 322.2h0M89.7 330.2h0M88.3 337.1h0M80.0 318.9h0M97.9 330.1h0M86.0 327.8h0M79.2 318.9h0M84.2 317.0h0M89.7 328.2h0M99.7 327.9h0M90.7 318.3h0M85.9 318.1h0M93.2 325.3h0M88.5 322.4h0M98.1 334.8h0M81.5 317.6h0M82.2 324.0h0M92.0 329.8h0M76.9 315.5h0M99.8 332.7h0M101.4 331.9h0M86.3 321.0h0M104.9 335.9h0M81.4 314.4h0M100.3 334.8h0M82.1 331.7h0M102.7 329.2h0M107.7 334.9h0M100.1 338.6h0M98.6 338.8h0M91.0 324.0h0M86.5 312.9h0M91.0 334.3h0M89.9 336.1h0M92.6 321.9h0M93.1 319.6h0M90.2 335.7h0M88.8 317.7h0M101.0 334.6h0M79.5 328.3h0M107.6 335.4h0M85.8 333.3h0M87.0 326.5h0M95.2 338.1h0M91.5 326.8h0M88.7 316.6h0M94.9 333.7h0M86.0 331.4h0M93.2 314.0h0M102.2 333.7h0M86.9 335.6h0M86.4 330.9h0M78.8 318.3h0M79.1 320.4h0M81.1 311.8h0M84.0 330.3h0M87.3 317.1h0M86.8 318.3h0M92.2 321.5h0M79.7 329.4h0M91.0 324.2h0M89.8 315.7h0M88.5 322.5h0M106.6 339.1h0M87.5 334.0h0M99.5 321.4h0M77.7 326.8h0M92.4 310.6h0M98.3 321.8h0M98.9 326.2h0M91.0 336.7h0M102.0 327.4h0M94.5 321.7h0M86.4 316.0h0M84.5 330.3h0M97.7 323.4h0M94.1 328.2h0M78.8 320.4h0M95.6 314.9h0M93.4 318.0h0M101.6 331.3h0M86.1 326.0h0M107.5 334.3h0M97.3 322.8h0M93.9 315.0h0M78.8 329.0h0M79.8 316.3h0M87.2 322.0h0M102.5 333.0h0M99.4 322.4h0M99.1 322.8h0M100.0 332.3h0M90.7 328.1h0M76.8 313.8h0M80.5 325.5h0M91.5 329.8h0M90.0 310.6h0M92.4 337.0h0M94.8 328.1h0M81.3 320.3h0M100.7 332.8h0M95.1 338.3h0M90.3 321.1h0M84.3 331.4h0M103.3 336.5h0M79.4 328.1h0M98.7 324.3h0M83.4 320.2h0M86.8 323.3h0M76.6 313.4h0M81.4 319.1h0M84.6 323.2h0M92.0 321.9h0M103.1 334.2h0" stroke="#fff" stroke-opacity="0.3" stroke-width="0.9" stroke-linecap="round"/>
<path d="M101.0 329.8h0M78.8 325.0h0M90.3 327.4h0M103.7 333.2h0M91.4 336.5h0M91.9 313.2h0M97.7 321.3h0M76.6 324.5h0M91.7 324.2h0M100.6 332.3h0M81.9 313.8h0M81.9 325.2h0M87.2 314.6h0M97.5 326.2h0M103.6 330.8h0M91.6 335.3h0M109.1 338.4h0M81.0 330.9h0M94.8 322.2h0M81.3 313.8h0M91.9 324.9h0M84.8 321.0h0M94.8 333.3h0M96.0 314.6h0M109.0 340.2h0M80.3 327.7h0M94.6 319.3h0M76.4 315.9h0M79.7 318.4h0M97.4 327.1h0M97.6 326.5h0M88.0 328.4h0M94.8 315.9h0M93.2 313.2h0M104.7 330.4h0M99.3 338.5h0M77.1 322.9h0M95.3 309.8h0M96.0 335.3h0M75.9 315.8h0M93.4 319.6h0M84.9 314.1h0M88.1 330.2h0M108.8 340.6h0M100.8 326.8h0M84.3 313.9h0M80.9 314.2h0M96.0 334.6h0M81.0 325.2h0M95.5 327.0h0" stroke="#c98fb8" stroke-opacity="0.8" stroke-width="1.2" stroke-linecap="round"/>
<path d="M78.4 328.2h0M73.8 317.8h0M104.0 329.0h0M106.4 341.6h0M75.6 323.2h0M85.3 309.5h0M109.4 338.9h0M94.3 338.7h0M74.6 316.3h0M104.2 339.3h0M95.8 315.1h0M79.0 332.9h0M101.3 323.8h0M79.5 311.4h0M81.8 310.1h0M109.3 341.5h0M89.0 309.0h0M111.2 338.1h0M78.9 328.2h0M98.9 318.1h0M73.0 315.9h0M96.6 310.7h0M95.1 308.5h0M82.2 335.2h0M93.1 340.3h0M111.4 338.0h0M104.6 342.2h0M95.1 338.5h0M108.3 336.4h0M75.1 322.2h0M105.3 341.0h0M74.8 317.4h0M104.8 330.0h0M98.2 312.3h0M86.4 337.2h0M79.5 311.1h0M75.6 321.3h0M95.4 310.8h0M95.4 307.3h0M96.0 309.0h0M80.9 332.5h0M110.8 338.6h0M99.2 322.1h0M107.1 334.4h0M101.8 329.2h0M93.3 337.4h0M75.4 313.3h0M93.6 308.8h0M111.2 340.6h0M75.8 312.7h0M97.4 318.3h0M75.1 319.3h0M84.0 310.0h0M71.8 315.3h0M99.4 319.0h0M79.2 332.0h0M108.6 335.8h0M78.5 330.7h0M102.1 342.1h0M98.2 339.8h0M75.0 315.7h0M80.9 332.5h0" stroke="#3a3a3a" stroke-opacity="0.35" stroke-width="0.8" stroke-linecap="round"/>
<path d="M107.9 336.2h0M97.8 317.7h0M73.1 315.0h0M82.4 334.7h0M96.5 311.4h0M86.0 336.6h0M97.5 317.2h0M75.9 329.6h0M74.7 312.2h0M106.6 341.4h0M105.8 341.7h0M90.7 311.1h0M96.2 313.3h0M99.6 321.0h0M110.6 337.3h0M87.4 337.7h0M108.4 340.7h0M110.1 341.4h0M79.9 334.4h0M76.9 319.1h0M77.5 328.4h0M100.5 322.5h0M76.9 328.1h0M93.5 309.2h0M105.7 331.4h0M73.5 319.8h0M73.4 314.6h0M93.2 309.1h0M81.1 334.7h0M79.9 310.4h0M105.6 331.6h0M99.3 324.6h0M80.6 334.1h0M90.7 308.6h0M109.5 336.0h0M99.7 340.4h0M82.6 334.1h0M91.8 308.5h0M100.2 321.6h0M110.0 338.8h0M95.4 309.4h0M75.0 314.0h0M105.8 331.7h0M93.6 337.8h0M75.4 312.5h0M88.8 337.3h0M101.7 324.7h0M94.1 336.7h0M84.9 335.5h0M103.8 326.4h0M107.9 335.7h0M88.1 337.4h0M75.4 330.1h0M89.8 336.9h0M95.7 308.7h0M89.9 311.8h0M90.6 310.2h0M78.3 332.7h0M109.9 341.6h0M105.8 330.0h0M89.6 309.1h0M101.4 339.9h0" stroke="#3a3a3a" stroke-opacity="0.65" stroke-width="0.8" stroke-linecap="round"/>
<path d="M 95.9 309.2 L 99.0 309.0 L 102.0 307.8 L 107.0 307.9 L 111.2 307.8 L 114.6 308.3 L 117.7 308.7 L 119.5 309.4 L 122.7 311.1 L 124.7 311.8 L 126.3 312.2 L 128.0 313.9 L 129.9 314.3 L 131.8 314.6 L 133.0 316.5 L 133.0 316.8 L 132.6 318.9 L 130.6 320.1 L 128.7 321.9 L 125.5 323.9 L 123.8 326.0 L 122.1 327.9 L 120.8 329.3 L 118.2 331.3 L 116.7 332.3 L 115.4 334.1 L 114.8 335.2 L 113.1 337.8 L 112.4 338.7 L 111.5 340.7 L 110.3 340.4 L 109.9 340.1 L 108.9 338.7 L 108.9 336.9 L 108.5 335.6 L 108.1 333.9 L 107.5 332.4 L 106.0 332.2 L 105.5 331.1 L 104.3 329.5 L 103.3 328.1 L 101.5 326.0 L 100.4 324.6 L 99.6 322.0 L 98.9 319.5 L 98.2 318.3 L 97.4 316.5 L 95.8 313.7 L 95.5 312.5 L 94.9 310.5 Z" fill="#b6b0dc" fill-opacity="1.0"/>
<path d="M 95.9 309.2 L 99.0 309.0 L 102.0 307.8 L 107.0 307.9 L 111.2 307.8 L 114.6 308.3 L 117.7 308.7 L 119.5 309.4 L 122.7 311.1 L 124.7 311.8 L 126.3 312.2 L 128.0 313.9 L 129.9 314.3 L 131.8 314.6 L 133.0 316.5 L 133.0 316.8 L 132.6 318.9 L 130.6 320.1 L 128.7 321.9 L 125.5 323.9 L 123.8 326.0 L 122.1 327.9 L 120.8 329.3 L 118.2 331.3 L 116.7 332.3 L 115.4 334.1 L 114.8 335.2 L 113.1 337.8 L 112.4 338.7 L 111.5 340.7 L 110.3 340.4 L 109.9 340.1 L 108.9 338.7 L 108.9 336.9 L 108.5 335.6 L 108.1 333.9 L 107.5 332.4 L 106.0 332.2 L 105.5 331.1 L 104.3 329.5 L 103.3 328.1 L 101.5 326.0 L 100.4 324.6 L 99.6 322.0 L 98.9 319.5 L 98.2 318.3 L 97.4 316.5 L 95.8 313.7 L 95.5 312.5 L 94.9 310.5 Z" fill="url(#tx1)"/>
<path d="M124.2 311.9h0M107.2 315.1h0M110.9 337.8h0M113.5 332.3h0M125.3 321.8h0M114.7 329.6h0M127.1 318.1h0M113.8 317.4h0M99.2 320.3h0M125.1 318.9h0M129.8 315.8h0M117.8 325.3h0M107.5 322.0h0M110.0 324.8h0M115.3 316.0h0M114.9 330.8h0M122.0 315.0h0M118.5 315.8h0M106.6 311.9h0M125.4 319.6h0M107.8 323.5h0M102.2 318.6h0M110.1 314.4h0M124.8 324.1h0M99.9 316.1h0M108.2 311.3h0M116.7 310.0h0M105.1 324.3h0M99.5 319.4h0M102.8 314.8h0M114.9 309.7h0M106.8 332.1h0M110.9 323.9h0M105.7 325.7h0M99.5 312.2h0M110.4 334.8h0M108.3 312.9h0M121.3 320.5h0M117.9 328.6h0M105.8 318.1h0M104.6 311.4h0M125.3 312.3h0M111.7 309.1h0M116.4 320.1h0M102.0 321.1h0M115.4 309.1h0M108.9 330.4h0M111.4 330.3h0M117.6 320.1h0M127.7 315.5h0M117.7 320.7h0M105.5 318.2h0M107.5 325.9h0M107.1 320.2h0M124.4 324.0h0M100.0 311.6h0M112.0 334.4h0M117.8 310.9h0M120.7 318.0h0M110.3 316.8h0M114.2 316.3h0M117.3 317.1h0M115.0 323.0h0M98.7 313.2h0M103.6 311.7h0M116.2 312.4h0M109.6 326.1h0M103.7 318.8h0M109.8 338.5h0M109.2 314.6h0M114.0 332.5h0M114.0 325.9h0M109.6 310.7h0M115.8 311.3h0M114.7 312.0h0M130.3 315.4h0M114.3 329.0h0M104.3 327.4h0M111.7 318.1h0M100.4 310.9h0M129.0 316.2h0M103.2 320.6h0M106.0 318.6h0M117.7 330.1h0M103.5 317.6h0M110.0 325.1h0M97.8 315.5h0M116.2 320.1h0M121.8 326.3h0M110.5 335.4h0M116.9 322.6h0M117.9 323.5h0M113.0 321.1h0M117.4 323.6h0M116.7 316.2h0M98.3 312.3h0M115.8 309.0h0M105.0 328.0h0M123.4 312.1h0M109.9 328.2h0M118.4 320.2h0M103.5 313.2h0M114.6 308.9h0M124.8 315.4h0M125.4 317.8h0M126.1 312.7h0M103.9 318.6h0M100.8 322.8h0M101.9 315.5h0M122.9 319.3h0M109.4 317.7h0M131.7 317.0h0M106.0 311.2h0M114.2 313.7h0M112.6 314.0h0M100.9 317.0h0M105.5 309.5h0M108.1 313.9h0M114.5 313.6h0M107.0 322.6h0M98.3 317.7h0M111.3 312.6h0M123.0 321.9h0M126.0 322.7h0M115.1 328.0h0M109.3 333.4h0M121.5 322.9h0M116.1 309.4h0M107.9 317.8h0M118.3 324.4h0M118.8 312.1h0M113.6 312.4h0M122.2 327.4h0M107.0 324.2h0M126.5 314.1h0M116.6 317.1h0M126.0 323.3h0M123.8 321.8h0M113.3 316.4h0M116.0 324.7h0M111.5 321.1h0M109.4 337.5h0M104.4 318.8h0M105.3 321.6h0M99.3 313.4h0M122.2 312.2h0M123.2 313.6h0M105.5 323.8h0M104.4 325.1h0M122.3 324.6h0M106.5 331.9h0M117.4 319.0h0M115.4 314.7h0M116.6 309.4h0M105.4 309.3h0M126.8 312.7h0M106.4 321.3h0M120.3 319.1h0M110.8 325.4h0M104.1 314.5h0M113.8 326.3h0" stroke="#2a2a2a" stroke-opacity="0.22" stroke-width="0.7" stroke-linecap="round"/>
<path d="M121.1 327.1h0M121.9 313.7h0M112.3 332.3h0M119.1 323.3h0M122.9 313.1h0M113.5 336.5h0M104.4 311.0h0M109.7 336.0h0M127.8 316.6h0M105.5 313.5h0M115.0 323.8h0M108.6 316.1h0M109.2 328.7h0M98.9 314.2h0M102.7 310.1h0M112.8 310.4h0M113.3 320.8h0M111.8 310.2h0M129.0 318.2h0M128.0 318.3h0M114.2 324.2h0M97.2 310.2h0M110.7 318.9h0M110.2 311.8h0M124.9 314.7h0M125.0 322.7h0M118.7 319.1h0M113.4 312.7h0M100.2 313.6h0M120.4 318.0h0M109.8 326.4h0M122.0 319.5h0M105.1 330.5h0M107.6 320.4h0M114.4 314.6h0M115.3 312.7h0M113.3 332.0h0M122.6 319.1h0M115.2 331.2h0M109.0 319.7h0M109.0 328.3h0M124.1 316.1h0M113.3 331.1h0M116.3 332.4h0M102.2 322.5h0M97.6 310.9h0M98.1 313.5h0M116.1 312.8h0M111.3 334.0h0M109.8 324.7h0M119.2 327.4h0M106.9 322.5h0M119.2 315.5h0M100.8 309.7h0M99.4 320.6h0M103.0 314.4h0M125.1 322.8h0M103.7 328.2h0M105.0 321.9h0M113.5 336.2h0M99.4 313.1h0M130.2 319.0h0M126.0 322.9h0M111.4 311.3h0M124.5 325.0h0M105.8 310.9h0M101.7 323.9h0M103.2 317.0h0M98.4 316.1h0M115.2 326.5h0M124.4 324.9h0M110.9 309.2h0M103.3 321.2h0M115.3 325.9h0M106.3 311.0h0M102.7 325.2h0M101.6 318.1h0M112.2 325.6h0M99.2 316.4h0M108.8 332.5h0M106.8 320.4h0M127.5 315.5h0M103.8 327.8h0M124.7 317.9h0M115.5 312.0h0M121.9 323.8h0M112.4 320.2h0M114.4 331.5h0M104.6 311.1h0M119.1 329.3h0M105.3 310.9h0M123.0 315.4h0M120.8 311.3h0M112.9 313.8h0M100.8 322.0h0M123.7 323.3h0M114.5 315.2h0M125.8 315.5h0M104.1 311.7h0M107.3 313.2h0M117.7 327.8h0M107.3 321.4h0M107.1 310.3h0M116.3 325.5h0M101.3 319.8h0M102.8 320.8h0M98.3 312.2h0M105.0 325.2h0M122.4 318.2h0M105.1 316.0h0M131.9 318.5h0M119.2 316.1h0" stroke="#fff" stroke-opacity="0.3" stroke-width="0.9" stroke-linecap="round"/>
<path d="M113.2 334.7h0M108.7 318.9h0M115.1 332.6h0M128.9 319.9h0M121.9 321.5h0M116.7 320.2h0M125.9 318.4h0M99.2 314.8h0M116.7 325.9h0M111.3 326.5h0M99.8 313.0h0M125.1 313.4h0M115.8 333.4h0M101.8 325.5h0M110.8 324.0h0M107.3 332.1h0M114.2 334.3h0M109.6 337.0h0M121.5 323.1h0M122.6 324.3h0M108.6 331.6h0M126.7 320.5h0M97.7 312.5h0M108.0 316.9h0M112.7 311.0h0M116.8 322.9h0M107.5 328.0h0M100.6 319.7h0M100.7 322.1h0M104.3 309.3h0M106.2 310.3h0M115.7 318.2h0M121.1 326.6h0M118.3 318.2h0M122.6 323.7h0M113.3 317.7h0M119.0 314.5h0M114.2 314.2h0M109.0 327.8h0M108.3 318.4h0M105.5 309.3h0M131.3 317.0h0M116.9 320.1h0M131.2 316.7h0M109.7 327.3h0M120.3 311.6h0M122.0 319.8h0M101.4 311.0h0M113.1 334.2h0M115.9 317.4h0" stroke="#8f88c2" stroke-opacity="0.8" stroke-width="1.2" stroke-linecap="round"/>
<path d="M109.5 338.9h0M132.0 315.5h0M125.2 310.2h0M105.8 332.8h0M123.4 311.8h0M127.4 311.3h0M99.7 309.3h0M133.0 314.1h0M112.0 338.5h0M126.5 311.3h0M126.7 313.6h0M118.3 309.0h0M99.6 321.0h0M111.0 337.9h0M108.5 334.6h0M131.5 317.4h0M107.4 334.1h0M122.8 328.2h0M99.5 324.8h0M101.1 308.8h0M114.5 335.8h0M133.1 320.7h0M110.2 339.1h0M120.0 309.1h0M122.8 329.2h0M124.2 311.5h0M107.3 334.4h0M122.3 329.5h0M94.2 308.9h0M114.7 307.9h0M109.0 334.6h0M99.6 322.0h0M105.2 331.1h0M97.2 310.0h0M115.7 334.1h0M110.2 340.8h0M115.1 336.2h0M95.3 314.2h0M117.6 309.2h0M98.4 319.1h0M109.1 338.1h0M102.4 325.0h0M112.2 340.9h0M106.9 331.3h0M108.6 335.1h0M103.4 328.2h0M117.8 331.7h0M124.3 326.5h0M125.4 322.9h0M109.7 340.6h0M106.4 339.4h0M100.0 323.1h0M130.8 312.7h0M125.8 312.4h0M116.6 332.9h0M133.0 317.4h0M123.0 310.7h0M98.9 318.9h0M128.2 314.2h0M101.0 325.0h0" stroke="#3a3a3a" stroke-opacity="0.35" stroke-width="0.8" stroke-linecap="round"/>
<path d="M108.0 338.3h0M114.0 334.4h0M107.3 335.3h0M122.5 328.8h0M100.8 322.8h0M107.2 330.8h0M98.3 308.5h0M130.9 315.5h0M133.5 316.9h0M112.7 338.8h0M125.5 313.7h0M115.8 309.3h0M118.5 331.0h0M109.9 340.8h0M126.9 321.3h0M104.5 330.0h0M114.4 334.1h0M132.1 316.3h0M110.7 341.3h0M106.9 332.4h0M123.2 312.8h0M100.7 325.2h0M134.5 316.4h0M94.7 308.2h0M109.7 335.6h0M103.2 326.7h0M99.4 321.0h0M107.7 335.7h0M112.5 306.9h0M95.7 316.7h0M94.5 310.4h0M132.5 317.2h0M107.6 337.7h0M94.1 309.6h0M134.4 319.3h0M112.5 336.9h0M96.0 308.4h0M132.4 318.1h0M107.2 332.6h0M107.3 307.6h0M98.7 317.8h0M115.5 334.9h0M125.8 314.6h0M108.6 336.3h0M108.0 333.9h0M121.0 309.3h0M110.5 341.0h0M96.5 308.0h0M123.7 326.1h0M95.7 308.9h0M110.7 340.1h0M95.4 310.3h0M115.4 332.0h0M126.9 324.7h0M108.6 331.1h0M114.2 333.5h0M113.2 337.3h0M99.7 323.8h0M109.1 335.4h0M120.5 328.5h0M106.2 332.1h0" stroke="#3a3a3a" stroke-opacity="0.65" stroke-width="0.8" stroke-linecap="round"/>
<path d="M 91.7 304.4 L 93.1 303.8 L 94.3 302.4 L 96.6 302.4 L 98.6 302.5 L 100.5 302.2 L 102.0 302.1 L 103.9 302.5 L 105.2 302.7 L 106.4 303.3 L 107.8 304.0 L 109.3 304.3 L 110.1 305.7 L 110.2 306.7 L 110.1 308.6 L 110.2 309.0 L 109.2 310.5 L 107.0 310.7 L 104.3 310.8 L 101.8 310.6 L 99.7 310.3 L 98.5 310.6 L 96.6 310.2 L 94.8 310.5 L 93.3 310.4 L 92.0 309.7 L 91.7 309.3 L 90.5 307.5 L 90.5 306.2 L 91.4 305.4 Z" fill="#8c4a98" fill-opacity="1.0"/>
<path d="M 91.7 304.4 L 93.1 303.8 L 94.3 302.4 L 96.6 302.4 L 98.6 302.5 L 100.5 302.2 L 102.0 302.1 L 103.9 302.5 L 105.2 302.7 L 106.4 303.3 L 107.8 304.0 L 109.3 304.3 L 110.1 305.7 L 110.2 306.7 L 110.1 308.6 L 110.2 309.0 L 109.2 310.5 L 107.0 310.7 L 104.3 310.8 L 101.8 310.6 L 99.7 310.3 L 98.5 310.6 L 96.6 310.2 L 94.8 310.5 L 93.3 310.4 L 92.0 309.7 L 91.7 309.3 L 90.5 307.5 L 90.5 306.2 L 91.4 305.4 Z" fill="url(#tx1)"/>
<path d="M94.5 307.6h0M105.8 308.5h0M102.9 306.3h0M95.8 303.3h0M103.3 309.0h0M95.3 309.5h0M94.2 304.3h0M108.5 305.1h0M99.2 308.2h0M93.5 306.2h0M97.6 304.8h0M103.0 306.3h0M92.3 307.2h0M98.8 305.4h0M99.6 306.4h0M108.8 306.3h0M97.0 303.4h0M97.0 307.2h0M100.2 309.0h0M107.0 304.3h0M94.8 305.2h0M105.9 303.7h0M105.5 303.8h0M105.5 304.8h0M108.6 308.9h0M98.2 305.7h0M99.8 307.4h0M106.1 308.9h0M107.5 304.4h0" stroke="#2a2a2a" stroke-opacity="0.22" stroke-width="0.7" stroke-linecap="round"/>
<path d="M92.8 308.0h0M94.1 304.7h0M97.2 305.6h0M91.9 306.4h0M100.7 303.8h0M100.8 309.2h0M95.8 306.2h0M104.1 303.1h0M91.9 304.8h0M92.3 309.4h0M96.9 303.2h0M106.5 305.6h0M95.2 308.2h0M96.4 308.3h0M98.2 305.5h0M100.0 304.8h0M106.2 305.2h0M94.4 307.0h0M97.3 307.1h0M108.0 306.3h0M95.4 307.9h0M105.3 303.4h0M107.4 309.6h0M101.6 303.7h0M102.7 306.2h0M100.5 304.4h0M102.9 308.6h0" stroke="#fff" stroke-opacity="0.3" stroke-width="0.9" stroke-linecap="round"/>
<path d="M99.2 309.1h0M104.1 303.4h0M103.3 307.3h0M105.3 306.9h0M92.8 308.1h0M98.1 307.4h0M102.9 310.0h0M99.6 304.7h0M98.3 303.9h0M106.1 308.7h0M97.4 307.3h0M93.1 307.9h0" stroke="#6a2e78" stroke-opacity="0.8" stroke-width="1.2" stroke-linecap="round"/>
<path d="M90.6 305.5h0M102.4 303.0h0M99.0 302.7h0M110.7 309.1h0M101.7 303.0h0M92.6 305.0h0M98.2 302.1h0M100.9 301.5h0M105.5 302.5h0M97.8 309.8h0M99.9 303.2h0M96.6 303.1h0M93.7 309.5h0M108.2 302.2h0M103.4 302.1h0M94.1 301.6h0M111.0 308.5h0M97.8 302.3h0M91.1 304.6h0M91.7 305.1h0M90.7 304.4h0M98.9 310.0h0M97.7 300.6h0M106.6 301.9h0M109.4 311.8h0M97.4 309.3h0M98.4 310.5h0" stroke="#3a3a3a" stroke-opacity="0.35" stroke-width="0.8" stroke-linecap="round"/>
<path d="M108.9 304.8h0M93.0 310.0h0M110.1 305.5h0M96.2 309.8h0M110.3 309.3h0M109.6 310.0h0M92.7 304.7h0M92.4 303.2h0M92.7 309.3h0M91.3 305.1h0M95.6 310.8h0M110.0 308.7h0M89.7 307.2h0M110.0 308.0h0M106.6 302.0h0M93.9 311.2h0M92.9 308.2h0M104.4 301.6h0M93.1 302.6h0M90.0 307.6h0M100.7 303.3h0M102.1 310.4h0M104.6 301.4h0M96.9 302.8h0M96.7 309.3h0M106.7 303.7h0M96.5 309.4h0" stroke="#3a3a3a" stroke-opacity="0.65" stroke-width="0.8" stroke-linecap="round"/>
<path d="M 105.8 303.1 L 106.4 302.8 L 108.3 302.2 L 109.6 301.5 L 110.4 301.7 L 111.5 301.5 L 112.9 302.5 L 114.5 302.7 L 115.4 303.2 L 116.9 303.6 L 117.3 304.3 L 117.8 304.9 L 117.0 306.3 L 116.8 306.6 L 117.1 307.9 L 116.1 309.0 L 114.4 309.3 L 113.5 309.6 L 111.4 309.0 L 109.4 309.4 L 108.3 309.2 L 107.6 308.4 L 106.6 306.6 L 105.4 304.9 L 106.0 304.1 Z" fill="#c27a78" fill-opacity="1.0"/>
<path d="M 105.8 303.1 L 106.4 302.8 L 108.3 302.2 L 109.6 301.5 L 110.4 301.7 L 111.5 301.5 L 112.9 302.5 L 114.5 302.7 L 115.4 303.2 L 116.9 303.6 L 117.3 304.3 L 117.8 304.9 L 117.0 306.3 L 116.8 306.6 L 117.1 307.9 L 116.1 309.0 L 114.4 309.3 L 113.5 309.6 L 111.4 309.0 L 109.4 309.4 L 108.3 309.2 L 107.6 308.4 L 106.6 306.6 L 105.4 304.9 L 106.0 304.1 Z" fill="url(#tx1)"/>
<path d="M111.2 307.5h0M115.0 303.8h0M112.0 306.1h0M114.9 305.1h0M106.6 304.3h0M113.0 303.5h0M107.5 303.2h0M111.0 305.3h0M111.8 303.8h0M106.6 303.1h0M107.8 305.2h0M114.1 308.1h0M115.9 307.9h0M111.6 307.9h0M113.6 305.0h0M110.6 308.8h0" stroke="#2a2a2a" stroke-opacity="0.22" stroke-width="0.7" stroke-linecap="round"/>
<path d="M109.5 305.8h0M111.0 307.7h0M115.4 305.9h0M114.1 306.4h0M114.3 305.4h0M107.6 307.0h0M108.2 303.0h0M109.4 304.5h0M110.0 304.0h0" stroke="#fff" stroke-opacity="0.3" stroke-width="0.9" stroke-linecap="round"/>
<path d="M108.1 306.5h0M108.2 306.1h0M110.6 307.4h0M113.4 305.0h0M111.8 304.9h0M112.3 304.5h0M108.6 304.9h0M107.9 307.8h0" stroke="#a05050" stroke-opacity="0.8" stroke-width="1.2" stroke-linecap="round"/>
<path d="M109.8 301.8h0M109.3 302.2h0M118.5 305.2h0M115.6 305.9h0M119.2 305.1h0M107.0 306.7h0M107.0 303.9h0M118.1 308.9h0M114.3 309.4h0M107.3 303.4h0M108.2 300.7h0M113.7 301.6h0M119.0 303.8h0M112.7 301.3h0M113.0 301.2h0M106.0 305.9h0M116.1 310.2h0M113.7 302.7h0" stroke="#3a3a3a" stroke-opacity="0.35" stroke-width="0.8" stroke-linecap="round"/>
<path d="M110.5 302.1h0M112.9 302.8h0M108.0 309.1h0M106.9 308.3h0M110.9 301.0h0M107.4 307.1h0M117.9 304.7h0M116.0 304.2h0M117.8 302.8h0M118.2 305.2h0M112.5 302.0h0M108.6 300.6h0M113.4 302.8h0M114.6 303.8h0M116.8 309.5h0M114.1 309.3h0M103.5 304.9h0M108.5 302.4h0" stroke="#3a3a3a" stroke-opacity="0.65" stroke-width="0.8" stroke-linecap="round"/>
<path d="M 103.7 331.8 L 104.7 331.2 L 106.2 330.9 L 107.6 331.1 L 108.6 330.7 L 110.3 330.7 L 110.6 330.7 L 112.5 330.3 L 112.7 330.4 L 114.0 330.9 L 114.8 331.9 L 115.1 333.3 L 114.4 334.1 L 114.2 336.2 L 114.1 337.9 L 112.8 338.0 L 112.1 339.4 L 110.5 340.2 L 109.1 340.3 L 107.5 339.8 L 106.5 340.0 L 104.6 338.4 L 104.4 336.8 L 104.2 334.9 L 103.4 333.3 Z" fill="#a8b4a0" fill-opacity="1.0"/>
<path d="M 103.7 331.8 L 104.7 331.2 L 106.2 330.9 L 107.6 331.1 L 108.6 330.7 L 110.3 330.7 L 110.6 330.7 L 112.5 330.3 L 112.7 330.4 L 114.0 330.9 L 114.8 331.9 L 115.1 333.3 L 114.4 334.1 L 114.2 336.2 L 114.1 337.9 L 112.8 338.0 L 112.1 339.4 L 110.5 340.2 L 109.1 340.3 L 107.5 339.8 L 106.5 340.0 L 104.6 338.4 L 104.4 336.8 L 104.2 334.9 L 103.4 333.3 Z" fill="url(#tx1)"/>
<path d="M112.0 333.9h0M109.9 338.0h0M113.3 332.5h0M105.2 332.1h0M109.5 336.9h0M105.1 336.0h0M111.8 333.1h0M109.3 338.4h0M108.0 334.0h0M105.7 338.1h0M108.2 336.1h0M113.1 337.5h0M106.7 333.8h0M109.0 331.0h0M109.8 332.7h0M109.6 333.9h0M109.6 335.6h0M110.4 338.7h0M110.1 337.5h0M113.5 332.0h0" stroke="#2a2a2a" stroke-opacity="0.22" stroke-width="0.7" stroke-linecap="round"/>
<path d="M111.2 335.7h0M113.8 332.8h0M112.3 333.0h0M107.0 339.4h0M110.3 334.2h0M110.9 338.6h0M113.2 336.7h0M111.3 334.6h0M108.0 334.4h0M106.2 334.5h0M104.2 332.4h0M107.1 336.9h0" stroke="#fff" stroke-opacity="0.3" stroke-width="0.9" stroke-linecap="round"/>
<path d="M113.8 333.3h0M113.2 337.2h0M113.1 337.5h0M109.5 330.9h0M106.0 336.6h0M107.3 334.1h0M112.5 338.3h0M111.7 334.7h0" stroke="#7a8a70" stroke-opacity="0.8" stroke-width="1.2" stroke-linecap="round"/>
<path d="M108.4 339.0h0M103.7 339.5h0M103.2 336.2h0M114.0 335.8h0M106.7 331.7h0M114.7 331.3h0M107.0 341.4h0M109.6 330.1h0M114.7 333.9h0M104.8 331.2h0M113.2 337.9h0M115.2 332.4h0M112.3 340.2h0M108.3 329.7h0M104.8 330.4h0M108.0 331.1h0M106.1 337.9h0M108.8 339.1h0M114.4 338.2h0M108.9 339.4h0" stroke="#3a3a3a" stroke-opacity="0.35" stroke-width="0.8" stroke-linecap="round"/>
<path d="M111.6 341.1h0M103.9 333.4h0M113.9 337.4h0M112.3 331.2h0M114.7 333.6h0M107.5 330.4h0M105.2 335.7h0M110.9 339.1h0M106.8 338.3h0M110.9 337.7h0M102.7 333.5h0M114.5 333.5h0M113.6 333.1h0M103.9 334.7h0M114.7 334.0h0M109.1 330.3h0M114.0 334.6h0M113.1 331.2h0M114.8 332.4h0M106.7 340.2h0" stroke="#3a3a3a" stroke-opacity="0.65" stroke-width="0.8" stroke-linecap="round"/>
<path d="M 34.0 314.8 L 34.9 314.1 L 36.0 313.4 L 38.0 313.1 L 39.8 312.2 L 41.6 312.6 L 44.2 312.8 L 46.1 312.0 L 48.8 312.4 L 50.9 312.9 L 52.6 312.6 L 54.3 313.6 L 56.3 314.0 L 58.3 313.8 L 60.0 313.5 L 60.7 314.4 L 61.5 315.2 L 62.8 315.2 L 63.9 315.4 L 64.7 315.8 L 64.4 316.6 L 64.2 316.3 L 63.2 316.6 L 60.6 317.2 L 59.1 317.9 L 58.4 318.1 L 57.3 319.5 L 56.5 320.4 L 56.3 322.2 L 56.3 322.9 L 54.9 323.6 L 55.1 324.4 L 54.0 325.1 L 52.9 325.5 L 52.7 325.2 L 51.2 326.3 L 49.5 326.2 L 47.7 326.4 L 45.7 326.3 L 44.2 326.7 L 42.4 326.3 L 40.1 326.3 L 38.7 326.2 L 36.7 325.8 L 35.1 325.5 L 34.3 325.1 L 33.4 324.5 L 32.2 323.4 L 32.5 322.4 L 32.2 321.0 L 31.9 319.4 L 32.2 318.8 L 32.2 317.3 L 32.7 316.3 L 32.7 315.8 Z" fill="#df6a5e" fill-opacity="1.0"/>
<path d="M 34.0 314.8 L 34.9 314.1 L 36.0 313.4 L 38.0 313.1 L 39.8 312.2 L 41.6 312.6 L 44.2 312.8 L 46.1 312.0 L 48.8 312.4 L 50.9 312.9 L 52.6 312.6 L 54.3 313.6 L 56.3 314.0 L 58.3 313.8 L 60.0 313.5 L 60.7 314.4 L 61.5 315.2 L 62.8 315.2 L 63.9 315.4 L 64.7 315.8 L 64.4 316.6 L 64.2 316.3 L 63.2 316.6 L 60.6 317.2 L 59.1 317.9 L 58.4 318.1 L 57.3 319.5 L 56.5 320.4 L 56.3 322.2 L 56.3 322.9 L 54.9 323.6 L 55.1 324.4 L 54.0 325.1 L 52.9 325.5 L 52.7 325.2 L 51.2 326.3 L 49.5 326.2 L 47.7 326.4 L 45.7 326.3 L 44.2 326.7 L 42.4 326.3 L 40.1 326.3 L 38.7 326.2 L 36.7 325.8 L 35.1 325.5 L 34.3 325.1 L 33.4 324.5 L 32.2 323.4 L 32.5 322.4 L 32.2 321.0 L 31.9 319.4 L 32.2 318.8 L 32.2 317.3 L 32.7 316.3 L 32.7 315.8 Z" fill="url(#tx1)"/>
<path d="M40.6 319.5h0M55.8 313.9h0M58.2 316.0h0M34.6 321.8h0M47.0 321.5h0M33.1 322.0h0M48.2 325.2h0M42.4 323.6h0M44.8 316.1h0M54.3 315.0h0M43.7 325.3h0M47.3 312.8h0M52.9 313.7h0M56.2 314.0h0M52.7 319.1h0M46.6 319.8h0M40.0 320.8h0M43.0 316.2h0M51.4 316.3h0M46.1 316.9h0M51.6 318.7h0M49.0 321.9h0M61.1 315.0h0M38.1 317.0h0M47.4 319.3h0M34.6 322.0h0M40.6 319.9h0M45.5 323.7h0M43.7 318.4h0M34.1 318.4h0M48.8 313.4h0M42.7 316.3h0M49.4 323.3h0M53.3 320.9h0M54.8 314.3h0M32.9 320.1h0M62.2 315.8h0M57.4 314.4h0M39.2 317.0h0M52.4 314.4h0M45.4 320.3h0M51.9 316.4h0M47.8 315.5h0M34.1 319.2h0M39.4 325.7h0M51.5 317.1h0M39.2 318.3h0M39.7 316.1h0M34.4 317.9h0M61.2 317.2h0M37.2 317.7h0M57.0 320.0h0M53.7 314.9h0M55.0 321.1h0M55.6 323.3h0M42.1 324.5h0M44.6 325.8h0M50.2 319.5h0M57.9 314.1h0M38.9 323.3h0M53.2 316.5h0M36.2 324.8h0M34.1 314.9h0M39.0 324.5h0M49.8 316.3h0M61.8 315.5h0M45.6 316.6h0M36.0 319.1h0M39.3 324.9h0M42.7 315.8h0M56.2 322.0h0M49.4 314.0h0M41.1 318.8h0M48.9 313.6h0M57.3 315.6h0M62.0 317.1h0M42.1 324.7h0M49.8 323.4h0M38.6 314.0h0M35.8 318.3h0M51.0 318.9h0M54.4 316.0h0M51.8 321.7h0M43.0 324.8h0M54.0 318.9h0M35.4 320.2h0M42.6 321.1h0M52.6 320.7h0M47.0 321.0h0M44.9 320.4h0M49.6 317.5h0M39.9 313.3h0M33.1 318.0h0M41.1 316.9h0" stroke="#2a2a2a" stroke-opacity="0.22" stroke-width="0.7" stroke-linecap="round"/>
<path d="M47.3 317.1h0M47.9 322.3h0M34.3 321.0h0M44.3 324.4h0M35.7 320.6h0M45.6 320.6h0M43.3 322.1h0M52.2 318.2h0M48.4 318.5h0M42.3 320.0h0M45.6 315.9h0M44.3 314.9h0M55.5 317.3h0M53.1 320.7h0M43.6 320.6h0M40.9 319.5h0M36.2 321.1h0M57.9 317.2h0M32.5 320.6h0M56.7 316.6h0M43.0 313.8h0M34.5 315.5h0M60.3 317.1h0M57.3 315.4h0M32.2 319.2h0M41.4 312.7h0M41.9 321.2h0M53.7 318.7h0M53.8 317.8h0M41.9 316.9h0M40.0 319.2h0M40.0 317.3h0M51.3 323.8h0M51.2 317.2h0M40.1 321.4h0M58.1 315.7h0M43.6 321.6h0M37.5 314.2h0M50.3 313.6h0M36.3 323.8h0M43.4 320.4h0M43.0 319.8h0M39.4 318.1h0M39.2 321.6h0M37.1 317.1h0M40.2 322.2h0M42.3 314.8h0M48.7 317.5h0M37.2 318.4h0M48.6 318.1h0M50.7 322.3h0M45.8 323.8h0M60.2 314.3h0M49.3 318.0h0M41.1 321.3h0M36.9 319.9h0M37.1 314.3h0M52.7 324.7h0M45.6 324.6h0M37.7 315.7h0M40.4 313.6h0M46.3 318.4h0M49.7 321.8h0M53.9 319.6h0M47.5 321.1h0M32.1 320.0h0" stroke="#fff" stroke-opacity="0.3" stroke-width="0.9" stroke-linecap="round"/>
<path d="M44.5 325.9h0M46.1 319.5h0M47.2 323.7h0M32.5 318.0h0M40.1 321.0h0M43.5 321.0h0M46.4 312.8h0M42.4 319.1h0M50.7 315.5h0M53.1 321.4h0M41.6 313.8h0M41.4 315.4h0M40.9 322.9h0M32.6 320.7h0M51.7 318.4h0M43.4 319.4h0M47.4 315.0h0M54.0 324.2h0M45.2 323.2h0M36.1 319.5h0M54.3 319.9h0M42.7 312.6h0M55.0 314.7h0M51.6 319.8h0M55.7 314.0h0M60.6 315.0h0M55.6 317.7h0M54.9 322.2h0M45.3 325.8h0M46.3 319.0h0M55.4 314.5h0M61.4 317.1h0M35.9 320.7h0M39.7 318.6h0M38.4 322.6h0M56.1 322.1h0M51.0 313.5h0M55.4 320.1h0M53.4 324.1h0M48.5 316.5h0" stroke="#b83c34" stroke-opacity="0.8" stroke-width="1.2" stroke-linecap="round"/>
<path d="M31.8 321.6h0M37.5 315.1h0M52.2 325.4h0M31.7 320.3h0M42.6 327.8h0M60.1 315.7h0M34.4 313.1h0M60.4 313.8h0M57.3 318.8h0M41.3 326.2h0M55.8 319.4h0M43.8 313.9h0M61.7 317.5h0M49.2 325.3h0M35.8 325.2h0M35.4 314.2h0M53.9 322.1h0M51.5 326.1h0M34.9 313.0h0M58.2 314.5h0M44.0 311.5h0M38.5 325.5h0M35.5 313.1h0M54.2 313.0h0M61.9 317.5h0M55.0 314.6h0M62.2 316.3h0M55.2 325.1h0M31.2 321.9h0M57.0 320.8h0M61.1 315.3h0M34.4 314.3h0M55.0 323.8h0M55.7 321.2h0M35.8 324.0h0M57.8 317.1h0M52.0 324.6h0M39.2 324.7h0M46.6 327.4h0M32.7 316.3h0M35.3 313.7h0M56.3 322.6h0M57.3 318.7h0M63.9 315.7h0M57.1 321.8h0" stroke="#3a3a3a" stroke-opacity="0.35" stroke-width="0.8" stroke-linecap="round"/>
<path d="M36.5 313.5h0M54.9 324.8h0M32.3 321.6h0M55.8 325.8h0M58.6 314.7h0M62.0 315.2h0M61.1 316.9h0M51.6 325.3h0M58.6 320.1h0M55.3 313.5h0M63.0 316.9h0M48.5 313.3h0M40.1 325.8h0M50.1 327.3h0M50.5 313.8h0M53.5 325.3h0M32.8 324.7h0M33.1 316.7h0M55.5 322.1h0M30.1 322.9h0M31.6 315.9h0M60.7 313.8h0M44.2 326.0h0M60.1 316.0h0M40.6 313.8h0M33.5 323.1h0M39.6 327.7h0M51.8 327.2h0M44.5 326.4h0M36.2 324.6h0M52.6 326.0h0M64.0 316.9h0M33.5 325.6h0M63.9 317.1h0M50.2 313.1h0M60.2 314.1h0M60.7 317.4h0M48.4 312.0h0M56.7 320.2h0M60.9 317.2h0M31.4 323.0h0M60.1 315.3h0M33.8 323.4h0M52.5 314.4h0M42.9 326.1h0" stroke="#3a3a3a" stroke-opacity="0.65" stroke-width="0.8" stroke-linecap="round"/>
<path d="M 35.7 327.7 L 35.9 327.1 L 37.6 327.5 L 38.6 327.3 L 40.2 327.2 L 41.7 327.6 L 44.2 328.7 L 46.4 328.6 L 48.3 329.3 L 50.9 330.7 L 52.6 330.4 L 54.4 330.1 L 54.6 329.7 L 54.9 329.2 L 56.1 328.6 L 56.7 328.0 L 57.4 328.5 L 57.8 329.5 L 58.3 330.5 L 59.3 331.5 L 61.1 331.4 L 61.7 331.8 L 63.6 331.9 L 65.9 331.0 L 66.8 331.5 L 69.0 331.1 L 70.3 330.2 L 71.4 329.9 L 73.8 329.4 L 74.9 328.9 L 76.1 328.8 L 76.1 329.6 L 77.0 329.9 L 76.9 330.6 L 77.3 331.6 L 77.2 331.8 L 76.8 332.6 L 75.6 333.2 L 73.9 334.0 L 73.3 335.2 L 71.2 335.8 L 70.1 336.6 L 67.4 337.5 L 66.0 338.9 L 63.9 339.6 L 62.0 339.7 L 61.3 340.3 L 61.3 341.4 L 60.2 342.6 L 59.8 343.6 L 59.3 344.0 L 58.4 344.6 L 56.5 345.4 L 53.9 345.6 L 51.8 346.7 L 49.5 347.2 L 48.0 346.9 L 47.0 346.0 L 44.7 346.5 L 43.9 345.2 L 42.0 345.6 L 40.2 345.5 L 39.0 345.0 L 37.2 345.3 L 36.8 344.3 L 35.4 344.1 L 34.6 342.8 L 33.3 342.5 L 32.6 340.6 L 33.2 339.4 L 32.3 338.8 L 32.1 337.7 L 32.9 336.1 L 32.8 334.4 L 34.0 332.7 L 33.7 332.0 L 34.2 331.0 L 34.3 329.5 L 34.3 329.4 L 34.9 327.9 Z" fill="#8fc44c" fill-opacity="1.0"/>
<path d="M 35.7 327.7 L 35.9 327.1 L 37.6 327.5 L 38.6 327.3 L 40.2 327.2 L 41.7 327.6 L 44.2 328.7 L 46.4 328.6 L 48.3 329.3 L 50.9 330.7 L 52.6 330.4 L 54.4 330.1 L 54.6 329.7 L 54.9 329.2 L 56.1 328.6 L 56.7 328.0 L 57.4 328.5 L 57.8 329.5 L 58.3 330.5 L 59.3 331.5 L 61.1 331.4 L 61.7 331.8 L 63.6 331.9 L 65.9 331.0 L 66.8 331.5 L 69.0 331.1 L 70.3 330.2 L 71.4 329.9 L 73.8 329.4 L 74.9 328.9 L 76.1 328.8 L 76.1 329.6 L 77.0 329.9 L 76.9 330.6 L 77.3 331.6 L 77.2 331.8 L 76.8 332.6 L 75.6 333.2 L 73.9 334.0 L 73.3 335.2 L 71.2 335.8 L 70.1 336.6 L 67.4 337.5 L 66.0 338.9 L 63.9 339.6 L 62.0 339.7 L 61.3 340.3 L 61.3 341.4 L 60.2 342.6 L 59.8 343.6 L 59.3 344.0 L 58.4 344.6 L 56.5 345.4 L 53.9 345.6 L 51.8 346.7 L 49.5 347.2 L 48.0 346.9 L 47.0 346.0 L 44.7 346.5 L 43.9 345.2 L 42.0 345.6 L 40.2 345.5 L 39.0 345.0 L 37.2 345.3 L 36.8 344.3 L 35.4 344.1 L 34.6 342.8 L 33.3 342.5 L 32.6 340.6 L 33.2 339.4 L 32.3 338.8 L 32.1 337.7 L 32.9 336.1 L 32.8 334.4 L 34.0 332.7 L 33.7 332.0 L 34.2 331.0 L 34.3 329.5 L 34.3 329.4 L 34.9 327.9 Z" fill="url(#tx1)"/>
<path d="M52.8 332.8h0M59.1 333.0h0M50.6 344.1h0M60.8 341.5h0M41.5 331.0h0M45.9 335.8h0M47.7 337.5h0M56.4 336.7h0M69.4 333.9h0M47.8 343.1h0M35.7 336.8h0M49.4 336.4h0M63.2 335.2h0M56.2 331.8h0M41.5 332.4h0M41.8 332.1h0M43.1 340.4h0M44.3 335.8h0M34.8 329.6h0M46.1 335.5h0M39.4 330.6h0M52.4 331.9h0M63.3 334.8h0M63.9 332.1h0M44.7 331.3h0M48.6 332.3h0M71.2 331.6h0M70.3 332.4h0M59.8 336.0h0M49.4 341.3h0M39.3 332.8h0M39.0 335.0h0M44.9 338.7h0M60.5 339.2h0M45.8 342.2h0M43.6 340.6h0M48.2 343.4h0M52.3 343.9h0M49.0 334.3h0M73.9 329.7h0M69.5 330.8h0M40.8 340.3h0M51.9 330.7h0M35.7 338.3h0M62.2 339.3h0M36.5 343.7h0M39.9 331.6h0M33.6 335.9h0M39.0 342.7h0M38.4 330.2h0M51.6 338.8h0M49.5 332.9h0M63.0 336.2h0M58.6 335.5h0M54.4 333.4h0M45.3 336.5h0M74.8 330.5h0M33.0 336.6h0M54.7 336.8h0M34.9 334.0h0M37.1 339.2h0M56.1 341.2h0M39.9 337.2h0M42.2 335.9h0M70.5 333.0h0M58.0 338.9h0M46.5 340.8h0M33.3 336.5h0M60.7 338.1h0M59.9 332.9h0M41.4 337.2h0M46.5 331.8h0M73.1 333.8h0M40.7 340.5h0M50.7 341.8h0M35.3 337.6h0M55.1 344.9h0M53.2 336.3h0M40.8 335.1h0M41.1 333.9h0M55.5 334.4h0M53.6 339.5h0M35.3 328.8h0M59.4 338.4h0M47.8 341.4h0M63.7 336.7h0M63.7 335.8h0M41.6 339.9h0M63.1 333.7h0M42.3 344.7h0M41.0 338.8h0M37.0 333.7h0M54.4 337.8h0M33.8 332.3h0M66.5 337.3h0M39.6 329.3h0M55.8 331.4h0M39.2 337.7h0M45.0 340.7h0M33.0 338.1h0M60.9 339.6h0M60.8 336.5h0M40.8 329.6h0M41.8 343.9h0M70.4 332.4h0M55.9 332.1h0M53.7 336.3h0M46.9 337.0h0M37.6 339.0h0M34.9 333.5h0M51.4 338.6h0M59.7 339.4h0M55.6 342.0h0M59.3 335.1h0M61.6 336.3h0M38.3 344.5h0M52.6 340.9h0M35.3 339.1h0M56.0 333.4h0M42.5 332.6h0M42.4 344.5h0M48.5 332.8h0M37.1 333.5h0M54.8 337.4h0M40.0 344.4h0M36.7 330.7h0M47.0 331.2h0M50.2 341.3h0M41.5 333.8h0M43.6 342.8h0M49.7 341.7h0M45.2 330.6h0M49.3 331.0h0M55.2 340.1h0M53.3 338.2h0M46.0 329.3h0M45.8 328.9h0M56.9 333.9h0M58.3 344.2h0M41.1 338.3h0M47.4 330.1h0M35.4 340.2h0M60.7 331.8h0M51.3 331.3h0M56.6 335.4h0M37.1 335.0h0" stroke="#2a2a2a" stroke-opacity="0.22" stroke-width="0.7" stroke-linecap="round"/>
<path d="M46.0 335.4h0M70.5 336.1h0M50.0 332.7h0M48.0 333.5h0M51.8 335.7h0M53.9 344.9h0M35.1 338.7h0M47.2 330.4h0M57.1 338.7h0M39.1 342.8h0M45.7 331.0h0M73.8 332.6h0M53.8 344.6h0M47.2 329.8h0M41.4 337.5h0M54.6 341.8h0M36.2 331.3h0M53.5 343.8h0M43.5 332.1h0M43.0 339.1h0M53.2 335.9h0M56.6 344.5h0M48.1 337.0h0M52.2 340.9h0M52.0 337.7h0M48.8 340.6h0M43.9 343.0h0M38.8 339.0h0M47.8 329.4h0M47.9 332.3h0M42.7 333.2h0M40.9 335.2h0M40.1 333.1h0M40.7 335.8h0M62.5 333.3h0M50.1 340.8h0M37.7 334.3h0M45.6 333.7h0M47.4 332.4h0M52.7 345.8h0M41.6 329.5h0M34.7 341.1h0M40.4 329.4h0M54.0 338.1h0M47.2 346.1h0M41.4 340.2h0M41.6 337.4h0M39.9 339.0h0M53.4 338.4h0M47.3 331.2h0M50.9 340.3h0M43.9 341.5h0M40.9 332.5h0M51.6 344.8h0M54.6 339.9h0M61.9 332.1h0M66.1 337.1h0M48.4 338.1h0M43.5 339.0h0M39.9 340.4h0M70.1 332.5h0M52.8 338.6h0M72.4 333.8h0M60.8 333.5h0M62.0 335.2h0M37.6 341.9h0M41.7 337.7h0M48.6 335.0h0M43.2 334.3h0M41.7 328.6h0M52.9 331.9h0M50.2 343.7h0M52.8 343.9h0M44.3 331.9h0M56.0 332.2h0M37.7 339.3h0M60.5 332.8h0M66.5 334.4h0M56.7 344.6h0M57.3 332.1h0M62.4 336.3h0M62.7 332.8h0M67.7 335.1h0M36.0 333.6h0M71.7 331.9h0M37.2 334.4h0M67.5 334.0h0M53.6 344.8h0M48.1 336.7h0M44.4 344.5h0M63.9 334.9h0M49.3 333.4h0M71.5 331.6h0M56.1 339.9h0M48.6 337.7h0M61.5 334.5h0M48.5 329.9h0M58.1 332.4h0M63.3 331.8h0M38.4 333.8h0M49.1 335.3h0M35.8 329.5h0M41.5 343.8h0M41.4 329.3h0M36.7 343.7h0M56.2 333.5h0M52.2 343.9h0M54.7 342.3h0M47.1 344.3h0M56.4 342.4h0M55.6 336.2h0M76.3 330.7h0M51.4 338.8h0M75.7 331.7h0M35.3 341.2h0M38.9 341.8h0" stroke="#fff" stroke-opacity="0.3" stroke-width="0.9" stroke-linecap="round"/>
<path d="M64.5 336.7h0M42.5 332.7h0M47.8 329.5h0M38.7 334.7h0M39.0 334.3h0M61.6 333.6h0M38.2 336.1h0M43.4 332.2h0M74.0 332.3h0M51.5 339.6h0M60.0 331.9h0M40.2 334.9h0M42.0 337.8h0M65.0 332.3h0M58.9 333.4h0M40.7 341.5h0M58.5 338.7h0M58.0 331.4h0M75.0 329.4h0M45.5 338.1h0M54.1 333.6h0M53.6 331.6h0M53.2 343.8h0M37.8 341.9h0M52.9 339.7h0M68.1 332.4h0M67.4 337.1h0M50.0 332.0h0M43.8 342.1h0M48.6 336.1h0M63.4 336.9h0M47.2 332.0h0M52.8 337.4h0M53.2 333.7h0M47.4 338.7h0M42.2 328.0h0M49.2 335.0h0M63.1 339.2h0M54.6 329.5h0M73.3 333.7h0M50.8 334.6h0M41.0 332.0h0M43.4 329.1h0M37.2 334.4h0M46.8 342.0h0M55.7 340.0h0M44.9 345.8h0M49.9 330.8h0M69.2 331.4h0M37.4 337.2h0" stroke="#62a030" stroke-opacity="0.8" stroke-width="1.2" stroke-linecap="round"/>
<path d="M31.4 332.5h0M34.2 343.2h0M57.2 328.3h0M36.4 328.7h0M42.0 327.4h0M70.9 330.0h0M68.4 330.4h0M55.8 346.3h0M37.2 327.4h0M75.5 332.7h0M32.9 334.4h0M65.8 330.4h0M39.3 346.3h0M33.8 339.0h0M32.7 337.3h0M41.5 327.8h0M66.1 338.1h0M50.8 347.8h0M32.2 338.6h0M45.4 328.6h0M35.5 328.0h0M44.6 328.6h0M76.4 332.9h0M58.4 328.6h0M54.6 331.5h0M34.8 342.4h0M59.9 342.6h0M42.3 327.9h0M34.4 330.9h0M66.5 331.1h0M46.8 326.7h0M58.3 333.4h0M37.5 326.8h0M57.2 327.6h0M54.5 331.1h0M76.5 329.8h0M73.0 328.6h0M57.3 326.8h0M32.8 331.3h0M32.8 338.3h0M73.1 337.1h0M68.3 331.3h0M34.6 331.0h0M69.7 330.8h0M58.3 334.0h0M73.3 328.8h0M76.2 329.4h0M30.7 340.2h0M37.6 344.3h0M70.4 335.0h0M45.1 346.9h0M57.8 343.5h0M55.9 328.5h0M32.8 342.8h0M69.1 330.3h0M61.9 330.4h0M36.7 325.8h0M48.6 346.6h0M78.4 328.3h0M58.1 345.0h0M61.8 339.9h0M69.4 336.5h0M44.6 346.0h0M59.6 331.2h0M31.5 337.7h0" stroke="#3a3a3a" stroke-opacity="0.35" stroke-width="0.8" stroke-linecap="round"/>
<path d="M58.8 331.8h0M67.4 337.5h0M77.3 330.3h0M38.0 325.4h0M40.2 325.9h0M32.8 338.1h0M61.3 340.9h0M47.0 347.9h0M50.7 348.6h0M47.6 346.2h0M74.8 328.2h0M34.0 325.7h0M48.5 348.3h0M76.6 330.3h0M71.2 335.7h0M69.5 337.2h0M65.0 331.1h0M34.5 332.2h0M78.9 329.0h0M31.6 334.6h0M70.9 331.5h0M54.5 345.8h0M31.8 340.4h0M60.4 330.5h0M32.4 336.0h0M41.4 328.2h0M65.9 339.1h0M69.8 330.2h0M33.1 340.5h0M70.5 330.5h0M56.2 329.1h0M61.5 332.2h0M66.0 338.3h0M51.5 346.4h0M33.0 333.1h0M35.5 326.6h0M46.7 347.4h0M44.3 328.2h0M50.1 329.3h0M60.6 332.5h0M76.5 333.2h0M77.6 332.9h0M69.6 329.3h0M51.2 330.7h0M70.6 329.8h0M76.3 329.4h0M43.1 328.7h0M66.1 330.5h0M64.7 339.8h0M39.1 345.4h0M35.6 345.1h0M75.8 328.2h0M45.2 346.4h0M37.6 327.4h0M42.2 346.3h0M75.5 335.6h0M34.7 328.8h0M33.1 329.5h0M37.6 328.1h0M76.8 332.7h0M33.2 334.8h0M70.1 329.5h0M32.7 336.2h0M60.1 343.7h0M37.6 326.3h0" stroke="#3a3a3a" stroke-opacity="0.65" stroke-width="0.8" stroke-linecap="round"/>
<path d="M 34.0 344.9 L 35.2 345.1 L 36.5 345.7 L 37.6 346.8 L 39.1 347.6 L 38.8 348.2 L 38.9 348.6 L 38.3 350.5 L 36.8 351.4 L 36.3 352.8 L 35.2 353.2 L 34.6 354.2 L 33.3 355.6 L 31.4 356.6 L 31.2 357.6 L 30.3 358.4 L 29.3 358.9 L 28.1 359.9 L 27.3 360.7 L 26.1 360.9 L 25.9 360.5 L 25.0 360.3 L 25.0 359.0 L 24.1 358.5 L 24.4 357.6 L 24.8 356.4 L 25.1 354.7 L 26.0 354.2 L 26.2 352.4 L 27.2 351.5 L 28.8 351.1 L 29.6 349.7 L 30.7 348.6 L 30.8 348.0 L 31.6 347.6 L 32.9 347.0 L 32.7 346.3 L 32.8 345.8 L 33.1 345.1 L 33.7 345.7 Z" fill="#3fb8c8" fill-opacity="1.0"/>
<path d="M 34.0 344.9 L 35.2 345.1 L 36.5 345.7 L 37.6 346.8 L 39.1 347.6 L 38.8 348.2 L 38.9 348.6 L 38.3 350.5 L 36.8 351.4 L 36.3 352.8 L 35.2 353.2 L 34.6 354.2 L 33.3 355.6 L 31.4 356.6 L 31.2 357.6 L 30.3 358.4 L 29.3 358.9 L 28.1 359.9 L 27.3 360.7 L 26.1 360.9 L 25.9 360.5 L 25.0 360.3 L 25.0 359.0 L 24.1 358.5 L 24.4 357.6 L 24.8 356.4 L 25.1 354.7 L 26.0 354.2 L 26.2 352.4 L 27.2 351.5 L 28.8 351.1 L 29.6 349.7 L 30.7 348.6 L 30.8 348.0 L 31.6 347.6 L 32.9 347.0 L 32.7 346.3 L 32.8 345.8 L 33.1 345.1 L 33.7 345.7 Z" fill="url(#tx1)"/>
<path d="M27.9 354.0h0M32.9 352.9h0M34.2 354.0h0M33.9 349.9h0M29.4 358.8h0M26.8 356.3h0M30.1 351.8h0M37.6 349.1h0M35.0 349.3h0M32.2 351.3h0M35.9 347.3h0M38.0 348.4h0M30.7 350.8h0M30.7 357.1h0M34.7 349.3h0M36.9 348.4h0M36.9 347.7h0M31.5 347.9h0M27.1 356.9h0M29.0 351.3h0M32.6 349.4h0M32.6 349.7h0M34.0 354.7h0M27.3 357.1h0M31.2 353.9h0" stroke="#2a2a2a" stroke-opacity="0.22" stroke-width="0.7" stroke-linecap="round"/>
<path d="M31.8 348.3h0M24.8 355.8h0M36.5 348.6h0M27.4 352.8h0M27.2 354.5h0M31.4 348.4h0M36.4 347.9h0M31.0 349.2h0M28.4 353.3h0M28.4 352.7h0M28.9 358.7h0M28.4 356.1h0M28.2 354.5h0M26.5 359.1h0M37.3 349.9h0M34.8 349.2h0M24.8 356.6h0M31.5 351.2h0M30.7 350.3h0M30.6 354.4h0M30.9 352.6h0" stroke="#fff" stroke-opacity="0.3" stroke-width="0.9" stroke-linecap="round"/>
<path d="M35.9 346.8h0M27.9 356.5h0M27.8 352.4h0M28.9 351.0h0M36.0 350.2h0M35.6 349.8h0M27.6 355.9h0M32.2 353.3h0M32.4 351.7h0M33.6 346.6h0M32.3 347.3h0M34.4 352.3h0" stroke="#1e8ea0" stroke-opacity="0.8" stroke-width="1.2" stroke-linecap="round"/>
<path d="M32.5 345.9h0M23.3 356.7h0M27.3 354.4h0M31.5 345.5h0M23.8 357.3h0M30.4 350.6h0M28.8 360.6h0M35.2 344.8h0M38.2 349.0h0M30.6 348.7h0M36.2 344.5h0M25.6 360.4h0M25.2 357.3h0M28.7 361.0h0M30.8 358.1h0M39.1 347.2h0M32.6 343.9h0M27.2 355.5h0M24.9 359.5h0M31.5 348.6h0M38.6 349.0h0M38.6 349.3h0M31.4 358.6h0M26.7 351.6h0M38.3 347.7h0M27.5 360.9h0" stroke="#3a3a3a" stroke-opacity="0.35" stroke-width="0.8" stroke-linecap="round"/>
<path d="M34.2 353.9h0M28.8 350.2h0M35.8 344.8h0M26.5 361.5h0M27.1 350.6h0M36.2 351.2h0M38.4 348.2h0M24.9 354.4h0M31.6 356.1h0M35.2 354.5h0M39.1 347.5h0M27.2 350.7h0M29.3 347.6h0M30.7 348.0h0M31.7 358.8h0M39.3 350.8h0M36.7 345.9h0M33.7 344.9h0M34.7 353.8h0M36.9 350.0h0M36.3 345.1h0M25.2 353.8h0M26.4 359.5h0M29.3 349.9h0M35.9 351.5h0M27.4 359.5h0M30.9 356.6h0" stroke="#3a3a3a" stroke-opacity="0.65" stroke-width="0.8" stroke-linecap="round"/>
<path d="M 36 322.2 L 56 321.5 L 55 323.2 L 37 323.6 Z" fill="#fff" fill-opacity="0.45"/>
<path d="M 34 316.2 L 60 315.6 L 60 316.8 L 34 317.3 Z" fill="#fff" fill-opacity="0.35"/>
<path d="M 45 325.5 L 55.5 322 L 59 324 L 60.5 330 L 57 334.5 L 51 333 L 46 329 Z" fill="#fff" fill-opacity="0.85"/>
<path d="M 160.2 302.4 L 160.4 301.8 L 162.1 301.1 L 163.0 300.3 L 164.4 299.7 L 166.2 298.9 L 167.3 297.4 L 168.3 296.6 L 170.1 295.9 L 171.2 295.0 L 171.8 294.9 L 173.4 293.9 L 174.9 293.6 L 175.5 292.4 L 176.4 291.9 L 178.5 291.0 L 179.7 291.5 L 180.6 291.2 L 181.7 290.3 L 183.2 290.6 L 185.3 290.5 L 186.3 290.1 L 187.3 290.2 L 189.4 290.5 L 190.5 290.6 L 191.6 290.6 L 192.9 291.7 L 194.3 292.7 L 195.3 292.9 L 197.0 294.2 L 197.8 295.0 L 198.7 295.6 L 199.0 297.1 L 200.3 298.5 L 201.2 299.7 L 201.0 300.6 L 202.3 302.1 L 202.2 303.6 L 203.2 306.0 L 203.2 307.9 L 203.0 308.9 L 203.7 310.0 L 204.5 312.2 L 205.2 313.9 L 206.0 315.5 L 206.1 316.6 L 206.8 318.0 L 208.3 319.6 L 208.7 321.3 L 210.4 323.4 L 210.5 325.3 L 210.3 326.4 L 210.5 328.2 L 210.0 329.5 L 210.3 330.8 L 209.3 332.0 L 207.8 332.3 L 205.7 332.1 L 204.5 332.9 L 202.3 333.1 L 200.2 333.4 L 197.8 333.0 L 195.6 333.1 L 193.5 332.3 L 190.0 332.6 L 188.1 332.5 L 185.3 332.7 L 182.5 333.0 L 180.9 332.6 L 177.7 332.9 L 176.0 333.0 L 174.2 331.8 L 172.3 332.2 L 171.4 331.2 L 169.9 330.5 L 169.2 330.1 L 168.0 328.9 L 166.6 328.2 L 166.3 327.1 L 164.3 326.2 L 164.3 324.7 L 163.4 323.4 L 162.6 322.8 L 161.7 320.6 L 160.8 319.3 L 160.0 317.6 L 159.8 316.3 L 160.0 315.0 L 159.3 313.2 L 159.2 311.8 L 158.5 310.0 L 159.1 308.9 L 159.1 307.2 L 158.7 305.7 L 159.1 304.0 Z" fill="#efe69c" fill-opacity="1.0"/>
<path d="M 160.2 302.4 L 160.4 301.8 L 162.1 301.1 L 163.0 300.3 L 164.4 299.7 L 166.2 298.9 L 167.3 297.4 L 168.3 296.6 L 170.1 295.9 L 171.2 295.0 L 171.8 294.9 L 173.4 293.9 L 174.9 293.6 L 175.5 292.4 L 176.4 291.9 L 178.5 291.0 L 179.7 291.5 L 180.6 291.2 L 181.7 290.3 L 183.2 290.6 L 185.3 290.5 L 186.3 290.1 L 187.3 290.2 L 189.4 290.5 L 190.5 290.6 L 191.6 290.6 L 192.9 291.7 L 194.3 292.7 L 195.3 292.9 L 197.0 294.2 L 197.8 295.0 L 198.7 295.6 L 199.0 297.1 L 200.3 298.5 L 201.2 299.7 L 201.0 300.6 L 202.3 302.1 L 202.2 303.6 L 203.2 306.0 L 203.2 307.9 L 203.0 308.9 L 203.7 310.0 L 204.5 312.2 L 205.2 313.9 L 206.0 315.5 L 206.1 316.6 L 206.8 318.0 L 208.3 319.6 L 208.7 321.3 L 210.4 323.4 L 210.5 325.3 L 210.3 326.4 L 210.5 328.2 L 210.0 329.5 L 210.3 330.8 L 209.3 332.0 L 207.8 332.3 L 205.7 332.1 L 204.5 332.9 L 202.3 333.1 L 200.2 333.4 L 197.8 333.0 L 195.6 333.1 L 193.5 332.3 L 190.0 332.6 L 188.1 332.5 L 185.3 332.7 L 182.5 333.0 L 180.9 332.6 L 177.7 332.9 L 176.0 333.0 L 174.2 331.8 L 172.3 332.2 L 171.4 331.2 L 169.9 330.5 L 169.2 330.1 L 168.0 328.9 L 166.6 328.2 L 166.3 327.1 L 164.3 326.2 L 164.3 324.7 L 163.4 323.4 L 162.6 322.8 L 161.7 320.6 L 160.8 319.3 L 160.0 317.6 L 159.8 316.3 L 160.0 315.0 L 159.3 313.2 L 159.2 311.8 L 158.5 310.0 L 159.1 308.9 L 159.1 307.2 L 158.7 305.7 L 159.1 304.0 Z" fill="url(#tx1)"/>
<path d="M183.1 305.6h0M178.8 329.8h0M196.7 311.4h0M165.9 304.0h0M172.1 294.6h0M180.5 302.0h0M160.2 305.1h0M166.8 320.0h0M181.0 311.3h0M184.1 325.3h0M172.0 297.1h0M196.0 314.7h0M199.2 319.0h0M195.1 319.8h0M171.5 303.0h0M163.9 308.4h0M176.3 304.8h0M169.4 328.4h0M185.7 312.7h0M200.0 311.8h0M202.6 329.7h0M189.8 322.4h0M179.8 320.9h0M186.9 318.1h0M167.6 321.3h0M183.1 320.5h0M179.2 313.3h0M185.0 326.0h0M196.1 302.1h0M182.8 295.6h0M167.7 309.1h0M165.7 326.5h0M177.6 321.3h0M162.2 308.1h0M171.7 328.7h0M177.3 312.1h0M176.4 294.7h0M173.3 319.7h0M186.5 296.0h0M161.3 315.4h0M170.6 303.8h0M174.2 299.6h0M188.5 303.5h0M207.8 322.1h0M192.3 295.1h0M165.7 303.0h0M186.8 294.0h0M170.7 327.1h0M195.5 326.7h0M171.1 324.3h0M201.5 311.2h0M160.2 313.7h0M168.2 307.7h0M190.0 322.1h0M191.4 307.6h0M175.5 303.7h0M189.5 296.7h0M169.3 314.7h0M174.3 309.0h0M190.0 294.9h0M168.8 313.2h0M168.0 297.6h0M178.1 328.0h0M184.3 316.9h0M178.1 308.9h0M188.4 296.7h0M191.4 291.5h0M168.6 299.5h0M179.7 295.1h0M187.9 305.4h0M197.6 322.3h0M174.3 314.2h0M175.0 296.3h0M169.3 325.4h0M188.0 304.2h0M192.4 299.9h0M190.7 306.8h0M166.6 324.0h0M199.2 316.6h0M176.6 315.8h0M175.7 318.3h0M168.1 310.4h0M161.2 308.4h0M195.2 317.8h0M180.5 330.1h0M166.7 310.6h0M199.7 315.2h0M175.5 325.0h0M184.7 303.9h0M180.1 308.0h0M198.1 297.3h0M184.1 290.7h0M173.4 317.4h0M159.9 312.1h0M181.9 325.2h0M189.1 312.7h0M204.0 326.5h0M177.9 312.8h0M172.5 315.8h0M182.4 307.4h0M200.1 322.6h0M193.4 328.4h0M175.7 320.3h0M183.8 323.1h0M190.3 329.0h0M176.0 300.4h0M201.4 321.9h0M201.1 332.5h0M175.6 329.6h0M168.5 327.3h0M204.5 324.8h0M173.6 298.6h0M168.5 324.2h0M196.5 324.1h0M168.0 320.2h0M180.3 309.8h0M169.7 303.5h0M197.7 331.7h0M190.7 312.8h0M176.6 303.3h0M185.2 309.1h0M190.3 315.0h0M183.7 304.9h0M187.7 312.9h0M173.4 321.9h0M161.4 318.6h0M190.2 297.5h0M198.4 305.4h0M192.7 303.3h0M177.0 299.2h0M205.2 326.8h0M203.6 325.1h0M166.3 306.9h0M201.3 322.9h0M182.9 315.2h0M165.5 325.4h0M204.4 325.1h0M199.8 332.1h0M200.1 298.9h0M188.1 316.7h0M199.6 322.7h0M178.2 299.1h0M185.6 310.7h0M206.2 317.3h0M179.6 326.7h0M195.5 295.2h0M205.0 324.1h0M181.9 290.8h0M194.0 322.9h0M167.1 301.8h0M191.2 309.3h0M180.5 291.9h0M193.8 332.0h0M176.5 320.5h0M171.6 322.4h0M191.3 294.1h0M194.3 305.0h0M192.6 327.0h0M183.8 304.6h0M172.3 325.8h0M191.6 295.3h0M172.7 313.8h0M197.7 328.7h0M178.3 316.8h0M197.1 302.1h0M180.1 292.4h0M164.9 318.6h0M175.8 299.4h0M170.8 328.1h0M197.1 299.2h0M188.8 296.5h0M186.1 329.4h0M196.0 321.8h0M185.3 314.4h0M188.2 314.1h0M189.3 306.8h0M197.3 295.8h0M191.9 330.9h0M160.9 303.2h0M187.9 300.3h0M179.2 301.4h0M173.3 330.6h0M165.5 321.9h0M197.4 306.4h0M202.3 329.9h0M176.4 301.8h0M194.3 309.9h0M166.5 324.8h0M167.8 312.8h0M187.5 311.2h0M181.3 294.7h0M182.7 303.5h0M181.1 302.4h0M180.3 311.4h0M198.1 303.0h0M206.2 317.6h0M167.2 304.9h0M191.9 296.5h0M198.8 331.6h0M200.8 325.8h0M180.0 324.8h0M163.2 311.5h0M168.3 300.6h0M201.3 318.5h0M164.6 305.5h0M182.5 300.0h0M176.5 327.2h0M196.4 301.6h0M187.2 325.8h0M200.5 315.4h0M185.7 328.9h0M188.1 311.3h0M179.4 298.9h0M182.5 326.2h0M182.0 316.0h0M175.9 312.1h0M176.7 292.5h0M190.6 295.7h0M176.6 302.1h0M178.2 325.0h0M190.7 309.9h0M176.3 314.0h0M167.8 320.3h0M167.7 322.0h0M179.4 319.3h0M195.6 305.6h0M172.6 320.7h0M181.3 298.4h0M176.2 308.0h0M192.4 302.6h0M185.3 295.4h0M169.9 316.4h0M180.8 311.4h0M195.4 294.4h0M183.9 323.2h0M197.0 299.9h0M202.3 313.7h0M183.2 313.3h0M178.2 310.9h0M197.5 325.6h0M174.7 326.7h0M196.3 308.4h0M182.8 302.5h0M193.4 315.8h0M174.8 302.3h0M173.7 298.3h0M184.3 327.9h0M191.5 305.5h0M173.2 317.8h0M186.4 332.3h0M189.3 321.5h0M209.4 323.8h0M191.6 312.0h0M184.0 306.3h0M176.8 326.5h0M166.2 303.8h0M204.0 320.6h0M181.8 312.7h0M180.1 314.6h0M167.0 310.3h0M171.1 321.6h0M161.3 302.3h0M178.1 317.9h0M170.7 301.5h0M174.3 315.7h0M193.3 324.1h0M195.7 303.7h0M174.1 293.6h0M176.7 330.8h0M164.8 318.0h0M172.3 312.7h0M182.0 325.4h0M167.1 305.3h0M176.2 303.9h0M161.9 311.3h0M206.3 324.0h0M169.9 318.6h0M179.9 307.5h0M180.1 292.2h0M171.3 298.5h0M198.2 317.2h0M177.7 308.7h0M166.2 306.0h0M168.7 319.9h0M165.2 301.5h0M199.8 317.6h0M188.1 311.5h0M177.5 323.5h0M188.5 328.4h0M184.7 304.9h0M199.1 298.5h0M175.9 311.0h0M184.4 291.7h0M195.1 316.7h0M199.5 302.9h0M182.7 323.9h0M167.6 314.6h0M186.9 322.8h0M160.4 303.1h0M189.3 299.6h0M197.6 304.3h0M198.3 314.7h0M174.5 308.2h0M183.3 310.2h0M201.3 303.1h0M183.6 330.1h0M163.4 309.9h0M175.9 328.4h0M183.1 296.5h0M203.5 319.7h0M207.2 328.3h0M160.5 306.0h0M183.8 330.9h0M194.6 332.7h0M172.8 306.5h0M185.1 327.1h0M198.4 315.5h0M189.3 305.4h0M184.9 295.8h0M186.2 303.8h0M173.2 307.0h0M187.6 327.6h0M201.5 308.7h0M169.0 311.3h0M203.9 327.0h0M182.5 315.1h0M175.5 302.7h0M185.7 296.8h0M177.0 306.6h0M192.3 294.7h0M182.4 318.1h0M197.0 326.0h0M186.1 294.3h0M188.8 325.6h0M162.4 312.2h0M198.9 319.2h0M176.5 327.0h0M162.0 305.6h0M189.4 324.5h0M196.8 307.1h0M176.2 306.1h0M204.5 317.5h0M189.0 292.4h0M184.5 319.3h0M182.1 314.8h0M178.9 311.6h0M176.3 311.9h0M172.6 297.4h0M161.9 302.1h0M204.3 317.8h0M175.6 319.2h0M202.2 326.4h0M169.5 329.2h0M182.7 300.5h0M174.6 328.9h0M201.5 331.1h0M200.5 316.5h0M185.8 295.4h0M182.7 303.2h0M177.6 331.9h0M169.2 299.4h0M204.4 313.5h0M184.7 300.6h0M180.1 327.6h0M167.6 314.2h0M196.8 312.6h0M167.4 313.4h0M184.6 320.8h0M180.0 306.2h0M184.6 316.3h0M190.8 313.9h0M200.0 332.0h0M179.0 331.9h0M172.3 299.8h0M201.3 303.4h0M172.5 324.9h0M172.1 322.1h0M203.7 329.1h0M187.8 310.7h0M189.3 328.0h0M160.5 313.4h0M180.5 314.4h0M170.5 297.3h0M187.4 307.0h0M175.4 329.3h0M195.0 309.7h0M189.7 299.6h0M177.2 293.2h0M165.2 310.7h0M206.7 324.3h0M186.6 293.6h0M177.9 300.2h0M171.4 318.0h0M206.9 328.4h0M185.9 293.4h0M202.3 331.3h0M204.7 329.0h0M176.1 301.6h0M177.2 307.2h0M204.8 325.1h0M179.2 323.0h0M194.2 308.1h0M167.7 305.0h0M171.0 305.0h0M192.7 324.5h0M182.2 328.1h0M167.7 304.9h0M180.3 305.9h0M191.5 317.7h0M194.1 309.4h0M175.2 308.4h0M168.6 324.6h0M187.4 309.2h0M195.4 299.2h0M201.4 306.7h0M198.8 331.6h0M182.8 331.1h0M188.1 314.7h0M177.0 332.1h0M179.6 325.4h0" stroke="#2a2a2a" stroke-opacity="0.22" stroke-width="0.7" stroke-linecap="round"/>
<path d="M202.4 314.2h0M173.4 307.9h0M199.9 328.6h0M207.4 324.6h0M161.9 317.9h0M182.6 290.6h0M175.3 315.7h0M181.2 320.7h0M200.8 321.3h0M177.7 308.9h0M185.7 318.5h0M201.9 313.5h0M201.2 319.9h0M182.4 320.0h0M167.2 326.7h0M172.3 295.2h0M174.8 322.5h0M183.5 298.6h0M199.5 307.1h0M198.8 317.9h0M172.5 307.3h0M172.3 322.9h0M173.1 305.1h0M191.9 306.5h0M203.5 312.4h0M181.8 316.0h0M163.3 308.5h0M201.0 330.1h0M178.7 298.0h0M178.7 331.5h0M192.3 329.3h0M197.1 310.3h0M192.0 293.1h0M181.3 295.9h0M187.8 309.1h0M192.1 293.7h0M198.1 316.2h0M163.6 309.9h0M177.7 330.2h0M189.4 314.2h0M180.1 330.7h0M187.0 320.1h0M198.7 310.2h0M199.0 302.6h0M203.6 317.4h0M184.8 314.7h0M172.5 323.2h0M191.0 295.7h0M183.4 312.2h0M173.4 305.8h0M199.1 322.1h0M161.7 319.5h0M195.5 299.1h0M200.1 317.1h0M205.6 318.8h0M196.2 310.2h0M194.4 322.6h0M187.1 322.4h0M196.5 303.6h0M208.3 321.7h0M183.9 317.9h0M168.6 299.4h0M174.8 314.6h0M208.6 321.5h0M175.4 323.1h0M178.3 308.8h0M170.7 311.8h0M161.1 313.5h0M171.3 317.1h0M193.4 308.8h0M177.4 322.1h0M179.2 330.5h0M160.6 317.9h0M187.7 311.5h0M171.2 315.2h0M194.5 297.8h0M177.8 328.5h0M195.2 324.7h0M187.0 322.6h0M178.4 298.2h0M193.6 295.8h0M209.2 326.6h0M179.2 325.5h0M170.9 322.0h0M165.5 319.1h0M185.3 309.4h0M199.6 319.8h0M201.4 326.7h0M196.8 321.2h0M207.5 329.5h0M192.7 291.6h0M183.6 311.0h0M179.6 328.6h0M176.9 312.5h0M207.6 320.5h0M191.2 314.5h0M193.5 332.5h0M182.7 300.2h0M188.8 307.9h0M176.1 317.8h0M201.9 331.1h0M171.6 319.2h0M177.9 311.7h0M191.4 313.9h0M167.9 300.1h0M194.6 297.1h0M201.2 301.2h0M186.7 302.6h0M184.1 319.7h0M174.8 295.2h0M204.8 323.5h0M193.8 320.2h0M178.7 305.6h0M197.7 321.0h0M173.1 308.0h0M180.8 311.6h0M164.7 312.4h0M189.3 291.0h0M187.7 301.7h0M178.9 302.1h0M171.3 317.5h0M164.6 300.3h0M176.8 304.7h0M174.6 310.1h0M173.2 295.8h0M181.3 326.4h0M179.4 296.4h0M189.2 327.6h0M185.0 317.0h0M163.8 317.1h0M178.8 308.6h0M187.8 332.1h0M193.9 299.6h0M187.3 295.1h0M171.7 329.3h0M184.7 309.8h0M187.1 303.7h0M189.8 297.3h0M205.8 323.3h0M188.9 298.5h0M191.8 294.5h0M173.8 295.0h0M197.0 299.9h0M177.9 297.0h0M185.3 298.5h0M183.4 299.6h0M199.0 316.8h0M197.3 323.3h0M185.7 322.1h0M201.0 316.0h0M206.5 324.1h0M179.8 298.7h0M188.1 323.8h0M208.3 328.9h0M188.4 307.4h0M202.4 328.5h0M175.2 296.0h0M165.7 323.2h0M197.8 331.4h0M199.4 330.0h0M207.0 327.6h0M168.7 306.5h0M185.3 295.4h0M179.0 323.0h0M181.0 308.7h0M198.4 305.7h0M188.2 301.0h0M191.2 322.1h0M170.8 310.8h0M175.2 293.4h0M176.4 295.0h0M181.7 306.7h0M202.1 314.0h0M198.3 321.3h0M196.2 319.8h0M183.5 316.1h0M174.4 311.0h0M192.3 305.5h0M196.8 324.5h0M172.8 330.5h0M206.8 322.0h0M166.8 307.8h0M206.7 325.2h0M193.5 319.1h0M202.4 324.1h0M169.7 322.7h0M170.9 317.8h0M202.0 329.6h0M193.7 321.4h0M202.1 311.3h0M180.5 315.5h0M197.4 296.7h0M197.3 296.6h0M170.4 329.3h0M191.8 326.5h0M205.1 328.1h0M188.7 308.9h0M199.0 306.4h0M164.0 300.8h0M185.6 305.1h0M192.4 326.4h0M167.9 309.8h0M174.2 307.9h0M176.9 331.4h0M209.0 328.2h0M193.4 316.7h0M175.3 316.0h0M199.6 308.5h0M180.3 302.8h0M198.2 296.8h0M187.9 308.8h0M210.2 326.4h0M192.2 317.2h0M201.8 331.4h0M204.1 332.1h0M192.1 311.1h0M175.8 328.8h0M187.6 306.5h0M181.5 307.9h0M195.3 325.3h0M177.9 295.6h0M169.4 324.1h0M186.6 290.3h0M181.4 315.5h0M198.8 304.2h0M166.0 323.5h0M191.0 319.9h0M159.3 309.9h0M167.9 309.3h0M183.3 323.8h0M176.6 297.6h0M186.1 330.9h0M159.6 312.0h0M174.6 322.3h0M175.0 307.2h0M174.0 319.9h0M173.8 321.3h0M199.3 331.1h0M192.8 295.4h0M184.4 321.3h0M182.6 326.9h0M172.5 327.3h0M195.2 325.6h0M183.2 318.5h0M179.1 322.6h0M199.7 301.5h0M197.1 308.0h0M191.9 298.4h0M174.9 331.4h0M206.0 330.8h0M180.1 297.3h0M208.7 330.4h0M181.8 319.4h0M196.2 326.8h0M201.6 324.1h0M183.2 301.3h0M193.3 318.8h0M172.5 313.0h0M200.6 324.8h0M160.7 302.8h0M201.9 311.2h0M169.4 327.4h0M174.6 322.1h0M178.6 305.0h0M200.2 318.4h0M179.1 299.3h0M189.3 303.5h0M184.2 324.1h0M179.6 323.1h0M169.4 310.1h0M207.4 323.0h0M164.3 301.1h0M185.6 305.6h0M170.5 330.5h0M196.8 311.1h0M181.1 312.6h0M199.9 330.5h0M204.6 311.9h0M179.0 295.2h0M174.6 306.5h0M175.1 297.6h0M192.1 301.1h0M199.9 313.0h0M178.4 322.9h0M181.2 309.1h0M161.8 312.4h0M180.5 330.2h0M175.5 301.4h0M167.7 327.4h0M181.9 300.4h0M176.6 321.7h0M182.2 330.0h0M176.9 303.0h0M193.7 319.1h0M186.9 291.1h0M171.4 326.7h0M194.4 319.5h0M201.1 329.5h0M197.8 314.0h0M182.4 314.7h0M196.2 304.1h0M200.9 307.4h0M169.3 328.3h0M184.3 293.2h0M189.1 321.1h0M179.2 325.7h0M196.1 311.4h0M193.7 330.9h0M185.0 305.8h0M169.2 299.5h0M197.4 308.1h0M170.2 299.5h0M207.7 321.2h0M198.1 323.5h0M166.1 302.0h0M173.5 328.4h0M182.7 302.7h0M179.9 291.2h0M173.7 325.0h0M164.7 302.9h0M192.6 327.4h0M187.6 312.7h0M187.0 308.5h0M178.9 319.3h0M198.6 297.1h0M202.2 329.4h0M184.4 317.8h0M196.4 297.0h0M195.8 297.3h0M206.8 325.0h0M170.6 301.8h0M184.7 302.3h0M174.5 297.7h0M196.5 323.9h0M182.4 308.5h0M184.5 300.5h0M181.5 322.8h0M194.3 318.5h0M184.5 291.5h0M194.5 330.3h0M179.2 311.7h0M187.9 304.9h0" stroke="#fff" stroke-opacity="0.3" stroke-width="0.9" stroke-linecap="round"/>
<path d="M172.6 330.8h0M175.1 309.3h0M180.0 292.6h0M166.2 303.2h0M193.6 319.4h0M162.6 318.5h0M185.7 304.8h0M180.6 325.3h0M168.0 306.0h0M167.0 314.9h0M194.1 329.1h0M172.7 300.3h0M197.7 331.6h0M206.1 326.3h0M199.7 320.0h0M180.8 323.7h0M181.8 308.9h0M206.3 331.5h0M177.6 297.9h0M189.7 326.6h0M198.1 307.1h0M188.7 315.7h0M184.4 305.4h0M184.0 301.7h0M185.2 308.4h0M172.9 305.9h0M174.8 317.2h0M175.0 327.0h0M159.3 310.0h0M163.7 316.5h0M187.6 316.5h0M172.8 301.2h0M204.5 325.7h0M206.1 316.5h0M193.5 306.6h0M196.6 315.2h0M160.4 306.8h0M207.2 329.7h0M177.6 296.5h0M183.8 313.0h0M160.7 314.7h0M184.0 297.2h0M200.4 305.8h0M169.6 302.5h0M173.4 322.4h0M181.0 325.6h0M176.2 320.1h0M176.5 310.0h0M207.5 319.2h0M181.3 307.0h0M189.6 323.2h0M168.4 305.8h0M193.7 292.8h0M182.7 303.2h0M192.9 317.1h0M191.0 324.0h0M178.0 324.8h0M166.2 311.8h0M178.2 330.0h0M165.9 303.9h0M186.6 294.7h0M189.0 292.4h0M165.6 312.7h0M167.1 303.0h0M173.2 331.1h0M193.3 299.8h0M193.8 329.3h0M192.4 305.0h0M200.7 323.8h0M170.9 306.9h0M194.4 322.6h0M169.2 304.7h0M176.9 315.6h0M186.7 293.6h0M199.6 318.6h0M181.0 304.6h0M189.5 311.2h0M199.1 312.8h0M202.2 313.6h0M195.5 306.1h0M179.2 298.0h0M173.6 314.7h0M174.2 296.3h0M175.4 330.2h0M191.7 300.9h0M183.0 305.6h0M168.1 298.3h0M187.0 300.1h0M199.0 308.6h0M190.7 322.8h0M193.9 323.0h0M182.2 320.1h0M202.3 331.7h0M187.6 300.6h0M179.2 324.5h0M174.6 317.0h0M179.6 294.7h0M161.7 302.8h0M178.0 327.7h0M162.2 304.1h0M170.6 306.8h0M190.2 318.4h0M175.8 308.6h0M187.7 299.9h0M203.1 314.0h0M174.9 325.4h0M181.4 306.6h0M197.3 307.5h0M188.3 318.8h0M176.2 321.5h0M172.0 308.1h0M179.2 328.4h0M180.5 313.8h0M181.1 294.0h0M185.8 321.5h0M195.0 317.8h0M181.7 316.3h0M189.7 315.9h0M169.9 307.2h0M175.0 308.0h0M188.7 298.9h0M175.0 298.6h0M173.7 322.3h0M179.8 306.1h0M195.3 301.1h0M183.2 331.6h0M181.3 301.0h0M202.4 324.3h0M189.4 312.7h0M161.5 303.7h0" stroke="#c8bc70" stroke-opacity="0.8" stroke-width="1.2" stroke-linecap="round"/>
<path d="M184.4 332.6h0M171.7 294.7h0M185.3 290.6h0M203.9 301.3h0M177.8 292.0h0M183.1 331.5h0M180.1 291.0h0M201.6 296.8h0M197.8 298.3h0M173.8 293.7h0M201.2 303.5h0M210.8 325.4h0M208.0 323.2h0M167.2 298.5h0M177.0 288.4h0M208.7 327.3h0M179.4 291.4h0M175.6 331.6h0M198.4 333.2h0M198.7 333.7h0M181.6 289.6h0M163.1 298.6h0M172.9 294.6h0M210.8 329.7h0M179.3 290.6h0M161.0 302.5h0M210.2 328.1h0M195.3 292.9h0M168.1 296.6h0M199.6 333.5h0M194.7 293.6h0M170.6 296.4h0M158.9 306.5h0M161.7 322.6h0M163.4 323.1h0M197.7 333.3h0M204.8 315.8h0M159.6 314.9h0M204.3 306.0h0M159.9 314.7h0M195.6 293.3h0M200.0 295.8h0M182.0 289.9h0M207.3 315.4h0M176.8 292.6h0M159.2 303.8h0M195.7 292.9h0M173.0 293.5h0M172.7 331.2h0M164.1 298.9h0M191.3 291.1h0M204.5 317.0h0M201.5 302.9h0M158.5 302.9h0M210.4 326.8h0M193.2 292.8h0M168.1 295.8h0M180.2 334.0h0M183.1 289.9h0M206.3 314.1h0M161.9 300.9h0M159.2 314.2h0M183.1 334.2h0M170.8 330.1h0M158.8 306.3h0M200.5 300.8h0M197.4 295.5h0M210.6 327.6h0M202.1 304.3h0M199.5 297.4h0M175.7 294.1h0M185.8 290.4h0M181.4 334.1h0M163.5 301.8h0M203.3 306.5h0M168.0 297.0h0M160.2 306.7h0M157.7 309.4h0M159.6 304.8h0M159.5 312.0h0M197.6 295.3h0M202.8 305.9h0M203.2 305.4h0M198.3 294.9h0M197.3 292.6h0M209.2 330.3h0M166.4 325.0h0" stroke="#3a3a3a" stroke-opacity="0.35" stroke-width="0.8" stroke-linecap="round"/>
<path d="M159.6 302.0h0M210.2 323.3h0M194.1 293.8h0M158.9 312.1h0M209.0 323.0h0M204.4 311.4h0M160.5 301.3h0M194.8 293.9h0M201.9 304.7h0M203.6 309.5h0M171.7 331.5h0M196.6 333.8h0M159.9 313.1h0M209.1 328.6h0M156.8 310.6h0M161.0 319.0h0M189.8 333.5h0M210.5 325.5h0M208.4 328.9h0M191.8 291.3h0M171.7 332.0h0M209.8 323.1h0M187.6 332.2h0M161.1 302.7h0M208.7 322.1h0M158.3 317.2h0M165.2 324.4h0M163.4 301.7h0M203.3 308.9h0M197.1 292.8h0M160.4 301.0h0M177.7 289.7h0M168.9 328.7h0M174.9 334.1h0M177.9 291.7h0M188.0 290.6h0M169.3 329.7h0M159.0 319.0h0M158.4 317.5h0M192.9 293.4h0M187.1 331.3h0M170.9 295.9h0M160.3 315.2h0M174.7 331.3h0M210.8 325.2h0M156.9 306.0h0M201.0 300.6h0M157.5 312.7h0M159.5 312.6h0M209.4 324.9h0M159.0 308.5h0M192.3 291.0h0M200.1 294.5h0M211.4 329.8h0M173.5 294.3h0M162.3 322.9h0M182.9 291.2h0M208.8 319.6h0M193.1 332.3h0M203.2 307.3h0M203.6 310.5h0M164.2 323.3h0M183.3 333.0h0M178.2 332.9h0M203.1 305.5h0M192.2 290.1h0M209.5 329.1h0M161.4 320.9h0M205.9 313.1h0M198.6 333.4h0M197.1 333.3h0M164.7 301.1h0M170.7 294.1h0M201.6 333.6h0M202.5 333.6h0M160.0 304.6h0M207.1 315.6h0M202.0 307.4h0M177.8 292.3h0M158.3 313.3h0M189.9 332.6h0M177.5 291.8h0M207.7 315.6h0M207.6 319.0h0M166.1 300.1h0M197.9 294.7h0M169.9 294.6h0M199.5 297.6h0" stroke="#3a3a3a" stroke-opacity="0.65" stroke-width="0.8" stroke-linecap="round"/>
<path d="M 178.8 266.5 L 179.5 266.6 L 180.6 264.9 L 181.5 264.7 L 183.0 264.2 L 184.5 263.1 L 186.2 263.9 L 187.5 263.6 L 188.6 264.9 L 190.6 265.4 L 191.4 266.8 L 193.1 268.4 L 194.3 270.3 L 196.0 271.8 L 196.9 273.9 L 197.4 275.4 L 197.2 276.5 L 197.0 277.0 L 196.2 277.4 L 194.3 278.6 L 193.5 278.8 L 191.8 280.0 L 190.5 281.1 L 189.6 281.2 L 187.9 282.0 L 186.4 282.9 L 185.1 282.7 L 183.5 281.5 L 182.5 280.8 L 181.3 279.8 L 180.0 279.1 L 179.1 277.5 L 178.4 276.6 L 178.0 274.6 L 178.3 273.4 L 177.7 271.9 L 177.6 271.2 L 177.4 269.5 L 177.3 269.1 L 177.9 268.4 Z" fill="#dcdcdc" fill-opacity="1.0"/>
<path d="M 178.8 266.5 L 179.5 266.6 L 180.6 264.9 L 181.5 264.7 L 183.0 264.2 L 184.5 263.1 L 186.2 263.9 L 187.5 263.6 L 188.6 264.9 L 190.6 265.4 L 191.4 266.8 L 193.1 268.4 L 194.3 270.3 L 196.0 271.8 L 196.9 273.9 L 197.4 275.4 L 197.2 276.5 L 197.0 277.0 L 196.2 277.4 L 194.3 278.6 L 193.5 278.8 L 191.8 280.0 L 190.5 281.1 L 189.6 281.2 L 187.9 282.0 L 186.4 282.9 L 185.1 282.7 L 183.5 281.5 L 182.5 280.8 L 181.3 279.8 L 180.0 279.1 L 179.1 277.5 L 178.4 276.6 L 178.0 274.6 L 178.3 273.4 L 177.7 271.9 L 177.6 271.2 L 177.4 269.5 L 177.3 269.1 L 177.9 268.4 Z" fill="url(#tx1)"/>
<path d="M186.5 278.9h0M181.2 270.7h0M186.8 275.0h0M191.8 268.5h0M195.4 273.7h0M181.4 273.7h0M182.6 276.0h0M190.4 274.1h0M187.5 274.3h0M186.9 271.2h0M182.9 275.2h0M179.8 277.2h0M190.2 270.9h0M192.0 273.7h0M195.7 275.7h0M187.5 274.0h0M183.4 267.7h0M187.3 274.0h0M179.5 269.0h0M193.1 276.1h0M182.8 273.2h0M181.3 275.2h0M181.9 279.8h0M179.5 273.8h0M191.3 269.7h0M191.6 269.6h0M187.7 266.2h0M188.8 271.8h0M188.2 266.3h0M189.5 270.2h0M185.0 275.3h0M187.9 276.9h0M185.4 277.4h0M187.6 266.9h0M195.3 274.1h0M189.9 270.9h0M181.5 278.6h0M186.2 268.7h0M180.0 274.4h0M187.6 265.1h0M185.5 265.8h0M191.2 274.2h0M192.4 276.3h0M186.8 265.0h0M185.8 272.4h0M189.0 266.6h0M186.3 282.4h0M189.9 269.9h0M185.9 267.7h0M191.2 268.9h0M183.9 271.0h0M185.7 279.2h0M182.3 272.3h0M184.3 266.9h0" stroke="#2a2a2a" stroke-opacity="0.22" stroke-width="0.7" stroke-linecap="round"/>
<path d="M189.3 275.2h0M191.6 277.4h0M183.7 272.9h0M189.4 272.3h0M196.6 275.8h0M189.4 274.6h0M188.4 273.5h0M182.4 269.7h0M189.8 269.2h0M180.9 268.3h0M181.2 272.7h0M181.1 267.4h0M185.5 274.1h0M182.1 275.1h0M180.1 273.8h0M185.8 275.7h0M185.0 265.6h0M188.4 271.9h0M180.4 275.1h0M191.6 276.1h0M186.5 274.8h0M185.8 270.2h0M188.5 273.1h0M187.8 270.9h0M184.4 270.3h0M192.8 270.7h0M190.5 279.7h0M187.7 266.1h0M189.4 271.8h0M191.9 273.6h0M184.3 268.8h0M179.1 274.7h0M184.7 276.8h0M186.6 274.9h0M188.4 269.2h0M188.3 277.1h0M191.8 275.2h0M188.0 279.0h0M197.1 275.3h0M182.0 276.5h0M186.6 273.3h0M193.8 276.9h0M188.2 270.3h0M183.0 278.2h0M184.9 265.3h0M182.7 277.3h0M192.6 271.1h0M180.1 275.2h0M181.8 279.3h0" stroke="#fff" stroke-opacity="0.3" stroke-width="0.9" stroke-linecap="round"/>
<path d="M182.1 277.1h0M185.5 268.9h0M192.0 269.6h0M182.1 272.0h0M186.2 265.1h0M184.9 265.9h0M180.6 267.0h0M179.1 273.9h0M190.6 279.7h0M182.9 278.8h0M181.6 267.3h0M179.0 268.1h0M180.9 275.4h0M186.2 281.4h0M183.1 273.0h0M185.8 278.6h0M189.4 271.0h0M186.5 278.2h0M186.7 281.0h0M185.5 274.4h0M189.1 275.2h0M181.8 273.0h0M185.2 276.5h0M180.4 273.3h0M186.1 267.2h0M183.6 278.8h0M188.7 274.7h0M191.8 273.4h0M194.0 274.1h0M187.3 280.7h0M187.4 276.6h0M188.3 281.2h0M179.2 268.9h0M183.4 268.2h0M189.7 277.0h0M182.8 279.2h0M186.7 272.9h0M185.0 272.2h0M183.9 265.3h0M190.6 269.2h0" stroke="#888" stroke-opacity="0.8" stroke-width="1.2" stroke-linecap="round"/>
<path d="M194.7 271.5h0M193.2 270.1h0M186.6 263.6h0M180.1 263.3h0M196.8 276.4h0M189.8 280.6h0M179.1 268.6h0M178.3 272.2h0M177.5 268.3h0M196.8 277.5h0M179.5 278.6h0M192.3 280.0h0M186.3 264.3h0M178.3 276.1h0M179.7 264.1h0M182.5 263.1h0M196.2 273.5h0M178.7 273.3h0M185.0 284.1h0M193.3 279.5h0M177.8 267.0h0M188.0 282.9h0M182.0 264.0h0M196.1 277.3h0M193.2 269.5h0M192.0 279.1h0M178.9 265.8h0M178.8 271.3h0M183.2 264.0h0M179.4 265.9h0M192.2 281.4h0M182.3 263.7h0M180.8 266.0h0" stroke="#3a3a3a" stroke-opacity="0.35" stroke-width="0.8" stroke-linecap="round"/>
<path d="M188.8 265.6h0M186.6 281.4h0M196.6 276.9h0M195.9 272.6h0M177.3 274.2h0M176.2 272.0h0M181.4 279.5h0M196.6 276.9h0M180.5 278.9h0M197.9 278.6h0M191.7 279.8h0M182.1 279.3h0M189.0 262.9h0M193.8 278.7h0M192.9 279.0h0M178.0 269.4h0M197.0 275.8h0M190.7 278.7h0M193.7 277.8h0M193.8 271.8h0M193.7 269.6h0M188.4 266.3h0M196.8 272.3h0M192.5 278.7h0M196.2 274.3h0M192.9 276.8h0M190.8 281.2h0M176.0 276.8h0M178.5 278.7h0M180.4 264.8h0M179.1 277.0h0M181.4 265.2h0M190.9 266.1h0M192.4 278.5h0" stroke="#3a3a3a" stroke-opacity="0.65" stroke-width="0.8" stroke-linecap="round"/>
<path d="M 191.3 287.5 L 192.3 286.6 L 192.4 285.5 L 193.3 284.6 L 194.7 283.8 L 195.5 282.7 L 197.3 282.4 L 199.1 281.7 L 201.2 281.4 L 203.0 280.7 L 205.1 280.6 L 207.2 280.3 L 208.5 279.6 L 211.1 279.7 L 213.1 279.6 L 214.1 279.6 L 214.6 280.0 L 215.3 280.3 L 215.4 281.8 L 216.4 281.9 L 216.0 282.5 L 216.5 283.7 L 216.7 284.8 L 216.3 286.4 L 216.2 287.6 L 215.8 288.0 L 214.3 288.4 L 213.0 289.2 L 210.9 288.9 L 209.9 288.8 L 208.3 289.3 L 206.8 289.5 L 205.0 290.5 L 202.9 290.5 L 201.8 291.3 L 200.1 291.4 L 199.0 291.8 L 197.0 291.5 L 196.2 291.8 L 194.5 291.8 L 194.5 291.5 L 192.8 290.7 L 192.9 289.9 L 191.4 288.8 L 191.6 287.6 Z" fill="#36a03a" fill-opacity="1.0"/>
<path d="M 191.3 287.5 L 192.3 286.6 L 192.4 285.5 L 193.3 284.6 L 194.7 283.8 L 195.5 282.7 L 197.3 282.4 L 199.1 281.7 L 201.2 281.4 L 203.0 280.7 L 205.1 280.6 L 207.2 280.3 L 208.5 279.6 L 211.1 279.7 L 213.1 279.6 L 214.1 279.6 L 214.6 280.0 L 215.3 280.3 L 215.4 281.8 L 216.4 281.9 L 216.0 282.5 L 216.5 283.7 L 216.7 284.8 L 216.3 286.4 L 216.2 287.6 L 215.8 288.0 L 214.3 288.4 L 213.0 289.2 L 210.9 288.9 L 209.9 288.8 L 208.3 289.3 L 206.8 289.5 L 205.0 290.5 L 202.9 290.5 L 201.8 291.3 L 200.1 291.4 L 199.0 291.8 L 197.0 291.5 L 196.2 291.8 L 194.5 291.8 L 194.5 291.5 L 192.8 290.7 L 192.9 289.9 L 191.4 288.8 L 191.6 287.6 Z" fill="url(#tx1)"/>
<path d="M204.4 281.9h0M208.6 283.5h0M208.7 286.7h0M205.0 281.0h0M210.6 280.3h0M212.2 288.1h0M202.6 284.2h0M207.0 286.4h0M198.8 285.9h0M206.2 283.2h0M203.8 286.9h0M197.2 285.6h0M197.8 285.6h0M199.1 284.5h0M214.2 281.1h0M212.5 286.5h0M195.7 290.3h0M208.4 288.9h0M207.3 288.6h0M210.2 284.0h0M209.9 285.2h0M207.4 286.1h0M194.5 287.1h0M214.1 287.3h0M212.6 287.7h0M200.0 289.7h0M206.7 280.9h0M194.6 288.0h0M213.4 288.0h0M205.6 287.0h0M203.2 290.4h0M208.9 280.4h0M202.3 283.2h0M213.9 282.2h0M211.6 288.6h0M206.1 284.1h0M198.1 286.2h0M194.2 288.2h0M196.0 284.9h0M209.5 288.5h0M211.5 286.8h0M212.9 284.1h0M199.6 289.7h0M194.8 288.2h0M199.3 283.0h0M198.4 289.3h0M201.2 290.0h0M196.4 286.9h0M195.8 288.2h0" stroke="#2a2a2a" stroke-opacity="0.22" stroke-width="0.7" stroke-linecap="round"/>
<path d="M196.7 284.1h0M208.8 287.7h0M191.9 287.5h0M210.3 286.5h0M212.6 288.2h0M195.2 288.4h0M213.7 288.1h0M200.2 285.2h0M204.2 283.8h0M202.6 286.9h0M197.4 285.0h0M214.3 288.2h0M209.2 282.7h0M213.0 285.8h0M208.2 286.5h0M205.1 285.0h0M194.2 285.3h0M207.9 280.6h0M208.3 287.8h0M194.9 287.8h0M209.9 287.1h0M215.3 282.6h0M211.2 285.7h0M200.7 287.6h0M201.3 289.2h0M214.8 286.9h0M193.3 288.1h0M211.9 283.5h0M200.1 284.7h0M196.9 284.3h0M194.9 289.5h0M202.8 287.8h0M192.8 286.8h0M193.3 285.9h0M207.9 284.1h0M197.0 289.9h0M210.2 287.7h0M199.3 288.9h0M200.5 282.7h0M200.0 290.0h0M208.3 289.3h0" stroke="#fff" stroke-opacity="0.3" stroke-width="0.9" stroke-linecap="round"/>
<path d="M203.5 285.3h0M207.8 282.8h0M196.1 285.1h0M196.0 286.2h0M201.1 289.7h0M196.0 285.9h0M194.8 286.2h0M204.2 286.9h0M208.2 280.4h0M211.0 280.5h0M207.2 283.2h0M203.5 281.0h0M194.6 288.1h0M210.8 281.4h0M198.7 282.5h0" stroke="#1e7a22" stroke-opacity="0.8" stroke-width="1.2" stroke-linecap="round"/>
<path d="M205.6 279.1h0M215.0 279.7h0M216.3 284.0h0M194.6 291.8h0M211.0 288.5h0M190.8 288.7h0M214.7 289.3h0M208.4 280.5h0M192.6 291.6h0M207.4 279.3h0M191.3 288.1h0M195.3 283.7h0M217.0 285.9h0M198.6 281.3h0M216.0 283.3h0M213.9 280.5h0M205.1 280.4h0M216.3 280.3h0M216.7 287.5h0M193.4 285.2h0M195.4 282.3h0M200.4 290.3h0M215.6 282.3h0M199.8 289.7h0M195.0 282.5h0M214.9 282.0h0M213.1 289.5h0M193.1 290.8h0M198.9 282.7h0M208.1 287.3h0M199.8 281.3h0M215.1 279.0h0M217.6 284.9h0M201.3 280.2h0M200.9 291.4h0" stroke="#3a3a3a" stroke-opacity="0.35" stroke-width="0.8" stroke-linecap="round"/>
<path d="M215.2 278.3h0M192.0 286.2h0M190.2 286.6h0M206.1 280.7h0M216.5 281.6h0M213.1 290.2h0M200.2 283.0h0M198.3 290.1h0M196.6 291.8h0M213.8 290.0h0M215.8 284.6h0M195.1 283.4h0M217.4 279.7h0M195.6 292.5h0M213.5 289.2h0M207.6 290.0h0M207.1 280.1h0M214.4 279.9h0M192.9 288.8h0M192.4 284.8h0M202.6 282.4h0M199.1 283.6h0M192.4 288.4h0M196.3 282.5h0M212.2 289.2h0M216.1 286.2h0M197.2 284.7h0M216.8 281.2h0M216.9 281.4h0M217.4 285.7h0M203.2 293.2h0M197.5 291.7h0M201.6 282.1h0M191.6 290.9h0M215.4 285.9h0M200.9 291.7h0" stroke="#3a3a3a" stroke-opacity="0.65" stroke-width="0.8" stroke-linecap="round"/>
<path d="M 213.8 286.3 L 214.8 286.4 L 215.4 287.0 L 216.7 288.0 L 217.9 288.7 L 219.3 289.1 L 220.2 289.2 L 221.4 290.8 L 222.5 290.5 L 222.7 291.5 L 223.6 292.2 L 224.6 293.5 L 226.7 294.1 L 227.8 295.7 L 228.4 296.7 L 228.5 297.4 L 229.0 297.8 L 229.0 299.2 L 227.8 301.0 L 227.1 301.4 L 227.0 303.4 L 226.0 304.1 L 224.9 305.6 L 225.4 307.4 L 223.9 308.4 L 223.0 308.8 L 223.0 308.1 L 221.4 308.5 L 219.8 307.0 L 219.4 306.3 L 218.0 305.1 L 217.0 304.4 L 216.4 303.5 L 214.6 302.2 L 214.1 301.7 L 213.8 300.2 L 212.9 298.6 L 213.4 297.1 L 212.7 296.0 L 213.7 295.0 L 213.2 292.8 L 213.1 291.1 L 213.2 290.2 L 213.8 288.6 L 214.1 286.9 Z" fill="#1c5f9f" fill-opacity="1.0"/>
<path d="M 213.8 286.3 L 214.8 286.4 L 215.4 287.0 L 216.7 288.0 L 217.9 288.7 L 219.3 289.1 L 220.2 289.2 L 221.4 290.8 L 222.5 290.5 L 222.7 291.5 L 223.6 292.2 L 224.6 293.5 L 226.7 294.1 L 227.8 295.7 L 228.4 296.7 L 228.5 297.4 L 229.0 297.8 L 229.0 299.2 L 227.8 301.0 L 227.1 301.4 L 227.0 303.4 L 226.0 304.1 L 224.9 305.6 L 225.4 307.4 L 223.9 308.4 L 223.0 308.8 L 223.0 308.1 L 221.4 308.5 L 219.8 307.0 L 219.4 306.3 L 218.0 305.1 L 217.0 304.4 L 216.4 303.5 L 214.6 302.2 L 214.1 301.7 L 213.8 300.2 L 212.9 298.6 L 213.4 297.1 L 212.7 296.0 L 213.7 295.0 L 213.2 292.8 L 213.1 291.1 L 213.2 290.2 L 213.8 288.6 L 214.1 286.9 Z" fill="url(#tx1)"/>
<path d="M223.7 301.4h0M220.3 291.2h0M216.6 297.0h0M214.0 288.6h0M223.2 306.9h0M214.8 294.0h0M215.9 289.0h0M222.8 293.7h0M218.0 288.7h0M222.8 298.3h0M222.5 294.9h0M224.5 293.7h0M224.5 303.3h0M214.1 294.4h0M218.2 303.6h0M216.8 298.6h0M217.2 289.0h0M216.3 301.7h0M217.4 291.5h0M221.3 302.9h0M222.6 299.6h0M218.5 294.9h0M217.1 297.2h0M221.2 304.6h0M224.0 303.8h0M223.3 301.7h0M216.8 294.4h0M221.7 304.4h0M219.9 292.0h0M221.0 300.7h0M223.8 295.9h0M222.0 299.2h0M218.3 296.9h0M221.5 293.1h0M228.0 299.2h0M222.5 306.0h0M222.5 291.8h0M227.6 297.9h0M215.7 300.8h0M215.4 290.4h0M214.6 292.8h0M225.5 303.5h0M218.7 296.8h0M224.8 295.8h0M214.8 299.7h0M219.6 293.7h0M215.0 295.0h0M213.6 296.2h0M221.1 302.6h0M220.7 290.5h0M216.2 299.0h0" stroke="#2a2a2a" stroke-opacity="0.22" stroke-width="0.7" stroke-linecap="round"/>
<path d="M219.8 295.7h0M218.0 301.7h0M222.8 294.6h0M218.7 304.1h0M216.0 299.8h0M223.7 301.5h0M216.3 290.5h0M217.9 288.9h0M217.0 290.4h0M221.8 304.1h0M219.6 302.4h0M213.7 297.2h0M225.8 299.2h0M214.5 289.5h0M214.4 300.2h0M223.3 299.3h0M215.2 293.4h0M218.7 300.9h0M227.9 296.5h0M219.9 293.7h0M222.5 307.3h0M222.8 305.2h0M221.9 291.0h0M225.8 304.0h0M220.1 294.8h0M220.0 301.5h0M216.7 299.1h0M221.2 307.0h0M215.4 289.6h0M224.7 298.9h0M217.0 296.1h0M220.8 291.6h0M221.3 297.4h0" stroke="#fff" stroke-opacity="0.3" stroke-width="0.9" stroke-linecap="round"/>
<path d="M228.3 298.3h0M217.6 304.5h0M222.5 298.6h0M222.9 293.0h0M218.3 293.2h0M222.3 300.5h0M222.7 304.0h0M214.0 292.6h0M221.0 293.2h0M224.4 294.6h0M220.8 295.7h0M225.4 298.6h0M219.4 305.9h0M215.5 288.6h0M224.2 306.3h0M214.3 294.1h0M224.6 302.6h0M222.0 301.8h0M226.8 299.4h0M219.3 291.1h0M218.6 304.7h0M214.3 295.2h0M219.7 302.1h0M214.1 291.1h0M220.3 303.6h0" stroke="#0e3f72" stroke-opacity="0.8" stroke-width="1.2" stroke-linecap="round"/>
<path d="M222.9 291.1h0M213.3 297.7h0M226.9 303.9h0M214.0 292.3h0M227.6 295.2h0M215.0 284.7h0M221.0 291.1h0M228.4 300.1h0M216.2 288.1h0M226.4 299.9h0M218.4 305.8h0M214.0 285.4h0M214.2 301.2h0M215.1 288.6h0M224.9 306.6h0M227.4 301.6h0M221.3 289.5h0M228.6 295.0h0M212.9 296.8h0M217.8 304.0h0M220.0 289.5h0M213.7 300.5h0M214.8 290.7h0M222.2 290.9h0M212.7 287.2h0M229.5 298.7h0M222.7 290.5h0M223.1 293.7h0M215.3 285.3h0M213.6 289.3h0M214.7 301.3h0M214.1 285.9h0M214.9 291.1h0M217.5 304.9h0M221.0 288.4h0" stroke="#3a3a3a" stroke-opacity="0.35" stroke-width="0.8" stroke-linecap="round"/>
<path d="M226.6 293.1h0M217.4 286.9h0M213.8 299.8h0M225.3 304.6h0M223.7 304.9h0M214.4 291.6h0M220.5 289.1h0M216.3 285.6h0M222.5 293.3h0M225.8 293.3h0M217.3 305.2h0M221.0 306.5h0M223.8 309.0h0M223.5 292.3h0M219.6 306.7h0M214.7 289.9h0M212.9 295.3h0M214.0 299.0h0M228.6 293.5h0M220.2 289.5h0M220.4 307.6h0M219.0 288.1h0M228.5 297.8h0M229.5 296.6h0M225.0 292.4h0M212.6 294.9h0M215.1 286.4h0M222.8 309.5h0M214.6 298.2h0M212.1 295.8h0M228.8 296.4h0M214.5 294.5h0M225.3 306.1h0M229.8 298.5h0M227.1 306.4h0" stroke="#3a3a3a" stroke-opacity="0.65" stroke-width="0.8" stroke-linecap="round"/>
<path d="M 202.7 290.8 L 203.3 289.8 L 204.9 289.1 L 206.3 288.7 L 208.0 288.9 L 208.5 288.4 L 209.9 288.5 L 211.7 288.5 L 212.9 288.7 L 213.4 287.9 L 214.2 289.4 L 214.7 289.9 L 213.8 291.5 L 213.5 292.9 L 213.3 295.0 L 214.0 296.4 L 213.7 297.5 L 214.2 298.0 L 213.7 298.8 L 213.5 300.1 L 213.3 300.3 L 213.1 301.0 L 211.1 301.5 L 209.9 301.6 L 208.8 302.0 L 208.1 301.4 L 207.3 301.4 L 205.8 300.4 L 204.6 299.7 L 203.7 298.3 L 203.4 296.6 L 202.6 295.6 L 202.3 294.4 L 203.1 293.2 L 203.0 291.5 Z" fill="#f4f4f4" fill-opacity="1.0"/>
<path d="M 202.7 290.8 L 203.3 289.8 L 204.9 289.1 L 206.3 288.7 L 208.0 288.9 L 208.5 288.4 L 209.9 288.5 L 211.7 288.5 L 212.9 288.7 L 213.4 287.9 L 214.2 289.4 L 214.7 289.9 L 213.8 291.5 L 213.5 292.9 L 213.3 295.0 L 214.0 296.4 L 213.7 297.5 L 214.2 298.0 L 213.7 298.8 L 213.5 300.1 L 213.3 300.3 L 213.1 301.0 L 211.1 301.5 L 209.9 301.6 L 208.8 302.0 L 208.1 301.4 L 207.3 301.4 L 205.8 300.4 L 204.6 299.7 L 203.7 298.3 L 203.4 296.6 L 202.6 295.6 L 202.3 294.4 L 203.1 293.2 L 203.0 291.5 Z" fill="url(#tx1)"/>
<path d="M213.0 296.0h0M211.2 295.1h0M207.7 290.4h0M211.5 294.2h0M209.2 293.0h0M205.3 295.7h0M209.1 291.6h0M206.6 290.5h0M208.3 291.6h0M203.3 292.9h0M206.8 297.9h0M212.8 289.0h0M204.8 297.4h0M213.3 295.7h0M212.8 294.5h0M205.7 289.8h0M209.8 293.1h0M203.7 293.7h0M203.7 294.3h0M209.2 296.9h0M208.4 300.9h0M211.9 295.4h0M204.2 290.6h0M209.1 295.5h0M210.5 291.3h0M208.6 294.5h0M211.8 297.2h0M210.7 300.7h0M205.3 296.6h0M211.5 289.4h0M209.7 289.7h0M211.5 289.0h0" stroke="#2a2a2a" stroke-opacity="0.22" stroke-width="0.7" stroke-linecap="round"/>
<path d="M207.6 296.9h0M212.2 295.2h0M210.3 290.2h0M211.1 294.7h0M212.9 296.0h0M213.0 289.3h0M208.1 292.5h0M208.3 293.2h0M210.8 300.1h0M209.4 290.6h0M211.4 292.4h0M212.1 290.5h0M207.7 294.2h0M212.6 291.6h0M205.4 298.8h0M207.1 300.3h0M209.5 290.4h0M211.7 299.4h0" stroke="#fff" stroke-opacity="0.3" stroke-width="0.9" stroke-linecap="round"/>
<path d="M209.2 293.8h0M210.5 292.5h0M206.1 296.8h0M213.0 294.4h0M211.5 288.8h0M208.6 299.8h0M207.8 289.6h0M207.1 290.2h0M208.8 289.3h0M208.2 289.5h0" stroke="#999" stroke-opacity="0.8" stroke-width="1.2" stroke-linecap="round"/>
<path d="M205.1 300.5h0M210.9 287.7h0M203.7 299.7h0M214.9 297.6h0M214.3 288.3h0M214.6 299.9h0M213.2 287.9h0M213.2 300.4h0M204.9 290.7h0M208.3 288.6h0M202.9 296.8h0M204.3 295.9h0M204.1 294.3h0M212.7 300.7h0M214.3 297.6h0M212.5 295.7h0M213.0 296.5h0M214.6 291.9h0M212.9 301.1h0M203.2 296.9h0M215.9 290.0h0M212.0 296.7h0M202.9 294.7h0M202.5 294.7h0M206.3 289.1h0" stroke="#3a3a3a" stroke-opacity="0.35" stroke-width="0.8" stroke-linecap="round"/>
<path d="M209.0 301.4h0M203.2 297.0h0M204.7 289.7h0M203.4 295.1h0M203.3 297.4h0M204.0 290.3h0M214.7 289.8h0M207.3 301.4h0M215.2 294.6h0M213.4 291.9h0M211.2 302.6h0M202.3 290.8h0M206.3 294.4h0M214.0 299.5h0M214.3 287.1h0M203.0 297.9h0M213.2 288.6h0M202.8 289.6h0M216.1 289.7h0M203.5 295.2h0M203.0 295.0h0M206.7 288.3h0M212.8 294.7h0M210.1 303.3h0M214.3 291.8h0" stroke="#3a3a3a" stroke-opacity="0.65" stroke-width="0.8" stroke-linecap="round"/>
<path d="M 201.1 306.5 L 201.9 305.5 L 202.4 305.4 L 203.6 304.8 L 204.8 304.6 L 205.9 304.9 L 207.4 304.4 L 208.5 304.2 L 210.0 304.3 L 212.0 305.6 L 213.0 305.5 L 214.5 305.9 L 215.7 306.3 L 217.0 307.0 L 218.2 307.7 L 219.0 309.1 L 220.4 310.2 L 221.3 311.4 L 223.0 311.8 L 223.5 312.6 L 224.1 314.5 L 225.1 314.2 L 225.1 315.3 L 225.1 315.7 L 224.2 316.0 L 224.2 317.1 L 222.9 317.6 L 222.2 318.0 L 220.6 317.6 L 219.2 318.5 L 218.0 318.3 L 216.1 317.8 L 215.2 317.7 L 213.3 318.0 L 211.8 317.3 L 209.5 316.7 L 208.2 315.8 L 206.2 315.5 L 204.6 314.3 L 202.5 313.7 L 201.8 312.5 L 200.7 311.7 L 200.1 309.8 L 200.9 308.7 L 201.3 307.7 Z" fill="#f07d20" fill-opacity="1.0"/>
<path d="M 201.1 306.5 L 201.9 305.5 L 202.4 305.4 L 203.6 304.8 L 204.8 304.6 L 205.9 304.9 L 207.4 304.4 L 208.5 304.2 L 210.0 304.3 L 212.0 305.6 L 213.0 305.5 L 214.5 305.9 L 215.7 306.3 L 217.0 307.0 L 218.2 307.7 L 219.0 309.1 L 220.4 310.2 L 221.3 311.4 L 223.0 311.8 L 223.5 312.6 L 224.1 314.5 L 225.1 314.2 L 225.1 315.3 L 225.1 315.7 L 224.2 316.0 L 224.2 317.1 L 222.9 317.6 L 222.2 318.0 L 220.6 317.6 L 219.2 318.5 L 218.0 318.3 L 216.1 317.8 L 215.2 317.7 L 213.3 318.0 L 211.8 317.3 L 209.5 316.7 L 208.2 315.8 L 206.2 315.5 L 204.6 314.3 L 202.5 313.7 L 201.8 312.5 L 200.7 311.7 L 200.1 309.8 L 200.9 308.7 L 201.3 307.7 Z" fill="url(#tx1)"/>
<path d="M208.0 314.9h0M220.3 314.5h0M219.5 316.2h0M215.1 311.6h0M213.8 310.6h0M223.8 315.9h0M222.6 313.9h0M216.5 308.7h0M218.5 314.4h0M215.3 309.8h0M216.1 312.1h0M213.1 310.2h0M202.5 308.7h0M214.5 308.3h0M213.0 308.7h0M209.9 311.1h0M210.1 311.1h0M211.8 315.2h0M204.5 313.1h0M203.9 312.0h0M216.2 315.4h0M210.5 315.9h0M220.1 311.0h0M208.2 310.8h0M212.1 310.2h0M223.2 315.8h0M202.7 312.4h0M206.4 307.0h0M208.1 310.0h0M217.3 314.0h0M205.1 308.0h0M209.6 308.3h0M215.5 314.6h0M220.6 316.3h0M206.9 309.9h0M217.1 313.3h0M217.3 312.4h0M206.4 308.9h0M214.3 307.8h0M219.8 314.1h0M218.1 316.7h0M203.7 311.1h0M218.0 314.5h0M218.9 309.6h0M212.2 316.8h0M202.7 307.1h0M223.3 314.3h0" stroke="#2a2a2a" stroke-opacity="0.22" stroke-width="0.7" stroke-linecap="round"/>
<path d="M207.2 315.2h0M209.8 312.8h0M215.9 308.6h0M210.7 311.8h0M204.7 305.8h0M213.7 307.6h0M206.2 305.0h0M220.1 312.6h0M217.8 312.5h0M205.0 307.6h0M204.6 308.5h0M205.1 314.0h0M207.8 311.8h0M211.5 307.9h0M212.0 306.8h0M220.4 310.3h0M215.6 310.2h0M201.5 312.2h0M221.4 315.5h0M207.5 313.7h0M221.3 314.8h0M207.3 310.7h0M203.4 308.1h0M218.8 316.6h0M208.7 308.6h0M210.4 316.1h0M209.5 314.4h0M205.1 305.4h0M221.8 315.7h0M204.5 306.4h0M211.3 309.6h0M209.9 314.1h0M211.7 308.8h0M202.4 311.1h0M211.6 311.4h0M211.7 307.0h0M204.0 310.7h0M213.1 309.0h0M203.0 306.8h0M214.7 316.3h0M204.0 312.9h0M208.8 311.1h0M216.9 308.4h0" stroke="#fff" stroke-opacity="0.3" stroke-width="0.9" stroke-linecap="round"/>
<path d="M213.8 311.4h0M212.9 314.5h0M220.7 311.6h0M205.3 305.4h0M203.8 308.9h0M210.4 314.6h0M212.2 307.8h0M205.5 304.8h0M221.2 316.9h0M210.3 307.5h0M217.2 308.8h0M217.0 315.9h0M219.0 316.3h0M217.8 308.8h0M205.9 311.0h0" stroke="#c05a10" stroke-opacity="0.8" stroke-width="1.2" stroke-linecap="round"/>
<path d="M225.6 313.7h0M221.0 319.2h0M214.3 317.3h0M225.0 315.9h0M217.6 319.4h0M202.2 305.2h0M218.5 308.4h0M203.2 305.4h0M223.5 314.6h0M212.9 305.9h0M214.8 306.8h0M218.8 310.6h0M214.1 305.8h0M216.9 318.9h0M214.2 317.5h0M213.1 306.6h0M201.3 305.1h0M216.6 306.6h0M220.9 318.9h0M223.6 317.4h0M212.0 316.7h0M224.8 317.3h0M225.9 314.7h0M218.9 317.1h0M205.6 304.6h0M214.0 318.4h0M197.8 308.2h0M213.4 318.1h0M201.1 310.6h0M221.4 318.3h0M201.0 307.5h0M204.1 304.1h0M219.0 317.2h0M221.7 311.8h0M201.9 306.1h0" stroke="#3a3a3a" stroke-opacity="0.35" stroke-width="0.8" stroke-linecap="round"/>
<path d="M202.7 315.4h0M208.2 303.6h0M220.2 310.4h0M207.7 304.5h0M225.3 314.9h0M208.1 303.3h0M204.4 314.4h0M224.9 314.7h0M214.6 316.9h0M220.8 319.2h0M207.9 304.8h0M222.9 313.3h0M224.6 313.4h0M222.8 313.7h0M209.0 304.6h0M225.6 315.8h0M201.3 310.9h0M224.1 316.1h0M209.1 316.0h0M214.9 316.5h0M215.5 307.3h0M205.0 314.6h0M222.6 315.1h0M221.2 310.6h0M224.9 316.9h0M224.9 316.4h0M209.7 316.2h0M210.6 305.1h0M225.0 316.8h0M221.1 310.6h0M205.6 316.1h0M203.4 303.5h0M205.6 304.4h0M215.8 317.8h0M219.4 318.7h0M208.3 304.0h0" stroke="#3a3a3a" stroke-opacity="0.65" stroke-width="0.8" stroke-linecap="round"/>
<path d="M 173.0 327.3 L 173.8 327.2 L 175.7 327.0 L 177.2 326.3 L 179.0 326.0 L 180.6 325.8 L 183.3 326.1 L 185.8 325.2 L 188.1 326.2 L 190.0 326.1 L 191.7 326.5 L 192.5 327.6 L 192.2 328.7 L 192.1 329.8 L 190.5 331.2 L 189.3 331.6 L 187.9 332.6 L 186.4 332.1 L 184.0 332.9 L 181.2 332.3 L 179.4 332.7 L 177.2 332.5 L 175.9 332.8 L 174.9 331.7 L 173.6 331.9 L 172.1 330.5 L 171.9 330.4 L 171.5 329.5 L 171.6 328.8 L 171.4 327.7 Z" fill="#a9c8e6" fill-opacity="1.0"/>
<path d="M 173.0 327.3 L 173.8 327.2 L 175.7 327.0 L 177.2 326.3 L 179.0 326.0 L 180.6 325.8 L 183.3 326.1 L 185.8 325.2 L 188.1 326.2 L 190.0 326.1 L 191.7 326.5 L 192.5 327.6 L 192.2 328.7 L 192.1 329.8 L 190.5 331.2 L 189.3 331.6 L 187.9 332.6 L 186.4 332.1 L 184.0 332.9 L 181.2 332.3 L 179.4 332.7 L 177.2 332.5 L 175.9 332.8 L 174.9 331.7 L 173.6 331.9 L 172.1 330.5 L 171.9 330.4 L 171.5 329.5 L 171.6 328.8 L 171.4 327.7 Z" fill="url(#tx1)"/>
<path d="M189.1 330.5h0M176.2 331.3h0M179.3 326.5h0M179.2 327.5h0M180.8 332.1h0M176.7 329.0h0M187.9 326.6h0M177.0 331.7h0M176.6 329.4h0M176.6 330.2h0M187.1 328.9h0M181.9 330.2h0M182.4 326.1h0M177.2 329.1h0M186.6 326.5h0M183.6 329.6h0M184.8 328.9h0M183.6 332.3h0M174.6 327.7h0M180.8 325.8h0M174.7 327.1h0M181.4 330.7h0M173.9 327.9h0M174.8 330.0h0M179.4 330.8h0M185.3 331.9h0" stroke="#2a2a2a" stroke-opacity="0.22" stroke-width="0.7" stroke-linecap="round"/>
<path d="M189.4 331.0h0M181.9 326.2h0M181.9 331.6h0M183.0 330.2h0M183.1 329.6h0M181.1 327.1h0M183.1 325.9h0M190.5 327.2h0M172.9 329.4h0M177.0 327.4h0M175.0 331.3h0M185.9 332.0h0M187.2 329.5h0M187.8 328.2h0M188.1 330.7h0M181.7 326.1h0M180.8 330.7h0M181.0 328.9h0M188.6 331.3h0M189.7 327.1h0" stroke="#fff" stroke-opacity="0.3" stroke-width="0.9" stroke-linecap="round"/>
<path d="M184.8 331.8h0M186.2 329.2h0M172.8 328.5h0M175.9 327.1h0M184.4 328.9h0M177.1 331.8h0M185.3 331.1h0M188.4 327.4h0M180.5 328.3h0M176.4 329.4h0M183.8 329.4h0M179.8 326.6h0" stroke="#7aa0c8" stroke-opacity="0.8" stroke-width="1.2" stroke-linecap="round"/>
<path d="M189.0 331.5h0M186.6 325.8h0M183.5 326.2h0M178.9 326.7h0M184.4 333.2h0M175.8 328.1h0M174.4 327.5h0M176.8 332.4h0M191.7 326.1h0M188.7 330.2h0M173.9 326.9h0M172.4 328.1h0M170.8 329.6h0M170.8 329.5h0M177.3 331.8h0M193.4 328.7h0M191.7 324.9h0M193.0 327.0h0M172.0 330.5h0M191.5 331.3h0M184.2 327.2h0M187.8 325.4h0M171.5 326.3h0M176.2 333.5h0M187.6 331.9h0M172.3 330.7h0M171.8 329.9h0" stroke="#3a3a3a" stroke-opacity="0.35" stroke-width="0.8" stroke-linecap="round"/>
<path d="M180.1 332.8h0M192.5 326.0h0M172.5 329.5h0M188.9 327.3h0M172.6 326.7h0M176.9 332.6h0M176.6 325.2h0M190.4 325.7h0M175.5 334.9h0M171.6 332.2h0M190.5 329.3h0M185.2 332.9h0M192.3 327.0h0M183.2 326.2h0M190.7 331.5h0M172.8 328.2h0M172.4 328.0h0M189.2 331.4h0M173.1 330.2h0M180.4 326.2h0M172.9 330.0h0M191.1 326.8h0M173.4 331.6h0M172.2 328.9h0M184.2 332.6h0M188.7 326.8h0M170.7 326.7h0M170.9 327.7h0" stroke="#3a3a3a" stroke-opacity="0.65" stroke-width="0.8" stroke-linecap="round"/>
<path d="M 191.0 327.0 L 191.5 326.6 L 193.0 325.4 L 194.3 325.5 L 195.7 324.6 L 197.2 324.3 L 198.6 323.3 L 199.8 323.8 L 202.3 322.8 L 203.2 322.9 L 204.5 323.2 L 207.0 322.8 L 207.7 322.8 L 209.6 322.3 L 210.6 322.0 L 212.5 321.8 L 212.4 322.5 L 213.1 323.0 L 213.8 323.8 L 214.1 324.0 L 214.0 325.3 L 214.5 326.1 L 214.6 327.8 L 213.4 329.0 L 212.6 330.0 L 211.5 331.3 L 210.8 332.3 L 209.7 332.4 L 208.1 333.4 L 206.8 333.8 L 205.2 333.8 L 203.3 334.7 L 201.9 334.2 L 199.7 334.8 L 197.5 334.3 L 195.7 334.9 L 194.9 334.6 L 193.0 334.3 L 192.3 333.4 L 190.9 332.5 L 189.5 332.0 L 189.6 331.1 L 189.7 329.6 L 190.1 329.0 L 190.6 328.3 Z" fill="#efd95e" fill-opacity="1.0"/>
<path d="M 191.0 327.0 L 191.5 326.6 L 193.0 325.4 L 194.3 325.5 L 195.7 324.6 L 197.2 324.3 L 198.6 323.3 L 199.8 323.8 L 202.3 322.8 L 203.2 322.9 L 204.5 323.2 L 207.0 322.8 L 207.7 322.8 L 209.6 322.3 L 210.6 322.0 L 212.5 321.8 L 212.4 322.5 L 213.1 323.0 L 213.8 323.8 L 214.1 324.0 L 214.0 325.3 L 214.5 326.1 L 214.6 327.8 L 213.4 329.0 L 212.6 330.0 L 211.5 331.3 L 210.8 332.3 L 209.7 332.4 L 208.1 333.4 L 206.8 333.8 L 205.2 333.8 L 203.3 334.7 L 201.9 334.2 L 199.7 334.8 L 197.5 334.3 L 195.7 334.9 L 194.9 334.6 L 193.0 334.3 L 192.3 333.4 L 190.9 332.5 L 189.5 332.0 L 189.6 331.1 L 189.7 329.6 L 190.1 329.0 L 190.6 328.3 Z" fill="url(#tx1)"/>
<path d="M193.8 327.8h0M197.5 334.2h0M204.4 326.8h0M210.8 325.3h0M201.2 330.2h0M206.5 328.7h0M208.0 330.6h0M198.7 326.8h0M199.3 324.1h0M195.0 332.2h0M204.2 327.0h0M210.4 326.8h0M209.5 322.9h0M192.1 332.5h0M209.6 331.0h0M199.6 328.9h0M208.4 329.5h0M200.9 324.8h0M195.8 333.0h0M200.9 332.4h0M205.0 328.9h0M213.3 323.5h0M212.0 326.6h0M211.1 323.0h0M193.7 328.4h0M203.0 330.4h0M192.3 331.2h0M201.6 327.5h0M196.0 325.4h0M210.0 328.4h0M196.5 327.9h0M197.9 328.7h0M199.6 333.9h0M195.4 325.1h0M202.0 325.9h0M199.8 328.4h0M206.1 329.5h0M204.3 323.5h0M197.7 325.3h0M197.4 329.0h0M195.2 331.2h0M196.7 331.0h0M201.9 333.9h0M211.5 327.8h0M201.2 329.5h0M203.6 328.7h0M200.2 331.0h0M206.7 332.2h0M195.3 332.3h0M198.1 333.3h0M210.8 327.9h0M196.0 325.2h0M210.5 322.9h0M195.7 333.2h0M197.8 325.0h0M213.1 328.3h0M202.4 328.0h0M202.4 331.7h0M203.9 329.3h0M197.6 326.8h0" stroke="#2a2a2a" stroke-opacity="0.22" stroke-width="0.7" stroke-linecap="round"/>
<path d="M206.5 323.1h0M201.6 323.6h0M205.7 328.6h0M199.0 325.2h0M207.2 323.9h0M204.0 328.5h0M206.0 325.8h0M200.5 325.8h0M204.7 328.4h0M209.8 330.8h0M199.0 331.1h0M198.5 328.6h0M201.9 329.3h0M205.2 323.2h0M196.4 328.0h0M193.4 327.6h0M205.7 326.7h0M202.6 330.7h0M196.8 327.4h0M206.7 331.4h0M193.8 327.4h0M197.4 333.0h0M204.3 323.6h0M196.8 327.4h0M209.9 330.5h0M207.2 323.5h0M201.0 331.2h0M199.3 325.2h0M197.1 328.0h0M208.5 330.5h0M198.9 334.0h0M202.0 325.5h0M192.1 327.2h0M197.9 334.2h0M190.7 331.2h0M207.4 325.4h0M191.0 332.1h0M196.8 326.2h0M209.2 325.0h0M205.7 325.7h0M210.0 324.5h0" stroke="#fff" stroke-opacity="0.3" stroke-width="0.9" stroke-linecap="round"/>
<path d="M197.2 331.2h0M203.1 330.3h0M193.1 327.9h0M206.0 324.7h0M210.6 326.8h0M210.5 325.1h0M206.2 329.4h0M204.1 325.8h0M196.6 333.5h0M199.2 328.5h0M201.6 324.2h0M202.2 328.3h0M201.4 329.4h0M204.0 333.1h0" stroke="#c8b040" stroke-opacity="0.8" stroke-width="1.2" stroke-linecap="round"/>
<path d="M209.6 331.0h0M192.0 332.6h0M206.0 332.3h0M192.9 333.1h0M199.5 332.9h0M204.0 323.4h0M213.5 327.4h0M209.7 329.6h0M188.6 332.0h0M209.9 333.6h0M188.7 329.6h0M215.4 323.2h0M213.8 327.3h0M191.7 326.3h0M215.1 322.8h0M206.2 321.9h0M214.4 323.3h0M214.1 325.1h0M188.5 328.4h0M212.1 329.0h0M215.8 326.2h0M196.3 324.6h0M213.8 326.1h0M189.1 328.8h0M210.5 329.6h0M215.8 324.6h0M190.4 331.6h0M194.4 324.9h0M215.7 326.2h0M196.1 324.6h0M198.7 324.5h0M208.7 323.4h0M216.3 328.0h0M208.3 332.1h0M204.1 334.5h0" stroke="#3a3a3a" stroke-opacity="0.35" stroke-width="0.8" stroke-linecap="round"/>
<path d="M190.5 326.4h0M190.9 329.1h0M198.4 323.9h0M194.9 324.8h0M214.9 325.5h0M193.7 334.1h0M193.8 333.8h0M201.3 332.8h0M202.6 322.9h0M214.7 323.7h0M192.6 333.7h0M213.8 329.2h0M192.1 334.9h0M216.1 325.2h0M213.1 323.4h0M192.8 333.7h0M199.4 335.0h0M209.4 321.6h0M214.2 324.3h0M207.5 323.1h0M189.6 328.3h0M214.6 325.1h0M206.1 333.7h0M189.4 328.8h0M211.8 328.2h0M192.5 324.8h0M212.7 320.7h0M209.1 321.8h0M208.6 334.6h0M194.5 335.7h0M207.7 334.9h0M194.2 325.7h0M206.1 323.7h0M188.8 329.2h0M190.8 326.8h0" stroke="#3a3a3a" stroke-opacity="0.65" stroke-width="0.8" stroke-linecap="round"/>
<path d="M 204.8 318.3 L 205.4 317.5 L 207.0 317.9 L 208.2 317.3 L 210.7 317.7 L 211.6 317.0 L 214.1 317.2 L 215.8 317.6 L 217.7 317.7 L 219.3 317.8 L 220.5 318.8 L 221.2 319.2 L 221.2 320.4 L 221.9 321.3 L 221.9 322.1 L 220.7 322.6 L 219.8 323.9 L 219.5 325.4 L 218.0 325.8 L 216.8 327.1 L 214.9 326.8 L 214.2 327.6 L 212.8 327.2 L 211.7 326.8 L 210.2 325.4 L 208.5 325.3 L 207.4 324.1 L 206.6 322.0 L 205.6 321.5 L 204.9 320.1 Z" fill="#d4d4cc" fill-opacity="1.0"/>
<path d="M 204.8 318.3 L 205.4 317.5 L 207.0 317.9 L 208.2 317.3 L 210.7 317.7 L 211.6 317.0 L 214.1 317.2 L 215.8 317.6 L 217.7 317.7 L 219.3 317.8 L 220.5 318.8 L 221.2 319.2 L 221.2 320.4 L 221.9 321.3 L 221.9 322.1 L 220.7 322.6 L 219.8 323.9 L 219.5 325.4 L 218.0 325.8 L 216.8 327.1 L 214.9 326.8 L 214.2 327.6 L 212.8 327.2 L 211.7 326.8 L 210.2 325.4 L 208.5 325.3 L 207.4 324.1 L 206.6 322.0 L 205.6 321.5 L 204.9 320.1 Z" fill="url(#tx1)"/>
<path d="M215.4 326.6h0M220.2 323.4h0M213.9 319.7h0M215.4 323.3h0M219.6 320.4h0M211.3 319.3h0M217.3 322.8h0M211.1 318.1h0M213.8 318.9h0M214.2 321.8h0M219.4 322.6h0M217.2 319.9h0M216.8 324.1h0M210.9 321.1h0M210.4 318.6h0M211.1 320.7h0M216.7 321.8h0M214.7 318.8h0M208.5 322.6h0M215.2 319.4h0" stroke="#2a2a2a" stroke-opacity="0.22" stroke-width="0.7" stroke-linecap="round"/>
<path d="M215.9 318.1h0M211.8 322.9h0M219.4 319.8h0M215.5 326.2h0M207.1 318.7h0M209.2 321.1h0M220.5 322.5h0M212.6 318.8h0M212.2 320.6h0M215.1 325.7h0M213.1 319.1h0M212.4 319.6h0M219.5 319.3h0M213.6 326.0h0M219.0 324.1h0M220.2 321.3h0M214.4 319.9h0M212.2 319.9h0M215.2 321.5h0M215.3 321.2h0M208.2 319.7h0M216.3 324.8h0M211.1 320.7h0M214.4 323.2h0M215.5 324.6h0M215.7 319.9h0M217.8 324.9h0M214.3 325.5h0M213.9 317.9h0" stroke="#fff" stroke-opacity="0.3" stroke-width="0.9" stroke-linecap="round"/>
<path d="M218.4 322.3h0M214.2 318.7h0M216.6 320.2h0M209.1 318.5h0M218.0 319.8h0M211.2 320.7h0M216.9 319.7h0M211.8 321.4h0" stroke="#888" stroke-opacity="0.8" stroke-width="1.2" stroke-linecap="round"/>
<path d="M212.2 314.3h0M219.4 321.3h0M210.0 326.0h0M220.5 322.2h0M207.0 324.8h0M213.1 326.2h0M204.4 321.8h0M204.4 317.8h0M219.5 318.4h0M219.7 325.4h0M203.3 319.2h0M204.0 320.4h0M207.3 317.5h0M218.3 322.9h0M218.4 317.0h0M220.9 323.6h0M215.5 318.7h0M213.4 326.8h0M210.2 324.3h0M219.5 320.7h0M208.4 323.8h0M208.1 316.5h0M215.4 318.1h0M218.0 326.2h0M208.1 325.3h0" stroke="#3a3a3a" stroke-opacity="0.35" stroke-width="0.8" stroke-linecap="round"/>
<path d="M223.1 320.4h0M203.5 316.3h0M218.0 324.2h0M214.7 326.1h0M220.2 323.3h0M214.4 327.5h0M213.0 325.7h0M216.5 317.9h0M220.6 322.6h0M207.3 316.6h0M216.9 318.1h0M209.1 323.1h0M208.0 317.7h0M203.9 319.0h0M204.8 320.5h0M219.6 316.2h0M217.0 315.2h0M221.3 318.8h0M204.8 319.3h0M206.5 322.9h0M218.0 324.8h0M204.0 319.4h0M214.6 327.3h0M219.7 325.3h0M221.9 318.9h0" stroke="#3a3a3a" stroke-opacity="0.65" stroke-width="0.8" stroke-linecap="round"/>
<path d="M 192.9 314.5 L 193.6 312.9 L 195.7 313.4 L 196.3 313.1 L 197.6 313.4 L 198.9 313.2 L 199.8 314.8 L 200.2 315.4 L 200.5 317.4 L 200.8 319.4 L 200.3 320.1 L 199.5 320.4 L 198.0 321.5 L 196.0 321.4 L 195.1 320.5 L 194.3 320.7 L 193.1 320.1 L 193.1 318.4 L 192.7 316.1 L 192.4 315.4 Z" fill="#bcd8d0" fill-opacity="1.0"/>
<path d="M 192.9 314.5 L 193.6 312.9 L 195.7 313.4 L 196.3 313.1 L 197.6 313.4 L 198.9 313.2 L 199.8 314.8 L 200.2 315.4 L 200.5 317.4 L 200.8 319.4 L 200.3 320.1 L 199.5 320.4 L 198.0 321.5 L 196.0 321.4 L 195.1 320.5 L 194.3 320.7 L 193.1 320.1 L 193.1 318.4 L 192.7 316.1 L 192.4 315.4 Z" fill="url(#tx1)"/>
<path d="M194.0 314.6h0M196.3 316.2h0M195.8 316.8h0M194.1 317.3h0M197.5 318.6h0" stroke="#2a2a2a" stroke-opacity="0.22" stroke-width="0.7" stroke-linecap="round"/>
<path d="M195.5 314.8h0M199.3 317.3h0M195.6 316.2h0M194.1 318.5h0M195.4 320.0h0M198.0 316.7h0M197.5 315.3h0M197.2 316.6h0M199.0 319.7h0M199.0 313.6h0M198.4 319.3h0M195.6 317.3h0M197.2 314.0h0" stroke="#fff" stroke-opacity="0.3" stroke-width="0.9" stroke-linecap="round"/>
<path d="M199.2 315.7h0M198.8 314.4h0M195.3 319.0h0M197.9 314.7h0M198.9 317.7h0" stroke="#8ab0a8" stroke-opacity="0.8" stroke-width="1.2" stroke-linecap="round"/>
<path d="M202.8 317.2h0M200.3 314.5h0M201.1 316.4h0M194.0 320.2h0M196.1 313.1h0M194.3 321.1h0M191.4 315.6h0M200.6 319.5h0M199.3 318.1h0M192.4 318.3h0M198.8 315.8h0M201.5 314.7h0M201.4 316.9h0M195.3 321.3h0M199.5 321.1h0" stroke="#3a3a3a" stroke-opacity="0.35" stroke-width="0.8" stroke-linecap="round"/>
<path d="M200.0 319.5h0M193.1 316.7h0M199.8 319.8h0M199.6 314.3h0M199.9 318.2h0M192.3 317.0h0M194.6 321.5h0M193.8 313.2h0M198.4 313.4h0M194.5 320.6h0M197.6 321.1h0M194.6 319.5h0M199.7 313.5h0M200.1 318.4h0M200.6 318.8h0M193.9 311.6h0" stroke="#3a3a3a" stroke-opacity="0.65" stroke-width="0.8" stroke-linecap="round"/>
<path d="M 172.4 226.4 L 172.9 225.1 L 174.2 224.8 L 174.9 224.1 L 176.4 223.9 L 178.4 223.4 L 179.4 223.1 L 180.5 223.5 L 182.2 223.4 L 184.1 223.3 L 184.5 223.5 L 185.6 224.1 L 187.0 224.9 L 188.1 224.5 L 189.0 225.9 L 189.4 225.6 L 189.7 226.3 L 188.7 227.8 L 188.6 228.5 L 187.6 228.8 L 187.0 229.9 L 185.9 230.7 L 185.1 230.5 L 184.3 231.1 L 183.7 231.7 L 182.9 231.9 L 182.4 232.4 L 182.5 234.0 L 182.1 235.9 L 181.8 236.8 L 181.4 236.8 L 180.7 236.2 L 180.5 236.1 L 179.2 234.4 L 178.4 233.1 L 178.2 231.5 L 176.8 231.9 L 175.9 231.0 L 175.7 230.5 L 174.5 230.8 L 173.9 229.6 L 173.4 229.1 L 172.4 228.9 L 171.8 227.9 L 171.6 227.2 Z" fill="#c8142a" fill-opacity="1.0"/>
<path d="M 172.4 226.4 L 172.9 225.1 L 174.2 224.8 L 174.9 224.1 L 176.4 223.9 L 178.4 223.4 L 179.4 223.1 L 180.5 223.5 L 182.2 223.4 L 184.1 223.3 L 184.5 223.5 L 185.6 224.1 L 187.0 224.9 L 188.1 224.5 L 189.0 225.9 L 189.4 225.6 L 189.7 226.3 L 188.7 227.8 L 188.6 228.5 L 187.6 228.8 L 187.0 229.9 L 185.9 230.7 L 185.1 230.5 L 184.3 231.1 L 183.7 231.7 L 182.9 231.9 L 182.4 232.4 L 182.5 234.0 L 182.1 235.9 L 181.8 236.8 L 181.4 236.8 L 180.7 236.2 L 180.5 236.1 L 179.2 234.4 L 178.4 233.1 L 178.2 231.5 L 176.8 231.9 L 175.9 231.0 L 175.7 230.5 L 174.5 230.8 L 173.9 229.6 L 173.4 229.1 L 172.4 228.9 L 171.8 227.9 L 171.6 227.2 Z" fill="url(#tx1)"/>
<path d="M181.5 229.2h0M176.1 227.8h0M181.8 234.0h0M181.5 227.8h0M178.2 226.5h0M177.1 230.3h0M185.3 229.9h0M174.7 225.8h0M179.3 227.0h0M176.0 225.2h0M185.7 228.0h0M182.2 228.7h0M183.3 230.9h0M180.3 235.0h0M176.4 231.0h0M179.2 227.5h0M182.3 225.5h0M173.9 229.5h0M178.2 228.8h0M185.8 229.5h0M176.9 226.5h0M182.5 231.2h0" stroke="#2a2a2a" stroke-opacity="0.22" stroke-width="0.7" stroke-linecap="round"/>
<path d="M177.0 228.6h0M183.6 224.8h0M178.9 224.7h0M177.8 226.2h0M174.9 225.9h0M176.6 226.2h0M181.2 232.2h0M186.5 225.0h0M181.5 224.0h0M173.1 226.6h0M181.7 226.6h0M176.8 230.2h0M172.9 226.5h0M181.3 233.8h0M182.0 228.0h0M175.2 226.5h0M182.3 233.7h0M173.2 227.9h0M185.9 228.6h0M178.0 226.4h0M182.7 231.8h0M183.2 227.2h0M179.2 226.8h0M181.9 225.2h0M181.0 225.7h0M186.0 225.0h0" stroke="#fff" stroke-opacity="0.3" stroke-width="0.9" stroke-linecap="round"/>
<path d="M183.1 226.0h0M187.4 226.8h0M185.8 229.2h0M186.8 228.0h0M181.1 228.9h0M177.3 230.1h0M185.2 227.2h0M187.7 226.2h0" stroke="#8a0a1a" stroke-opacity="0.8" stroke-width="1.2" stroke-linecap="round"/>
<path d="M176.0 223.6h0M181.4 237.3h0M183.7 232.9h0M185.3 230.9h0M174.6 229.3h0M173.0 226.2h0M189.5 226.3h0M175.6 223.2h0M178.8 222.1h0M182.3 231.0h0M179.7 223.6h0M175.5 229.9h0M189.0 226.7h0M176.0 223.2h0M174.4 223.6h0M185.3 224.2h0M186.5 230.6h0M186.3 231.4h0M171.4 224.7h0M174.7 225.3h0M187.6 231.2h0M181.7 231.9h0M182.8 233.6h0M183.9 223.6h0M176.9 231.7h0M181.4 234.0h0M177.3 237.0h0M183.2 232.3h0" stroke="#3a3a3a" stroke-opacity="0.35" stroke-width="0.8" stroke-linecap="round"/>
<path d="M172.2 227.4h0M187.5 229.8h0M182.9 233.8h0M182.1 224.3h0M184.5 231.6h0M184.0 232.1h0M187.8 227.9h0M172.5 225.0h0M174.5 223.9h0M175.3 223.4h0M183.4 224.6h0M177.1 225.3h0M179.8 233.7h0M178.1 222.5h0M180.4 236.3h0M171.6 227.9h0M183.7 234.9h0M186.3 228.8h0M184.9 231.2h0M174.7 230.7h0M170.4 227.4h0M182.6 223.8h0M190.2 226.6h0M173.9 228.4h0M183.7 231.3h0M173.6 227.7h0M188.3 224.6h0M172.0 227.1h0M176.0 229.7h0" stroke="#3a3a3a" stroke-opacity="0.65" stroke-width="0.8" stroke-linecap="round"/>
<path d="M 222.4 243.0 L 222.5 242.0 L 222.9 241.7 L 223.7 241.1 L 225.3 240.9 L 226.2 240.0 L 227.4 239.6 L 228.9 239.5 L 229.4 240.1 L 231.1 239.4 L 231.8 239.8 L 232.4 239.9 L 234.4 241.0 L 234.3 241.6 L 235.7 241.9 L 235.3 243.0 L 235.4 244.2 L 234.9 244.5 L 233.9 244.9 L 234.1 245.7 L 232.5 247.3 L 232.9 248.1 L 231.6 249.9 L 231.2 251.4 L 230.8 253.2 L 229.5 253.4 L 229.4 253.8 L 228.4 253.3 L 228.1 251.4 L 227.5 250.4 L 226.8 249.5 L 226.0 249.3 L 225.5 249.3 L 224.5 248.6 L 223.3 247.3 L 223.4 247.3 L 222.5 246.5 L 221.7 245.8 L 221.6 244.5 L 221.4 244.2 Z" fill="#78924a" fill-opacity="1.0"/>
<path d="M 222.4 243.0 L 222.5 242.0 L 222.9 241.7 L 223.7 241.1 L 225.3 240.9 L 226.2 240.0 L 227.4 239.6 L 228.9 239.5 L 229.4 240.1 L 231.1 239.4 L 231.8 239.8 L 232.4 239.9 L 234.4 241.0 L 234.3 241.6 L 235.7 241.9 L 235.3 243.0 L 235.4 244.2 L 234.9 244.5 L 233.9 244.9 L 234.1 245.7 L 232.5 247.3 L 232.9 248.1 L 231.6 249.9 L 231.2 251.4 L 230.8 253.2 L 229.5 253.4 L 229.4 253.8 L 228.4 253.3 L 228.1 251.4 L 227.5 250.4 L 226.8 249.5 L 226.0 249.3 L 225.5 249.3 L 224.5 248.6 L 223.3 247.3 L 223.4 247.3 L 222.5 246.5 L 221.7 245.8 L 221.6 244.5 L 221.4 244.2 Z" fill="url(#tx1)"/>
<path d="M229.6 245.5h0M228.5 245.0h0M229.9 246.1h0M225.1 242.3h0M227.1 241.4h0M228.2 250.8h0M230.4 240.7h0M223.7 243.5h0M232.5 244.0h0M229.7 245.2h0M225.7 243.4h0M230.1 250.1h0M226.5 242.5h0M225.1 248.5h0M228.4 240.2h0M228.4 247.2h0M230.9 242.0h0M233.4 242.0h0M231.6 245.7h0M230.0 241.5h0M224.3 243.1h0M227.4 245.1h0M228.4 248.9h0M231.2 243.1h0M231.0 244.8h0M229.4 252.6h0M226.8 241.1h0M228.3 246.0h0M230.3 248.3h0" stroke="#2a2a2a" stroke-opacity="0.22" stroke-width="0.7" stroke-linecap="round"/>
<path d="M230.4 243.7h0M231.7 242.5h0M231.8 244.4h0M234.8 243.1h0M226.5 243.1h0M223.5 245.8h0M231.6 247.7h0M225.5 245.2h0M227.8 248.1h0M225.1 243.3h0M232.3 242.3h0M224.9 244.7h0M229.7 250.4h0M232.2 244.4h0M228.5 249.4h0M227.5 250.1h0M227.4 250.1h0M228.0 248.0h0M230.7 244.0h0M226.0 243.0h0M230.6 251.9h0M229.8 246.2h0" stroke="#fff" stroke-opacity="0.3" stroke-width="0.9" stroke-linecap="round"/>
<path d="M230.3 243.0h0M228.2 247.5h0M223.6 245.9h0M229.7 240.1h0M230.0 243.8h0M227.4 245.0h0M234.7 242.9h0M223.8 245.1h0M229.5 248.9h0M223.6 245.1h0" stroke="#4a6a2a" stroke-opacity="0.8" stroke-width="1.2" stroke-linecap="round"/>
<path d="M233.7 244.8h0M226.0 247.9h0M226.7 240.8h0M224.5 241.8h0M231.0 250.3h0M228.3 239.9h0M234.6 238.4h0M227.2 249.5h0M230.8 252.6h0M228.6 240.8h0M223.3 244.2h0M233.6 245.2h0M221.6 240.4h0M225.8 240.6h0M224.8 248.9h0M235.4 242.5h0M235.3 241.3h0M233.5 239.8h0M226.9 239.2h0M222.9 247.8h0M229.5 253.2h0M235.4 245.5h0M235.8 245.5h0M234.1 246.3h0M232.0 241.6h0" stroke="#3a3a3a" stroke-opacity="0.35" stroke-width="0.8" stroke-linecap="round"/>
<path d="M223.8 238.8h0M235.0 243.3h0M223.6 246.5h0M232.2 249.9h0M226.9 250.0h0M222.9 248.1h0M222.6 242.6h0M223.0 248.0h0M222.2 244.2h0M235.5 244.7h0M225.1 240.9h0M231.1 240.3h0M229.0 253.2h0M228.3 240.0h0M222.3 244.5h0M232.1 246.1h0M232.3 239.3h0M232.1 240.1h0M229.1 252.6h0M232.2 241.0h0M222.7 244.3h0M222.0 249.3h0M224.7 242.9h0M227.1 250.1h0M235.7 245.9h0M232.0 252.8h0" stroke="#3a3a3a" stroke-opacity="0.65" stroke-width="0.8" stroke-linecap="round"/>
<path d="M 208.1 334.2 L 208.3 334.2 L 210.0 334.9 L 211.5 336.3 L 213.2 337.5 L 214.4 337.6 L 215.3 339.2 L 216.1 340.0 L 216.9 341.0 L 217.9 341.8 L 219.3 343.1 L 220.5 343.8 L 221.5 345.1 L 221.5 345.3 L 223.1 346.2 L 223.9 346.3 L 224.9 345.8 L 226.4 345.8 L 227.5 344.8 L 228.5 344.2 L 230.4 344.4 L 230.6 343.1 L 231.3 342.1 L 231.7 340.5 L 232.5 340.7 L 233.4 340.1 L 233.2 340.5 L 234.2 342.2 L 234.9 343.4 L 235.4 344.9 L 235.6 346.5 L 237.2 347.4 L 237.4 348.8 L 237.7 349.3 L 238.9 351.2 L 238.8 352.2 L 239.3 353.6 L 238.4 354.9 L 238.1 355.8 L 236.6 356.8 L 235.9 358.5 L 234.5 359.0 L 233.5 359.3 L 232.4 360.2 L 231.5 360.5 L 230.2 360.5 L 228.6 360.8 L 227.1 360.7 L 226.1 360.0 L 224.8 360.0 L 223.9 359.2 L 223.3 358.6 L 222.6 357.6 L 221.5 356.2 L 221.3 354.8 L 219.6 353.6 L 219.1 353.0 L 219.0 351.1 L 218.2 348.9 L 217.0 347.3 L 216.1 346.4 L 214.5 344.7 L 213.1 343.0 L 212.0 342.3 L 210.5 341.5 L 209.5 340.3 L 209.0 338.5 L 208.9 336.6 L 208.0 335.3 L 208.1 334.8 Z" fill="#f1ad5c" fill-opacity="1.0"/>
<path d="M 208.1 334.2 L 208.3 334.2 L 210.0 334.9 L 211.5 336.3 L 213.2 337.5 L 214.4 337.6 L 215.3 339.2 L 216.1 340.0 L 216.9 341.0 L 217.9 341.8 L 219.3 343.1 L 220.5 343.8 L 221.5 345.1 L 221.5 345.3 L 223.1 346.2 L 223.9 346.3 L 224.9 345.8 L 226.4 345.8 L 227.5 344.8 L 228.5 344.2 L 230.4 344.4 L 230.6 343.1 L 231.3 342.1 L 231.7 340.5 L 232.5 340.7 L 233.4 340.1 L 233.2 340.5 L 234.2 342.2 L 234.9 343.4 L 235.4 344.9 L 235.6 346.5 L 237.2 347.4 L 237.4 348.8 L 237.7 349.3 L 238.9 351.2 L 238.8 352.2 L 239.3 353.6 L 238.4 354.9 L 238.1 355.8 L 236.6 356.8 L 235.9 358.5 L 234.5 359.0 L 233.5 359.3 L 232.4 360.2 L 231.5 360.5 L 230.2 360.5 L 228.6 360.8 L 227.1 360.7 L 226.1 360.0 L 224.8 360.0 L 223.9 359.2 L 223.3 358.6 L 222.6 357.6 L 221.5 356.2 L 221.3 354.8 L 219.6 353.6 L 219.1 353.0 L 219.0 351.1 L 218.2 348.9 L 217.0 347.3 L 216.1 346.4 L 214.5 344.7 L 213.1 343.0 L 212.0 342.3 L 210.5 341.5 L 209.5 340.3 L 209.0 338.5 L 208.9 336.6 L 208.0 335.3 L 208.1 334.8 Z" fill="url(#tx1)"/>
<path d="M232.5 347.0h0M232.3 350.5h0M219.6 347.6h0M233.0 358.1h0M229.3 356.5h0M218.9 346.5h0M221.7 350.5h0M225.8 352.9h0M238.5 352.1h0M213.4 343.4h0M232.2 347.2h0M233.6 341.3h0M231.5 353.3h0M233.9 353.4h0M230.5 345.7h0M234.5 358.2h0M220.5 347.0h0M211.3 339.9h0M212.9 339.8h0M219.4 348.1h0M214.1 341.1h0M235.5 357.9h0M229.2 350.6h0M208.7 335.9h0M210.1 339.3h0M225.9 350.3h0M231.9 355.8h0M225.5 357.4h0M218.4 348.2h0M233.3 345.2h0M218.6 350.2h0M230.8 358.1h0M236.3 347.4h0M234.6 354.0h0M234.0 343.8h0M220.1 352.1h0M223.9 358.7h0M216.5 342.9h0M235.7 356.3h0M227.1 349.6h0M223.2 345.9h0M231.2 359.2h0M223.9 351.0h0M234.7 349.5h0M211.4 337.5h0M233.4 349.8h0M230.3 359.7h0M209.7 338.5h0M231.5 346.3h0M225.1 354.9h0M231.9 345.7h0M220.4 346.1h0M225.8 350.5h0M232.2 344.3h0M235.6 349.1h0M222.1 347.1h0M212.6 338.0h0M224.7 346.7h0M217.7 342.7h0M226.9 352.1h0M219.0 344.1h0M235.2 357.7h0M229.7 351.7h0M233.0 350.6h0M226.7 356.4h0M227.5 346.3h0M226.1 347.4h0M228.2 355.5h0M219.4 351.0h0M208.9 335.7h0M220.6 349.9h0M234.3 342.6h0M222.9 354.8h0M219.4 352.3h0M230.5 351.4h0" stroke="#2a2a2a" stroke-opacity="0.22" stroke-width="0.7" stroke-linecap="round"/>
<path d="M235.8 346.9h0M228.0 351.4h0M234.0 346.6h0M232.1 350.6h0M217.1 341.4h0M224.2 353.7h0M226.2 351.6h0M227.2 346.8h0M219.2 343.9h0M224.4 356.9h0M227.0 355.6h0M226.7 358.8h0M226.6 353.3h0M235.1 357.4h0M232.2 357.7h0M229.7 354.3h0M235.6 352.9h0M218.8 345.8h0M234.2 357.8h0M231.1 353.0h0M225.9 347.3h0M222.4 347.2h0M222.3 346.6h0M215.6 340.8h0M235.6 354.5h0M227.7 354.4h0M222.7 346.9h0M232.4 349.6h0M237.5 352.7h0M228.7 351.2h0M231.2 354.9h0M229.7 358.0h0M230.7 358.9h0M227.0 346.7h0M231.5 355.0h0M226.7 358.2h0M218.7 343.8h0M231.1 352.6h0M213.9 339.1h0M224.1 349.9h0M230.1 345.5h0M215.9 345.4h0M228.1 349.9h0M226.3 356.4h0M229.7 344.6h0M221.6 349.2h0M233.2 345.3h0M230.7 357.4h0M215.7 343.6h0M212.7 339.4h0M221.4 346.2h0M226.7 348.2h0M228.4 351.3h0M237.7 351.7h0M236.8 349.6h0M236.3 352.5h0M233.3 346.5h0M230.9 357.0h0M235.1 348.8h0M210.9 337.3h0M231.7 344.8h0M212.0 337.5h0M226.8 354.1h0M233.8 342.3h0M233.2 346.2h0M221.3 349.6h0M234.1 346.5h0M221.2 349.1h0M222.8 352.1h0M225.7 354.1h0M232.3 347.7h0M233.4 358.9h0M216.3 346.0h0M210.2 338.7h0M231.6 342.8h0" stroke="#fff" stroke-opacity="0.3" stroke-width="0.9" stroke-linecap="round"/>
<path d="M212.7 338.1h0M221.6 348.5h0M237.2 354.1h0M210.0 336.7h0M220.8 346.7h0M229.3 353.7h0M238.1 351.5h0M234.6 344.2h0M228.3 349.1h0M235.6 346.8h0M209.3 335.7h0M236.2 352.9h0M232.1 350.2h0M235.7 353.9h0M224.5 352.5h0M216.5 343.9h0M219.9 346.6h0M226.2 346.7h0M221.2 350.3h0M224.9 346.1h0M230.7 355.7h0M209.2 335.9h0M223.8 354.5h0M230.9 353.1h0M218.5 348.2h0M224.1 346.0h0M223.1 356.9h0M230.1 350.2h0M222.8 352.3h0M225.6 357.9h0" stroke="#b87028" stroke-opacity="0.8" stroke-width="1.2" stroke-linecap="round"/>
<path d="M225.5 345.9h0M239.4 352.1h0M221.4 354.9h0M236.7 359.5h0M225.2 345.2h0M209.2 339.0h0M219.1 341.4h0M221.2 342.6h0M233.3 358.9h0M215.9 341.7h0M220.8 353.1h0M208.0 333.6h0M227.3 360.6h0M217.9 342.8h0M209.6 334.5h0M212.3 335.9h0M219.6 353.2h0M238.5 354.8h0M236.8 346.2h0M208.2 333.6h0M231.3 359.3h0M213.6 342.9h0M216.7 346.1h0M213.9 338.4h0M218.4 351.5h0M220.0 352.4h0M225.0 346.4h0M230.4 345.4h0M234.9 340.1h0M220.6 356.4h0M234.1 342.7h0M239.5 355.0h0M208.6 335.2h0M238.3 351.0h0M239.5 353.8h0M207.9 336.2h0M208.8 338.2h0M231.3 341.9h0M237.7 352.8h0M217.1 347.3h0M208.8 334.8h0M211.4 342.3h0M233.8 340.8h0M218.8 344.7h0M232.7 340.0h0M221.2 354.6h0M235.4 358.2h0M223.1 356.8h0M212.8 336.2h0M218.3 341.4h0M229.4 358.7h0M219.1 354.1h0M214.0 338.9h0M231.6 342.4h0" stroke="#3a3a3a" stroke-opacity="0.35" stroke-width="0.8" stroke-linecap="round"/>
<path d="M219.9 354.1h0M238.0 353.8h0M234.0 361.0h0M236.6 348.5h0M221.0 353.8h0M220.0 344.5h0M238.8 347.9h0M221.6 356.9h0M223.8 344.1h0M238.7 349.9h0M208.0 334.1h0M239.5 352.8h0M207.1 336.1h0M206.5 333.7h0M237.7 350.4h0M218.9 354.3h0M238.5 357.0h0M224.0 359.3h0M219.5 353.9h0M221.8 347.2h0M220.1 343.4h0M211.3 335.8h0M213.7 338.2h0M217.3 348.6h0M210.3 341.8h0M208.6 334.4h0M227.3 359.4h0M213.1 335.7h0M231.3 359.4h0M222.7 344.6h0M211.3 340.8h0M221.0 342.0h0M225.3 359.2h0M215.1 345.3h0M223.9 345.3h0M208.6 336.2h0M221.1 357.5h0M208.5 333.8h0M208.2 335.0h0M220.0 343.0h0M229.4 361.0h0M217.9 347.9h0M223.3 356.7h0M214.3 344.5h0M220.6 344.6h0M231.2 343.6h0M236.9 346.0h0M236.9 348.8h0M211.5 341.7h0M216.8 337.7h0M227.9 361.2h0M231.1 343.8h0M211.6 337.5h0M235.7 347.6h0M239.4 350.0h0" stroke="#3a3a3a" stroke-opacity="0.65" stroke-width="0.8" stroke-linecap="round"/>
<path d="M131.2 388.6 L133.3 384.6 L134.6 388.4 M135.3 388.5 L136.8 386.2 L137.6 388.4 M138.2 388 L139.6 385.6 L140.5 387.8 M136.5 385.8 L141.6 385.4" fill="none" stroke="#3d6e62" stroke-width="0.75"/>
<path d="M 155.2 407.6 L 156.8 406.2 L 158.5 405.4 L 163.2 402.0 L 162.6 401.4 L 158.2 404.2 L 156.6 404.9 L 155.6 403.4 L 154.6 403.8 L 155.4 405.6 Z" fill="#333"/>
<circle cx="159.5" cy="404.9" r="1.2" fill="#bbb"/>
<circle cx="104.5" cy="252" r="0.6" fill="#555" fill-opacity="0.7"/>
<circle cx="107" cy="253.2" r="0.5" fill="#555" fill-opacity="0.7"/>
<circle cx="109" cy="251" r="0.45" fill="#555" fill-opacity="0.7"/>
<circle cx="110.3" cy="254" r="0.5" fill="#555" fill-opacity="0.7"/>
<circle cx="115" cy="253" r="0.45" fill="#555" fill-opacity="0.7"/>
<circle cx="119" cy="252.6" r="0.7" fill="#555" fill-opacity="0.7"/>
<circle cx="119.4" cy="254.2" r="0.7" fill="#555" fill-opacity="0.7"/>
<circle cx="112" cy="258" r="0.55" fill="#555" fill-opacity="0.7"/>
<circle cx="113" cy="261" r="0.6" fill="#555" fill-opacity="0.7"/>
<circle cx="105" cy="259" r="0.45" fill="#555" fill-opacity="0.7"/>
<circle cx="99" cy="258" r="0.5" fill="#555" fill-opacity="0.7"/>
<circle cx="101" cy="256" r="0.4" fill="#555" fill-opacity="0.7"/>
<circle cx="108" cy="248" r="0.4" fill="#555" fill-opacity="0.7"/>
<circle cx="117" cy="247.5" r="0.45" fill="#555" fill-opacity="0.7"/>
<circle cx="96" cy="262" r="0.5" fill="#555" fill-opacity="0.7"/>
<circle cx="98.5" cy="262.5" r="0.4" fill="#555" fill-opacity="0.7"/>
<circle cx="102" cy="262" r="0.4" fill="#555" fill-opacity="0.7"/>
<circle cx="121.5" cy="250" r="0.35" fill="#555" fill-opacity="0.7"/>
<circle cx="106" cy="256" r="0.35" fill="#555" fill-opacity="0.7"/>
<circle cx="111.5" cy="249.5" r="0.4" fill="#555" fill-opacity="0.7"/>
<circle cx="94" cy="264" r="0.45" fill="#555" fill-opacity="0.7"/>
<circle cx="156" cy="301" r="0.45" fill="#666" fill-opacity="0.6"/>
<circle cx="157.5" cy="304" r="0.45" fill="#666" fill-opacity="0.6"/>
<circle cx="155" cy="308" r="0.45" fill="#666" fill-opacity="0.6"/>
<circle cx="158" cy="311" r="0.45" fill="#666" fill-opacity="0.6"/>
<circle cx="156.5" cy="314" r="0.45" fill="#666" fill-opacity="0.6"/>
<circle cx="154.5" cy="317" r="0.45" fill="#666" fill-opacity="0.6"/>
<circle cx="158.5" cy="318" r="0.45" fill="#666" fill-opacity="0.6"/>
<circle cx="157" cy="306.5" r="0.45" fill="#666" fill-opacity="0.6"/>
<circle cx="153.5" cy="311.5" r="0.45" fill="#666" fill-opacity="0.6"/>
<circle cx="159" cy="300" r="0.45" fill="#666" fill-opacity="0.6"/>
<circle cx="151.5" cy="305" r="0.45" fill="#666" fill-opacity="0.6"/>
<circle cx="155.5" cy="320.5" r="0.45" fill="#666" fill-opacity="0.6"/>
<rect x="62.7" y="281.2" width="13.9" height="3.2" fill="#fff" fill-opacity="0.85"/>
<text x="63.2" y="283.8" font-size="2.7" textLength="12.9" lengthAdjust="spacingAndGlyphs" fill="#333" stroke="#333" stroke-width="0.12">B cell-C12</text>
<rect x="73.0" y="262.6" width="23.0" height="3.2" fill="#fff" fill-opacity="0.85"/>
<text x="73.5" y="265.1" font-size="2.7" textLength="22.0" lengthAdjust="spacingAndGlyphs" fill="#333" stroke="#333" stroke-width="0.12">CD4 Helper T cell-C21</text>
<rect x="89.0" y="285.6" width="15.0" height="3.2" fill="#fff" fill-opacity="0.85"/>
<text x="89.5" y="288.1" font-size="2.7" textLength="14.0" lengthAdjust="spacingAndGlyphs" fill="#333" stroke="#333" stroke-width="0.12">CD4 Treg-C1</text>
<rect x="96.0" y="300.7" width="29.0" height="3.2" fill="#fff" fill-opacity="0.85"/>
<text x="96.5" y="303.2" font-size="2.7" textLength="28.0" lengthAdjust="spacingAndGlyphs" fill="#333" stroke="#333" stroke-width="0.12">CD4 Naive T cell-C20</text>
<rect x="83.5" y="310.4" width="28.5" height="3.2" fill="#fff" fill-opacity="0.85"/>
<text x="84.0" y="312.9" font-size="2.7" textLength="27.5" lengthAdjust="spacingAndGlyphs" fill="#333" stroke="#333" stroke-width="0.12">CD4 Naive T cell-C2</text>
<rect x="96.0" y="320.3" width="23.0" height="3.2" fill="#fff" fill-opacity="0.85"/>
<text x="96.5" y="322.8" font-size="2.7" textLength="22.0" lengthAdjust="spacingAndGlyphs" fill="#333" stroke="#333" stroke-width="0.12">CD4 Naive T cell-C3</text>
<rect x="76.5" y="323.7" width="22.0" height="3.2" fill="#fff" fill-opacity="0.85"/>
<text x="77.0" y="326.2" font-size="2.7" textLength="21.0" lengthAdjust="spacingAndGlyphs" fill="#333" stroke="#333" stroke-width="0.12">CD4 Naive T cell-C24</text>
<rect x="91.5" y="338.2" width="25.5" height="3.2" fill="#fff" fill-opacity="0.85"/>
<text x="92.0" y="340.8" font-size="2.7" textLength="24.5" lengthAdjust="spacingAndGlyphs" fill="#333" stroke="#333" stroke-width="0.12">CD4 Naive T cell-C27</text>
<rect x="34.0" y="317.7" width="17.0" height="3.2" fill="#fff" fill-opacity="0.85"/>
<text x="34.5" y="320.2" font-size="2.7" textLength="16.0" lengthAdjust="spacingAndGlyphs" fill="#333" stroke="#333" stroke-width="0.12">CD8 T cell-C8</text>
<rect x="43.0" y="336.7" width="14.0" height="3.2" fill="#fff" fill-opacity="0.85"/>
<text x="43.5" y="339.2" font-size="2.7" textLength="13.0" lengthAdjust="spacingAndGlyphs" fill="#333" stroke="#333" stroke-width="0.12">CD8 T cell-C5</text>
<rect x="25.8" y="355.1" width="4.6" height="3.2" fill="#fff" fill-opacity="0.85"/>
<text x="26.3" y="357.6" font-size="2.7" textLength="3.6" lengthAdjust="spacingAndGlyphs" fill="#333" stroke="#333" stroke-width="0.12">NK</text>
<rect x="173.5" y="226.6" width="13.8" height="3.2" fill="#fff" fill-opacity="0.85"/>
<text x="174.0" y="229.1" font-size="2.7" textLength="12.8" lengthAdjust="spacingAndGlyphs" fill="#333" stroke="#333" stroke-width="0.12">B cell-Plasma</text>
<rect x="223.0" y="242.3" width="11.7" height="3.2" fill="#fff" fill-opacity="0.85"/>
<text x="223.5" y="244.8" font-size="2.7" textLength="10.7" lengthAdjust="spacingAndGlyphs" fill="#333" stroke="#333" stroke-width="0.12">B cell-C11</text>
<rect x="180.4" y="270.0" width="11.6" height="3.2" fill="#fff" fill-opacity="0.85"/>
<text x="180.9" y="272.6" font-size="2.7" textLength="10.6" lengthAdjust="spacingAndGlyphs" fill="#333" stroke="#333" stroke-width="0.12">B cell-C13</text>
<rect x="199.0" y="282.6" width="13.7" height="3.2" fill="#fff" fill-opacity="0.85"/>
<text x="199.5" y="285.1" font-size="2.7" textLength="12.7" lengthAdjust="spacingAndGlyphs" fill="#333" stroke="#333" stroke-width="0.12">B cell-GCB</text>
<rect x="212.7" y="298.9" width="12.7" height="3.2" fill="#fff" fill-opacity="0.85"/>
<text x="213.2" y="301.4" font-size="2.7" textLength="11.7" lengthAdjust="spacingAndGlyphs" fill="#333" stroke="#333" stroke-width="0.12">B cell-C9</text>
<rect x="177.0" y="303.5" width="12.6" height="3.2" fill="#fff" fill-opacity="0.85"/>
<text x="177.5" y="306.1" font-size="2.7" textLength="11.6" lengthAdjust="spacingAndGlyphs" fill="#333" stroke="#333" stroke-width="0.12">B cell-C0</text>
<rect x="202.3" y="312.0" width="13.9" height="3.2" fill="#fff" fill-opacity="0.85"/>
<text x="202.8" y="314.6" font-size="2.7" textLength="12.9" lengthAdjust="spacingAndGlyphs" fill="#333" stroke="#333" stroke-width="0.12">B cell-C10</text>
<rect x="180.4" y="326.6" width="15.0" height="3.2" fill="#fff" fill-opacity="0.85"/>
<text x="180.9" y="329.1" font-size="2.7" textLength="14.0" lengthAdjust="spacingAndGlyphs" fill="#333" stroke="#333" stroke-width="0.12">B cell-C17</text>
<rect x="196.5" y="327.6" width="12.8" height="3.2" fill="#fff" fill-opacity="0.85"/>
<text x="197.0" y="330.1" font-size="2.7" textLength="11.8" lengthAdjust="spacingAndGlyphs" fill="#333" stroke="#333" stroke-width="0.12">B cell-C4</text>
<rect x="223.0" y="353.1" width="11.7" height="3.2" fill="#fff" fill-opacity="0.85"/>
<text x="223.5" y="355.6" font-size="2.7" textLength="10.7" lengthAdjust="spacingAndGlyphs" fill="#333" stroke="#333" stroke-width="0.12">B cell-C4</text>
<text x="135.50" y="391.60" font-size="2.6" text-anchor="middle" font-weight="normal" font-style="normal" fill="#666" >Macrophage</text>
</svg>
</body></html>
